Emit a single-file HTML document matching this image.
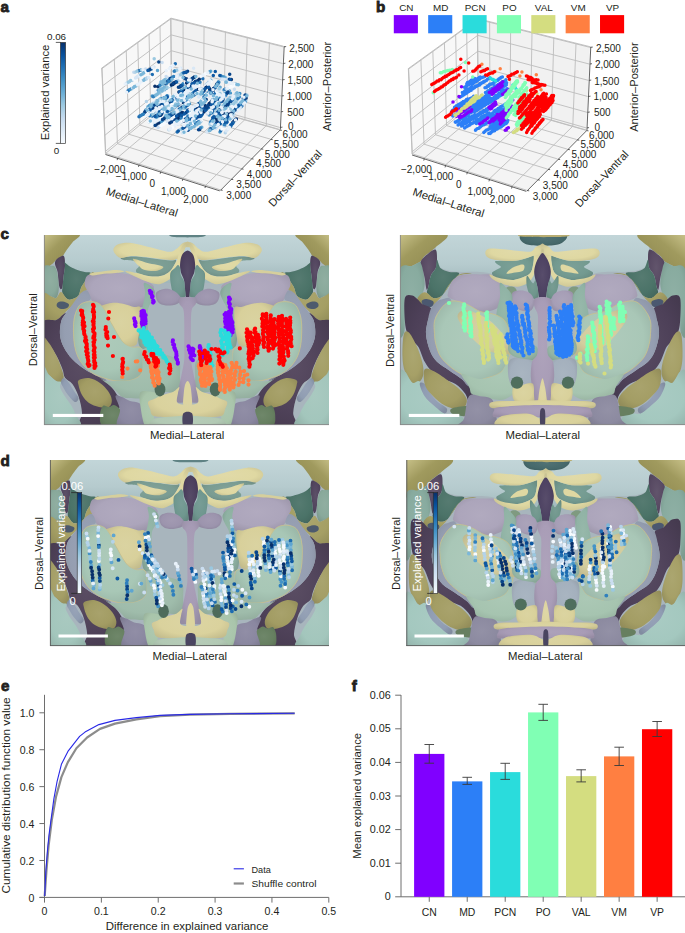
<!DOCTYPE html><html><head><meta charset="utf-8"><style>
html,body{margin:0;padding:0;background:#fff;}
svg{display:block;}
text{font-family:"Liberation Sans", sans-serif;}
</style></head><body>
<svg width="685" height="933" viewBox="0 0 685 933">
<text transform="translate(0.60,11.70)" font-size="15.2" text-anchor="start" font-weight="bold" fill="#231f20" stroke="#231f20" stroke-width="0.8">a</text>
<text transform="translate(376.00,11.60)" font-size="15.2" text-anchor="start" font-weight="bold" fill="#231f20" stroke="#231f20" stroke-width="0.8">b</text>
<text transform="translate(0.60,238.60)" font-size="15.2" text-anchor="start" font-weight="bold" fill="#231f20" stroke="#231f20" stroke-width="0.8">c</text>
<text transform="translate(0.60,466.00)" font-size="15.2" text-anchor="start" font-weight="bold" fill="#231f20" stroke="#231f20" stroke-width="0.8">d</text>
<text transform="translate(1.00,691.00)" font-size="15.2" text-anchor="start" font-weight="bold" fill="#231f20" stroke="#231f20" stroke-width="0.8">e</text>
<text transform="translate(351.80,690.60)" font-size="15.2" text-anchor="start" font-weight="bold" fill="#231f20" stroke="#231f20" stroke-width="0.8">f</text>
<polygon points="105.47,153.59 101.73,68.07 170.95,18.14 171.69,98.77" fill="#f8f8f8"/>
<polygon points="171.69,98.77 170.95,18.14 283.38,46.19 279.56,129.50" fill="#f1f1f1"/>
<polygon points="105.47,153.59 171.69,98.77 279.56,129.50 219.76,189.97" fill="#f4f4f4"/>
<line x1="105.47" y1="153.59" x2="101.73" y2="68.07" stroke="#bcbcbc" stroke-width="0.9"/>
<line x1="101.73" y1="68.07" x2="170.95" y2="18.14" stroke="#bcbcbc" stroke-width="0.9"/>
<line x1="170.95" y1="18.14" x2="283.38" y2="46.19" stroke="#bcbcbc" stroke-width="0.9"/>
<line x1="171.69" y1="98.77" x2="170.95" y2="18.14" stroke="#bcbcbc" stroke-width="0.9"/>
<line x1="105.47" y1="153.59" x2="171.69" y2="98.77" stroke="#bcbcbc" stroke-width="0.9"/>
<line x1="171.69" y1="98.77" x2="279.56" y2="129.50" stroke="#bcbcbc" stroke-width="0.9"/>
<line x1="117.75" y1="157.50" x2="183.32" y2="102.09" stroke="#bcbcbc" stroke-width="0.9"/>
<line x1="183.32" y1="102.09" x2="183.05" y2="21.16" stroke="#bcbcbc" stroke-width="0.9"/>
<line x1="139.07" y1="164.28" x2="203.49" y2="107.83" stroke="#bcbcbc" stroke-width="0.9"/>
<line x1="203.49" y1="107.83" x2="204.05" y2="26.40" stroke="#bcbcbc" stroke-width="0.9"/>
<line x1="160.80" y1="171.20" x2="224.02" y2="113.68" stroke="#bcbcbc" stroke-width="0.9"/>
<line x1="224.02" y1="113.68" x2="225.43" y2="31.73" stroke="#bcbcbc" stroke-width="0.9"/>
<line x1="182.95" y1="178.25" x2="244.91" y2="119.63" stroke="#bcbcbc" stroke-width="0.9"/>
<line x1="244.91" y1="119.63" x2="247.22" y2="37.17" stroke="#bcbcbc" stroke-width="0.9"/>
<line x1="205.55" y1="185.44" x2="266.19" y2="125.70" stroke="#bcbcbc" stroke-width="0.9"/>
<line x1="266.19" y1="125.70" x2="269.42" y2="42.71" stroke="#bcbcbc" stroke-width="0.9"/>
<line x1="105.74" y1="153.37" x2="220.00" y2="189.73" stroke="#bcbcbc" stroke-width="0.9"/>
<line x1="105.74" y1="153.37" x2="102.01" y2="67.87" stroke="#bcbcbc" stroke-width="0.9"/>
<line x1="117.45" y1="143.67" x2="230.62" y2="178.99" stroke="#bcbcbc" stroke-width="0.9"/>
<line x1="117.45" y1="143.67" x2="114.29" y2="59.01" stroke="#bcbcbc" stroke-width="0.9"/>
<line x1="128.85" y1="134.24" x2="240.93" y2="168.57" stroke="#bcbcbc" stroke-width="0.9"/>
<line x1="128.85" y1="134.24" x2="126.22" y2="50.40" stroke="#bcbcbc" stroke-width="0.9"/>
<line x1="139.93" y1="125.07" x2="250.94" y2="158.45" stroke="#bcbcbc" stroke-width="0.9"/>
<line x1="139.93" y1="125.07" x2="137.81" y2="42.05" stroke="#bcbcbc" stroke-width="0.9"/>
<line x1="150.70" y1="116.15" x2="260.66" y2="148.61" stroke="#bcbcbc" stroke-width="0.9"/>
<line x1="150.70" y1="116.15" x2="149.06" y2="33.93" stroke="#bcbcbc" stroke-width="0.9"/>
<line x1="161.19" y1="107.46" x2="270.11" y2="139.06" stroke="#bcbcbc" stroke-width="0.9"/>
<line x1="161.19" y1="107.46" x2="160.01" y2="26.03" stroke="#bcbcbc" stroke-width="0.9"/>
<line x1="171.41" y1="99.01" x2="279.30" y2="129.76" stroke="#bcbcbc" stroke-width="0.9"/>
<line x1="171.41" y1="99.01" x2="170.65" y2="18.35" stroke="#bcbcbc" stroke-width="0.9"/>
<line x1="105.38" y1="151.44" x2="171.67" y2="96.74" stroke="#bcbcbc" stroke-width="0.9"/>
<line x1="171.67" y1="96.74" x2="279.66" y2="127.41" stroke="#bcbcbc" stroke-width="0.9"/>
<line x1="104.68" y1="135.45" x2="171.53" y2="81.62" stroke="#bcbcbc" stroke-width="0.9"/>
<line x1="171.53" y1="81.62" x2="280.37" y2="111.81" stroke="#bcbcbc" stroke-width="0.9"/>
<line x1="103.97" y1="119.19" x2="171.39" y2="66.28" stroke="#bcbcbc" stroke-width="0.9"/>
<line x1="171.39" y1="66.28" x2="281.10" y2="95.96" stroke="#bcbcbc" stroke-width="0.9"/>
<line x1="103.24" y1="102.67" x2="171.25" y2="50.69" stroke="#bcbcbc" stroke-width="0.9"/>
<line x1="171.25" y1="50.69" x2="281.84" y2="79.86" stroke="#bcbcbc" stroke-width="0.9"/>
<line x1="102.51" y1="85.86" x2="171.10" y2="34.86" stroke="#bcbcbc" stroke-width="0.9"/>
<line x1="171.10" y1="34.86" x2="282.59" y2="63.50" stroke="#bcbcbc" stroke-width="0.9"/>
<line x1="101.76" y1="68.76" x2="170.96" y2="18.79" stroke="#bcbcbc" stroke-width="0.9"/>
<line x1="170.96" y1="18.79" x2="283.35" y2="46.86" stroke="#bcbcbc" stroke-width="0.9"/>
<line x1="105.47" y1="154.49" x2="219.76" y2="190.87" stroke="#3c3c3c" stroke-width="0.8"/>
<line x1="220.46" y1="190.37" x2="280.26" y2="129.90" stroke="#3c3c3c" stroke-width="0.8"/>
<line x1="280.36" y1="129.50" x2="284.18" y2="46.19" stroke="#3c3c3c" stroke-width="0.8"/>
<line x1="117.75" y1="158.00" x2="117.15" y2="160.10" stroke="#3c3c3c" stroke-width="0.8"/>
<line x1="139.07" y1="164.78" x2="138.47" y2="166.88" stroke="#3c3c3c" stroke-width="0.8"/>
<line x1="160.80" y1="171.70" x2="160.20" y2="173.80" stroke="#3c3c3c" stroke-width="0.8"/>
<line x1="182.95" y1="178.75" x2="182.35" y2="180.85" stroke="#3c3c3c" stroke-width="0.8"/>
<line x1="205.55" y1="185.94" x2="204.95" y2="188.04" stroke="#3c3c3c" stroke-width="0.8"/>
<line x1="220.50" y1="190.03" x2="222.60" y2="190.33" stroke="#3c3c3c" stroke-width="0.8"/>
<line x1="231.12" y1="179.29" x2="233.22" y2="179.59" stroke="#3c3c3c" stroke-width="0.8"/>
<line x1="241.43" y1="168.87" x2="243.53" y2="169.17" stroke="#3c3c3c" stroke-width="0.8"/>
<line x1="251.44" y1="158.75" x2="253.54" y2="159.05" stroke="#3c3c3c" stroke-width="0.8"/>
<line x1="261.16" y1="148.91" x2="263.26" y2="149.21" stroke="#3c3c3c" stroke-width="0.8"/>
<line x1="270.61" y1="139.36" x2="272.71" y2="139.66" stroke="#3c3c3c" stroke-width="0.8"/>
<line x1="279.80" y1="130.06" x2="281.90" y2="130.36" stroke="#3c3c3c" stroke-width="0.8"/>
<line x1="280.36" y1="127.41" x2="282.46" y2="127.11" stroke="#3c3c3c" stroke-width="0.8"/>
<line x1="281.07" y1="111.81" x2="283.17" y2="111.51" stroke="#3c3c3c" stroke-width="0.8"/>
<line x1="281.80" y1="95.96" x2="283.90" y2="95.66" stroke="#3c3c3c" stroke-width="0.8"/>
<line x1="282.54" y1="79.86" x2="284.64" y2="79.56" stroke="#3c3c3c" stroke-width="0.8"/>
<line x1="283.29" y1="63.50" x2="285.39" y2="63.20" stroke="#3c3c3c" stroke-width="0.8"/>
<line x1="284.05" y1="46.86" x2="286.15" y2="46.56" stroke="#3c3c3c" stroke-width="0.8"/>
<text transform="translate(109.80,172.90)" font-size="10.0" text-anchor="middle" font-weight="normal" fill="#231f20">−2,000</text>
<text transform="translate(131.30,179.90)" font-size="10.0" text-anchor="middle" font-weight="normal" fill="#231f20">−1,000</text>
<text transform="translate(152.30,187.00)" font-size="10.0" text-anchor="middle" font-weight="normal" fill="#231f20">0</text>
<text transform="translate(173.40,194.70)" font-size="10.0" text-anchor="middle" font-weight="normal" fill="#231f20">1,000</text>
<text transform="translate(195.70,202.70)" font-size="10.0" text-anchor="middle" font-weight="normal" fill="#231f20">2,000</text>
<text transform="translate(226.20,199.00)" font-size="10.0" text-anchor="start" font-weight="normal" fill="#231f20">3,000</text>
<text transform="translate(236.20,188.00)" font-size="10.0" text-anchor="start" font-weight="normal" fill="#231f20">3,500</text>
<text transform="translate(246.80,177.80)" font-size="10.0" text-anchor="start" font-weight="normal" fill="#231f20">4,000</text>
<text transform="translate(256.10,167.40)" font-size="10.0" text-anchor="start" font-weight="normal" fill="#231f20">4,500</text>
<text transform="translate(264.80,157.50)" font-size="10.0" text-anchor="start" font-weight="normal" fill="#231f20">5,000</text>
<text transform="translate(273.80,147.90)" font-size="10.0" text-anchor="start" font-weight="normal" fill="#231f20">5,500</text>
<text transform="translate(282.50,138.20)" font-size="10.0" text-anchor="start" font-weight="normal" fill="#231f20">6,000</text>
<text transform="translate(287.90,130.30)" font-size="10.0" text-anchor="start" font-weight="normal" fill="#231f20">0</text>
<text transform="translate(287.30,115.80)" font-size="10.0" text-anchor="start" font-weight="normal" fill="#231f20">500</text>
<text transform="translate(286.80,99.80)" font-size="10.0" text-anchor="start" font-weight="normal" fill="#231f20">1,000</text>
<text transform="translate(287.60,84.00)" font-size="10.0" text-anchor="start" font-weight="normal" fill="#231f20">1,500</text>
<text transform="translate(288.30,67.60)" font-size="10.0" text-anchor="start" font-weight="normal" fill="#231f20">2,000</text>
<text transform="translate(289.30,51.60)" font-size="10.0" text-anchor="start" font-weight="normal" fill="#231f20">2,500</text>
<text transform="translate(105.30,194.60) rotate(17.5)" font-size="11.1" text-anchor="start" font-weight="normal" fill="#231f20" textLength="74.5" lengthAdjust="spacingAndGlyphs">Medial–Lateral</text>
<text transform="translate(273.20,207.60) rotate(-47)" font-size="11.1" text-anchor="start" font-weight="normal" fill="#231f20" textLength="72.5" lengthAdjust="spacingAndGlyphs">Dorsal–Ventral</text>
<text transform="translate(331.20,131.30) rotate(-90)" font-size="11.1" text-anchor="start" font-weight="normal" fill="#231f20" textLength="89.5" lengthAdjust="spacingAndGlyphs">Anterior–Posterior</text>
<polygon points="412.07,154.09 408.33,68.57 477.55,18.64 478.29,99.27" fill="#f8f8f8"/>
<polygon points="478.29,99.27 477.55,18.64 589.98,46.69 586.16,130.00" fill="#f1f1f1"/>
<polygon points="412.07,154.09 478.29,99.27 586.16,130.00 526.36,190.47" fill="#f4f4f4"/>
<line x1="412.07" y1="154.09" x2="408.33" y2="68.57" stroke="#bcbcbc" stroke-width="0.9"/>
<line x1="408.33" y1="68.57" x2="477.55" y2="18.64" stroke="#bcbcbc" stroke-width="0.9"/>
<line x1="477.55" y1="18.64" x2="589.98" y2="46.69" stroke="#bcbcbc" stroke-width="0.9"/>
<line x1="478.29" y1="99.27" x2="477.55" y2="18.64" stroke="#bcbcbc" stroke-width="0.9"/>
<line x1="412.07" y1="154.09" x2="478.29" y2="99.27" stroke="#bcbcbc" stroke-width="0.9"/>
<line x1="478.29" y1="99.27" x2="586.16" y2="130.00" stroke="#bcbcbc" stroke-width="0.9"/>
<line x1="424.35" y1="158.00" x2="489.92" y2="102.59" stroke="#bcbcbc" stroke-width="0.9"/>
<line x1="489.92" y1="102.59" x2="489.65" y2="21.66" stroke="#bcbcbc" stroke-width="0.9"/>
<line x1="445.67" y1="164.78" x2="510.09" y2="108.33" stroke="#bcbcbc" stroke-width="0.9"/>
<line x1="510.09" y1="108.33" x2="510.65" y2="26.90" stroke="#bcbcbc" stroke-width="0.9"/>
<line x1="467.40" y1="171.70" x2="530.62" y2="114.18" stroke="#bcbcbc" stroke-width="0.9"/>
<line x1="530.62" y1="114.18" x2="532.03" y2="32.23" stroke="#bcbcbc" stroke-width="0.9"/>
<line x1="489.55" y1="178.75" x2="551.51" y2="120.13" stroke="#bcbcbc" stroke-width="0.9"/>
<line x1="551.51" y1="120.13" x2="553.82" y2="37.67" stroke="#bcbcbc" stroke-width="0.9"/>
<line x1="512.15" y1="185.94" x2="572.79" y2="126.20" stroke="#bcbcbc" stroke-width="0.9"/>
<line x1="572.79" y1="126.20" x2="576.02" y2="43.21" stroke="#bcbcbc" stroke-width="0.9"/>
<line x1="412.34" y1="153.87" x2="526.60" y2="190.23" stroke="#bcbcbc" stroke-width="0.9"/>
<line x1="412.34" y1="153.87" x2="408.61" y2="68.37" stroke="#bcbcbc" stroke-width="0.9"/>
<line x1="424.05" y1="144.17" x2="537.22" y2="179.49" stroke="#bcbcbc" stroke-width="0.9"/>
<line x1="424.05" y1="144.17" x2="420.89" y2="59.51" stroke="#bcbcbc" stroke-width="0.9"/>
<line x1="435.45" y1="134.74" x2="547.53" y2="169.07" stroke="#bcbcbc" stroke-width="0.9"/>
<line x1="435.45" y1="134.74" x2="432.82" y2="50.90" stroke="#bcbcbc" stroke-width="0.9"/>
<line x1="446.53" y1="125.57" x2="557.54" y2="158.95" stroke="#bcbcbc" stroke-width="0.9"/>
<line x1="446.53" y1="125.57" x2="444.41" y2="42.55" stroke="#bcbcbc" stroke-width="0.9"/>
<line x1="457.30" y1="116.65" x2="567.26" y2="149.11" stroke="#bcbcbc" stroke-width="0.9"/>
<line x1="457.30" y1="116.65" x2="455.66" y2="34.43" stroke="#bcbcbc" stroke-width="0.9"/>
<line x1="467.79" y1="107.96" x2="576.71" y2="139.56" stroke="#bcbcbc" stroke-width="0.9"/>
<line x1="467.79" y1="107.96" x2="466.61" y2="26.53" stroke="#bcbcbc" stroke-width="0.9"/>
<line x1="478.01" y1="99.51" x2="585.90" y2="130.26" stroke="#bcbcbc" stroke-width="0.9"/>
<line x1="478.01" y1="99.51" x2="477.25" y2="18.85" stroke="#bcbcbc" stroke-width="0.9"/>
<line x1="411.98" y1="151.94" x2="478.27" y2="97.24" stroke="#bcbcbc" stroke-width="0.9"/>
<line x1="478.27" y1="97.24" x2="586.26" y2="127.91" stroke="#bcbcbc" stroke-width="0.9"/>
<line x1="411.28" y1="135.95" x2="478.13" y2="82.12" stroke="#bcbcbc" stroke-width="0.9"/>
<line x1="478.13" y1="82.12" x2="586.97" y2="112.31" stroke="#bcbcbc" stroke-width="0.9"/>
<line x1="410.57" y1="119.69" x2="477.99" y2="66.78" stroke="#bcbcbc" stroke-width="0.9"/>
<line x1="477.99" y1="66.78" x2="587.70" y2="96.46" stroke="#bcbcbc" stroke-width="0.9"/>
<line x1="409.84" y1="103.17" x2="477.85" y2="51.19" stroke="#bcbcbc" stroke-width="0.9"/>
<line x1="477.85" y1="51.19" x2="588.44" y2="80.36" stroke="#bcbcbc" stroke-width="0.9"/>
<line x1="409.11" y1="86.36" x2="477.70" y2="35.36" stroke="#bcbcbc" stroke-width="0.9"/>
<line x1="477.70" y1="35.36" x2="589.19" y2="64.00" stroke="#bcbcbc" stroke-width="0.9"/>
<line x1="408.36" y1="69.26" x2="477.56" y2="19.29" stroke="#bcbcbc" stroke-width="0.9"/>
<line x1="477.56" y1="19.29" x2="589.95" y2="47.36" stroke="#bcbcbc" stroke-width="0.9"/>
<line x1="412.07" y1="154.99" x2="526.36" y2="191.37" stroke="#3c3c3c" stroke-width="0.8"/>
<line x1="527.06" y1="190.87" x2="586.86" y2="130.40" stroke="#3c3c3c" stroke-width="0.8"/>
<line x1="586.96" y1="130.00" x2="590.78" y2="46.69" stroke="#3c3c3c" stroke-width="0.8"/>
<line x1="424.35" y1="158.50" x2="423.75" y2="160.60" stroke="#3c3c3c" stroke-width="0.8"/>
<line x1="445.67" y1="165.28" x2="445.07" y2="167.38" stroke="#3c3c3c" stroke-width="0.8"/>
<line x1="467.40" y1="172.20" x2="466.80" y2="174.30" stroke="#3c3c3c" stroke-width="0.8"/>
<line x1="489.55" y1="179.25" x2="488.95" y2="181.35" stroke="#3c3c3c" stroke-width="0.8"/>
<line x1="512.15" y1="186.44" x2="511.55" y2="188.54" stroke="#3c3c3c" stroke-width="0.8"/>
<line x1="527.10" y1="190.53" x2="529.20" y2="190.83" stroke="#3c3c3c" stroke-width="0.8"/>
<line x1="537.72" y1="179.79" x2="539.82" y2="180.09" stroke="#3c3c3c" stroke-width="0.8"/>
<line x1="548.03" y1="169.37" x2="550.13" y2="169.67" stroke="#3c3c3c" stroke-width="0.8"/>
<line x1="558.04" y1="159.25" x2="560.14" y2="159.55" stroke="#3c3c3c" stroke-width="0.8"/>
<line x1="567.76" y1="149.41" x2="569.86" y2="149.71" stroke="#3c3c3c" stroke-width="0.8"/>
<line x1="577.21" y1="139.86" x2="579.31" y2="140.16" stroke="#3c3c3c" stroke-width="0.8"/>
<line x1="586.40" y1="130.56" x2="588.50" y2="130.86" stroke="#3c3c3c" stroke-width="0.8"/>
<line x1="586.96" y1="127.91" x2="589.06" y2="127.61" stroke="#3c3c3c" stroke-width="0.8"/>
<line x1="587.67" y1="112.31" x2="589.77" y2="112.01" stroke="#3c3c3c" stroke-width="0.8"/>
<line x1="588.40" y1="96.46" x2="590.50" y2="96.16" stroke="#3c3c3c" stroke-width="0.8"/>
<line x1="589.14" y1="80.36" x2="591.24" y2="80.06" stroke="#3c3c3c" stroke-width="0.8"/>
<line x1="589.89" y1="64.00" x2="591.99" y2="63.70" stroke="#3c3c3c" stroke-width="0.8"/>
<line x1="590.65" y1="47.36" x2="592.75" y2="47.06" stroke="#3c3c3c" stroke-width="0.8"/>
<text transform="translate(416.40,173.40)" font-size="10.0" text-anchor="middle" font-weight="normal" fill="#231f20">−2,000</text>
<text transform="translate(437.90,180.40)" font-size="10.0" text-anchor="middle" font-weight="normal" fill="#231f20">−1,000</text>
<text transform="translate(458.90,187.50)" font-size="10.0" text-anchor="middle" font-weight="normal" fill="#231f20">0</text>
<text transform="translate(480.00,195.20)" font-size="10.0" text-anchor="middle" font-weight="normal" fill="#231f20">1,000</text>
<text transform="translate(502.30,203.20)" font-size="10.0" text-anchor="middle" font-weight="normal" fill="#231f20">2,000</text>
<text transform="translate(532.80,199.50)" font-size="10.0" text-anchor="start" font-weight="normal" fill="#231f20">3,000</text>
<text transform="translate(542.80,188.50)" font-size="10.0" text-anchor="start" font-weight="normal" fill="#231f20">3,500</text>
<text transform="translate(553.40,178.30)" font-size="10.0" text-anchor="start" font-weight="normal" fill="#231f20">4,000</text>
<text transform="translate(562.70,167.90)" font-size="10.0" text-anchor="start" font-weight="normal" fill="#231f20">4,500</text>
<text transform="translate(571.40,158.00)" font-size="10.0" text-anchor="start" font-weight="normal" fill="#231f20">5,000</text>
<text transform="translate(580.40,148.40)" font-size="10.0" text-anchor="start" font-weight="normal" fill="#231f20">5,500</text>
<text transform="translate(589.10,138.70)" font-size="10.0" text-anchor="start" font-weight="normal" fill="#231f20">6,000</text>
<text transform="translate(594.50,130.80)" font-size="10.0" text-anchor="start" font-weight="normal" fill="#231f20">0</text>
<text transform="translate(593.90,116.30)" font-size="10.0" text-anchor="start" font-weight="normal" fill="#231f20">500</text>
<text transform="translate(593.40,100.30)" font-size="10.0" text-anchor="start" font-weight="normal" fill="#231f20">1,000</text>
<text transform="translate(594.20,84.50)" font-size="10.0" text-anchor="start" font-weight="normal" fill="#231f20">1,500</text>
<text transform="translate(594.90,68.10)" font-size="10.0" text-anchor="start" font-weight="normal" fill="#231f20">2,000</text>
<text transform="translate(595.90,52.10)" font-size="10.0" text-anchor="start" font-weight="normal" fill="#231f20">2,500</text>
<text transform="translate(411.90,195.10) rotate(17.5)" font-size="11.1" text-anchor="start" font-weight="normal" fill="#231f20" textLength="74.5" lengthAdjust="spacingAndGlyphs">Medial–Lateral</text>
<text transform="translate(579.80,208.10) rotate(-47)" font-size="11.1" text-anchor="start" font-weight="normal" fill="#231f20" textLength="72.5" lengthAdjust="spacingAndGlyphs">Dorsal–Ventral</text>
<text transform="translate(637.80,131.80) rotate(-90)" font-size="11.1" text-anchor="start" font-weight="normal" fill="#231f20" textLength="89.5" lengthAdjust="spacingAndGlyphs">Anterior–Posterior</text>
<path d="M461.6 117.3h0M463.4 116.7h0M464.4 115.7h0M465.1 115.3h0M466.4 114.6h0M468.0 113.6h0M468.7 113.3h0M470.1 112.0h0M470.7 111.3h0M472.5 111.1h0M473.0 110.4h0M474.8 109.6h0M475.4 108.8h0M476.4 107.6h0M478.2 107.4h0M479.0 107.0h0M480.0 106.2h0M481.5 105.0h0M482.2 104.4h0M483.3 103.9h0M484.4 103.0h0M485.5 102.7h0M486.8 101.7h0M488.1 101.3h0M489.1 100.6h0M490.3 99.6h0M491.4 98.5h0M465.3 112.2h0M466.1 112.0h0M467.4 111.0h0M469.0 110.4h0M469.8 109.6h0M471.2 109.1h0M472.0 108.2h0M473.2 107.3h0M474.8 106.8h0M475.8 106.2h0M477.2 105.3h0M478.1 104.6h0M479.2 104.0h0M480.3 103.2h0M481.5 102.8h0M482.8 102.0h0M484.2 100.8h0M485.0 100.7h0M486.4 99.3h0M487.0 98.8h0M488.1 97.9h0M489.3 97.6h0M452.1 111.1h0M452.7 110.3h0M454.2 109.1h0M455.5 109.1h0M456.1 108.4h0M457.4 107.3h0M459.0 106.9h0M459.5 105.9h0M460.9 105.1h0M461.8 104.4h0M463.3 103.4h0M464.3 103.0h0M465.0 102.3h0M466.7 101.7h0M467.3 101.4h0M469.1 100.7h0M469.6 99.4h0M470.7 99.1h0M472.0 97.9h0M473.3 97.8h0M487.1 86.5h0M487.6 86.4h0M489.1 85.5h0M489.8 84.3h0M491.4 83.9h0M492.0 83.7h0M493.6 82.9h0M494.2 82.2h0M495.3 81.5h0M496.7 80.4h0M497.9 80.2h0M498.8 78.9h0M500.1 78.3h0M500.9 77.5h0M455.6 122.2h0M456.9 121.6h0M458.4 120.9h0M459.3 120.1h0M460.3 119.2h0M461.3 118.5h0M462.9 118.3h0M463.5 117.5h0M465.3 116.5h0M466.3 116.1h0M467.2 115.7h0M468.2 114.7h0M494.7 121.6h0M495.6 120.8h0M497.0 120.0h0M497.9 119.0h0M498.7 118.2h0M499.8 118.0h0M501.1 116.8h0M502.1 116.6h0M503.8 115.8h0M504.5 114.8h0M505.6 114.2h0M506.6 113.5h0M507.9 113.3h0M472.4 84.2h0M473.0 83.8h0M474.2 82.6h0M475.1 81.9h0M476.6 81.3h0M477.5 80.6h0M478.5 79.7h0M479.7 79.1h0M480.8 78.1h0M482.2 77.6h0M483.5 77.1h0M484.8 76.5h0M463.5 110.0h0M464.3 108.9h0M465.9 108.1h0M466.8 107.7h0M467.4 107.2h0M469.2 106.3h0M470.2 105.8h0M470.9 104.9h0M472.3 104.4h0M473.7 103.7h0M474.6 103.1h0M475.8 102.2h0M476.6 101.0h0M477.6 100.5h0M478.7 100.2h0M480.2 99.3h0M481.4 98.7h0M482.4 97.4h0M483.8 97.3h0M484.7 96.5h0M486.0 95.4h0M487.1 94.9h0M487.7 94.2h0M489.4 93.4h0M490.5 93.3h0M491.5 92.2h0M469.1 120.0h0M470.5 119.3h0M471.6 118.1h0M472.3 117.6h0M473.9 116.9h0M474.9 115.9h0M475.7 115.4h0M477.3 115.1h0M478.5 114.0h0M479.5 113.5h0M480.6 112.5h0M482.1 111.8h0M483.3 111.7h0M483.7 110.6h0M485.5 110.3h0M486.3 109.0h0M487.3 108.9h0M488.4 107.9h0M489.5 107.1h0M491.3 106.1h0M492.4 105.7h0M479.6 108.2h0M480.2 107.6h0M481.6 106.2h0M482.4 105.9h0M483.9 105.0h0M484.8 104.4h0M486.1 104.0h0M487.0 103.3h0M488.8 102.0h0M490.0 101.8h0M491.1 100.7h0M491.9 100.1h0M493.5 99.6h0M494.1 98.7h0M495.2 97.7h0M496.2 97.6h0M497.5 97.0h0M498.7 95.7h0M489.5 122.8h0M490.5 122.7h0M492.1 121.9h0M493.0 121.2h0M494.3 120.3h0M495.3 119.2h0M496.4 118.8h0M497.5 118.3h0M498.3 117.1h0M499.9 116.5h0M500.7 115.9h0M501.6 115.6h0M503.3 114.5h0M504.2 113.8h0M505.2 113.2h0M506.0 112.3h0M507.2 112.2h0M462.4 92.6h0M463.9 92.5h0M464.7 91.0h0M465.6 90.3h0M466.9 89.6h0M468.0 89.0h0M469.5 88.7h0M470.8 87.6h0M471.7 87.0h0M481.0 107.3h0M481.9 106.5h0M483.7 105.7h0M484.5 105.4h0M485.9 104.4h0M486.6 103.7h0M487.8 103.1h0M489.4 102.8h0M490.4 101.4h0M490.9 101.2h0M492.7 100.4h0M493.6 99.3h0M494.6 99.3h0M496.0 98.6h0M497.3 97.4h0M497.7 96.6h0M499.2 96.3h0M500.6 95.6h0M501.5 95.0h0M502.5 94.1h0M503.3 93.6h0M504.6 93.0h0M506.1 91.8h0M506.8 91.1h0M466.8 83.7h0M467.5 82.5h0M468.9 82.2h0M470.0 81.2h0M471.3 80.3h0M472.2 80.0h0M473.8 79.4h0M474.9 78.6h0M487.4 95.9h0M489.1 95.5h0M489.7 94.3h0M490.9 94.1h0M492.0 93.1h0M493.3 93.0h0M494.1 91.6h0M495.2 91.2h0M496.6 90.3h0M497.8 90.1h0M498.7 89.0h0M500.2 88.4h0M501.2 87.6h0M501.8 87.3h0M503.0 86.8h0M504.2 85.5h0M485.0 87.8h0M486.4 87.5h0M487.2 86.4h0M488.3 86.2h0M489.4 84.7h0M490.4 84.3h0M492.2 84.0h0M493.2 83.4h0M494.5 82.2h0M495.0 82.0h0M496.6 80.5h0M497.7 80.1h0M498.5 79.4h0M499.5 78.4h0M500.7 78.0h0M502.4 77.1h0M485.5 92.6h0M486.1 92.4h0M487.6 91.4h0M488.1 90.7h0M489.5 90.4h0M490.5 89.2h0M492.2 88.3h0M493.0 88.2h0M494.4 86.9h0M494.9 86.2h0M496.8 85.6h0M497.8 85.4h0M498.6 84.2h0M500.2 83.8h0M500.8 83.2h0M502.0 82.1h0M502.9 81.8h0M504.7 81.0h0M505.9 79.8h0M462.9 94.4h0M464.7 94.1h0M465.4 92.8h0M466.6 92.3h0M468.1 91.4h0M469.2 91.1h0M470.3 90.4h0M471.3 89.3h0M472.2 88.6h0M473.7 87.7h0M474.4 87.5h0M475.6 86.3h0M476.6 85.9h0M478.0 85.6h0M479.6 84.9h0M480.2 83.4h0M481.3 83.0h0M482.9 82.3h0M483.7 81.5h0M485.1 81.0h0M486.4 80.5h0M487.5 79.2h0M488.8 78.6h0M489.7 77.9h0M452.8 115.9h0M453.5 115.2h0M454.6 115.1h0M456.1 113.9h0M457.1 113.7h0M458.3 112.4h0M459.7 112.0h0M461.0 110.9h0M461.7 110.8h0M463.1 110.1h0M463.6 108.9h0M464.8 108.1h0M466.6 107.8h0M465.5 93.5h0M466.5 92.8h0M467.2 92.4h0M468.9 91.1h0M469.8 90.8h0M470.6 89.9h0M471.7 89.1h0M472.9 88.7h0M474.4 87.7h0M475.0 87.1h0M476.7 86.2h0M477.5 85.6h0M479.1 85.1h0M479.6 84.1h0M481.0 83.7h0M482.4 82.6h0M483.1 82.4h0M484.5 81.4h0M497.2 128.9h0M498.3 128.0h0M499.4 127.1h0M500.9 126.9h0M501.6 125.6h0M503.0 124.9h0M503.6 124.8h0M505.0 124.0h0M506.1 123.4h0M507.3 122.1h0M491.2 94.1h0M492.8 93.7h0M493.5 92.7h0M494.8 92.0h0M495.7 91.1h0M497.2 90.9h0M498.0 89.9h0M499.6 89.5h0M500.3 88.2h0M502.0 88.2h0M502.8 86.7h0M504.2 86.3h0M505.3 85.8h0M506.4 84.7h0M492.2 117.9h0M493.0 117.7h0M494.5 116.4h0M495.1 115.9h0M496.5 115.2h0M497.3 114.4h0M498.9 114.2h0M499.5 113.3h0M501.2 112.2h0M502.4 111.5h0M503.3 111.2h0M504.4 110.3h0M505.4 109.8h0M506.5 109.2h0M507.7 108.3h0M458.1 124.9h0M459.6 123.9h0M460.9 123.6h0M461.8 122.4h0M463.0 121.7h0M463.8 121.2h0M464.9 120.5h0M466.4 119.5h0M467.6 118.9h0M468.8 118.7h0M469.8 117.4h0M470.9 117.0h0M472.4 116.1h0M473.4 116.1h0M474.5 115.2h0M475.2 114.7h0M451.4 112.2h0M452.9 110.8h0M453.9 110.8h0M454.4 109.6h0M456.1 108.8h0M457.3 108.2h0M458.4 107.4h0M459.2 107.3h0M460.1 106.1h0M461.5 105.4h0M462.2 104.6h0M463.4 104.5h0M465.0 103.8h0M474.1 104.1h0M475.2 103.2h0M476.7 102.3h0M478.0 101.8h0M478.9 101.4h0M479.6 100.8h0M481.1 99.6h0M482.4 98.8h0M483.6 98.4h0M484.3 97.8h0M485.4 96.7h0M486.8 95.9h0M488.0 95.4h0M488.9 95.3h0M490.0 94.3h0M490.9 93.1h0M491.8 92.5h0M493.3 92.1h0M494.4 91.7h0M495.2 90.5h0M496.7 89.7h0M494.1 110.9h0M495.4 110.2h0M496.6 109.7h0M498.1 108.6h0M499.2 108.1h0M500.0 107.8h0M501.2 106.5h0M502.3 106.1h0M504.0 105.5h0M504.8 104.4h0M505.6 104.0h0M507.2 103.1h0M508.4 102.4h0M492.6 91.4h0M493.3 90.9h0M494.3 89.8h0M495.8 88.9h0M496.7 88.6h0M497.8 87.7h0M499.7 86.6h0M500.3 86.2h0M501.7 85.5h0M503.1 84.4h0M503.9 83.8h0M504.9 83.5h0M506.6 82.7h0M493.6 129.5h0M495.4 128.5h0M496.5 127.7h0M497.2 126.8h0M498.3 126.0h0M499.5 125.9h0M500.9 125.3h0M502.1 124.1h0M503.1 123.5h0M504.4 122.9h0M505.1 122.3h0M506.8 121.3h0M507.8 120.4h0M455.3 122.0h0M456.8 121.8h0M458.0 120.6h0M459.2 119.9h0M459.8 119.7h0M461.3 118.8h0M462.5 118.3h0M463.5 117.5h0M464.8 116.8h0M465.7 116.0h0M467.0 114.9h0M467.8 114.5h0M468.9 114.0h0M470.0 112.6h0M471.2 112.6h0M472.5 111.3h0M473.4 110.5h0M475.1 110.2h0M476.2 109.6h0M490.8 117.4h0M492.2 116.9h0M493.7 116.2h0M494.3 115.5h0M496.1 114.9h0M496.6 113.6h0M497.7 112.7h0M499.5 112.6h0M500.4 111.9h0M501.6 110.8h0M502.3 109.9h0M504.0 109.3h0M504.8 108.8h0M505.7 107.9h0M507.0 107.6h0M508.2 106.6h0M494.1 97.2h0M495.2 96.5h0M495.7 95.7h0M497.1 95.3h0M498.2 94.5h0M499.5 93.4h0M500.9 92.6h0M502.0 92.0h0M502.4 91.3h0M504.2 91.2h0M504.7 90.1h0M506.2 89.7h0M507.1 88.7h0M461.7 125.9h0M462.8 125.3h0M463.9 124.1h0M465.3 123.6h0M466.0 123.0h0M467.0 122.5h0M468.7 121.8h0M469.7 120.7h0M470.6 120.1h0M472.1 119.1h0M473.2 118.4h0M473.8 117.9h0M475.5 117.4h0M476.2 117.0h0M477.2 116.0h0M464.5 87.3h0M465.8 86.5h0M466.6 85.6h0M467.6 85.3h0M469.2 84.5h0M469.9 83.5h0M471.5 82.9h0M472.2 82.1h0M473.9 81.2h0M474.5 80.6h0M476.1 80.3h0M476.8 79.0h0M478.0 78.5h0M479.3 77.6h0M480.3 76.9h0M475.5 130.3h0M475.9 129.8h0M477.1 128.7h0M478.9 128.3h0M479.8 127.3h0M480.5 126.8h0M481.6 125.8h0M482.9 124.9h0M484.0 124.8h0M485.4 123.9h0M486.5 123.2h0M487.2 122.6h0M488.5 122.0h0M490.1 121.1h0M490.9 120.6h0M491.9 119.5h0M493.3 119.3h0M494.4 118.5h0M495.6 117.8h0M457.9 106.3h0M458.8 105.7h0M459.8 104.8h0M461.5 104.3h0M462.5 103.3h0M463.5 102.7h0M464.8 101.9h0M466.0 101.6h0M466.8 100.7h0M468.4 99.8h0M469.4 99.5h0M470.1 98.5h0M471.4 97.9h0M473.2 97.0h0M473.7 96.3h0M459.9 97.3h0M461.0 96.5h0M462.4 95.7h0M463.2 95.3h0M464.2 94.4h0M465.5 93.8h0M466.4 93.2h0M467.7 91.8h0M468.8 91.4h0M469.7 90.7h0M471.2 90.2h0M472.3 89.1h0M476.4 123.5h0M478.1 122.6h0M478.7 122.1h0M480.0 120.9h0M481.0 120.7h0M482.7 119.8h0M483.5 119.1h0M484.5 118.7h0M485.8 117.7h0M487.3 117.1h0M488.2 116.0h0M489.4 115.1h0M490.8 114.6h0M491.9 113.8h0M492.7 113.1h0M493.9 112.3h0M494.7 112.0h0M496.1 110.9h0M497.3 110.4h0M498.5 109.8h0M499.9 108.9h0M501.2 108.6h0M488.8 133.4h0M490.6 132.7h0M491.1 132.1h0M492.6 130.7h0M493.2 130.8h0M494.8 129.5h0M495.5 128.8h0M496.7 128.6h0M497.9 127.4h0M499.5 127.2h0M474.0 112.0h0M475.5 111.2h0M476.7 110.5h0M478.0 109.8h0M478.7 109.0h0M480.1 108.3h0M481.2 107.7h0M482.4 106.5h0M483.3 105.7h0M484.7 104.9h0M485.8 104.2h0M487.0 103.8h0M488.1 103.4h0M488.9 102.7h0M490.4 101.7h0M491.7 101.2h0M492.6 100.2h0M494.2 99.2h0M495.1 98.9h0M495.8 98.2h0M497.5 97.7h0M498.3 97.1h0M499.6 95.9h0M501.1 94.9h0M454.6 107.3h0M455.4 106.8h0M456.5 105.8h0M457.8 105.4h0M458.6 104.4h0M459.9 103.8h0M461.3 102.9h0M462.5 102.3h0M463.3 101.5h0M464.4 101.4h0M465.6 100.6h0M466.5 99.5h0M467.6 99.1h0M490.2 126.8h0M490.8 126.0h0M492.7 125.2h0M493.1 124.3h0M494.2 123.5h0M496.1 123.1h0M497.0 122.6h0M498.3 121.7h0M499.2 121.0h0M500.4 120.3h0M501.6 119.3h0M502.7 118.8h0M503.9 117.8h0M504.6 117.1h0M506.2 117.1h0M507.2 115.9h0M490.2 133.5h0M491.1 132.4h0M492.0 131.8h0M493.2 131.1h0M494.6 130.8h0M495.3 129.8h0M496.4 128.7h0M498.2 128.3h0M499.4 127.5h0M499.9 126.8h0M501.5 126.5h0M502.9 125.4h0M503.6 124.4h0M505.0 123.8h0M505.7 122.9h0M506.7 122.7h0M483.8 132.4h0M484.9 131.6h0M486.1 130.2h0M487.7 129.7h0M488.9 129.0h0M489.5 128.7h0M491.2 128.1h0M492.3 126.8h0M493.4 126.5h0M494.4 126.0h0M495.4 125.3h0M496.9 123.9h0M497.5 123.7h0M499.3 122.5h0M500.0 122.3h0M501.0 121.7h0M502.4 120.3h0M503.5 120.0h0M504.7 119.4h0M464.6 127.9h0M466.0 127.1h0M467.3 126.2h0M468.2 125.8h0M469.8 125.1h0M470.7 123.9h0M471.4 123.8h0M473.1 123.0h0M473.9 122.1h0M475.6 121.6h0M476.4 120.4h0M477.4 120.2h0M478.5 119.3h0M479.8 118.8h0M481.1 117.6h0M481.6 116.9h0M483.1 116.4h0M484.6 115.9h0M485.1 115.2h0M486.8 114.5h0M487.8 113.3h0M489.1 113.0h0M473.4 118.8h0M474.2 117.4h0M475.5 117.3h0M476.3 116.6h0M478.0 115.5h0M478.9 115.1h0M479.9 114.1h0M480.8 113.8h0M482.4 112.9h0M482.9 112.5h0M484.6 111.3h0M485.5 111.2h0M486.9 110.2h0M487.7 109.5h0M488.6 108.5h0M489.7 108.2h0M490.9 107.4h0M492.1 106.7h0M493.0 105.6h0M494.8 105.2h0" stroke="#2c7ff7" stroke-width="3.50" stroke-linecap="round" fill="none"/>
<path d="M461.5 86.8h0M453.0 101.9h0M458.9 96.6h0M456.2 110.0h0M457.5 110.4h0M459.1 109.8h0M460.0 109.1h0M461.2 109.1h0M462.8 108.7h0M464.0 107.8h0M465.7 108.1h0M467.0 107.5h0M468.3 107.1h0M469.2 106.5h0M456.6 116.3h0M457.9 115.5h0M459.5 114.6h0M460.0 113.5h0M461.0 113.0h0M462.7 111.9h0M463.5 110.9h0M464.8 110.1h0M465.8 109.0h0M466.5 108.1h0M468.0 107.7h0M468.6 107.1h0M469.8 105.9h0M459.7 117.8h0M461.4 117.1h0M461.9 116.5h0M463.1 116.1h0M464.1 115.5h0M465.1 114.7h0M466.7 113.4h0M467.6 112.7h0M468.5 111.9h0M469.7 111.8h0M471.3 111.1h0M471.7 109.8h0M489.3 92.6h0M490.3 92.0h0M491.5 90.9h0M492.5 90.3h0M493.0 89.2h0M494.7 88.8h0M495.2 87.9h0M496.9 86.9h0M497.7 85.9h0M498.4 85.6h0M499.9 84.3h0M500.5 83.4h0M502.0 82.8h0M502.8 81.8h0M492.1 94.2h0M493.4 93.2h0M494.0 91.9h0M495.5 91.3h0M496.6 90.1h0M497.8 89.4h0M498.9 89.0h0M499.8 87.4h0M501.2 86.9h0M502.3 85.8h0M493.7 119.3h0M495.0 117.9h0M496.0 117.3h0M496.8 116.4h0M498.2 115.5h0M499.0 114.8h0M500.7 114.1h0M501.3 113.1h0M502.4 112.3h0M503.2 111.5h0M505.0 110.3h0M505.7 109.5h0M506.8 108.2h0M508.2 107.5h0M508.7 106.5h0M509.8 106.3h0M497.6 117.7h0M499.3 117.0h0M499.8 116.5h0M501.4 115.6h0M502.6 114.5h0M503.8 114.2h0M504.2 112.9h0M505.7 112.4h0M506.6 111.3h0M507.8 110.5h0M509.1 110.3h0M479.7 124.1h0M481.3 122.9h0M482.5 122.6h0M483.3 121.4h0M484.8 120.6h0M485.6 120.1h0M487.1 118.7h0M487.8 117.9h0M499.3 119.9h0M500.5 119.1h0M501.5 118.1h0M502.5 117.4h0M503.0 116.4h0M504.1 115.5h0M505.4 114.6h0M506.0 113.3h0M507.5 112.9h0M508.6 111.2h0M490.3 108.9h0M491.4 108.5h0M492.1 107.6h0M493.7 106.1h0M494.4 105.2h0M496.0 104.3h0M502.5 94.3h0M503.5 94.0h0M504.6 92.9h0M505.7 92.1h0M506.8 90.8h0M508.2 90.2h0M509.0 89.5h0M493.2 120.9h0M493.8 120.0h0M495.0 119.6h0M496.3 118.0h0M496.9 117.6h0M498.4 116.3h0M499.3 115.2h0M500.7 114.4h0M500.3 124.0h0M500.6 122.9h0M501.7 122.4h0M502.9 120.9h0M503.6 120.3h0M504.8 119.6h0M505.7 118.5h0M506.4 117.8h0M505.2 130.2h0M506.3 130.0h0M506.9 128.5h0M508.4 127.7h0M489.0 107.5h0M490.0 106.7h0M491.3 106.0h0M492.7 104.4h0M493.3 104.1h0M494.6 103.1h0M495.4 102.1h0M506.7 105.2h0M508.0 104.8h0M509.1 103.7h0M509.6 102.9h0M510.9 101.8h0M511.8 100.8h0M512.8 100.0h0M507.1 109.8h0M508.3 109.4h0M509.5 108.0h0M510.4 106.9h0M511.5 105.9h0M489.1 122.7h0M490.5 121.4h0M491.6 120.3h0M492.3 119.2h0M493.5 118.5h0M494.9 117.7h0M496.1 116.6h0M497.1 115.9h0M497.4 114.6h0" stroke="#8000ff" stroke-width="3.50" stroke-linecap="round" fill="none"/>
<path d="M490.3 78.0h0M490.8 78.5h0M492.4 79.4h0M493.3 79.6h0M495.2 80.6h0M495.7 80.9h0M512.9 85.1h0M514.1 86.6h0M515.3 87.7h0M516.2 89.2h0" stroke="#2adcdc" stroke-width="3.50" stroke-linecap="round" fill="none"/>
<path d="M454.9 115.0h0M464.7 108.1h0M466.3 106.9h0M467.2 106.3h0M468.2 105.2h0M468.9 105.1h0M470.6 103.9h0M471.4 102.9h0M472.7 102.3h0M473.9 101.7h0M474.8 101.1h0M475.4 99.5h0M476.4 98.8h0M477.4 97.9h0M478.9 97.7h0M479.8 97.0h0M481.3 95.5h0M482.1 94.9h0M455.7 115.4h0M456.8 114.1h0M458.0 113.6h0M459.0 112.2h0M459.8 111.1h0M461.1 110.9h0M461.5 109.2h0M462.5 108.5h0M463.9 108.1h0M464.8 106.5h0M465.8 106.1h0M466.6 105.4h0M467.1 103.9h0M468.6 103.6h0M469.5 102.2h0M470.4 101.6h0M470.9 100.4h0M472.0 99.3h0M473.1 98.4h0M473.9 97.5h0M475.2 96.5h0M476.2 95.8h0M526.5 90.5h0M537.0 93.8h0M513.5 132.4h0M514.5 131.9h0M515.9 131.0h0M516.6 130.7h0M517.4 129.9h0M519.0 128.9h0M519.9 128.3h0M521.3 127.6h0M522.3 126.3h0M523.1 125.7h0M524.7 125.5h0M525.1 124.6h0M526.5 123.4h0M527.5 123.2h0M528.8 122.1h0M529.9 121.4h0M530.9 120.8h0M532.3 120.2h0M533.2 119.5h0M514.9 131.4h0M516.3 130.4h0M517.1 129.3h0M518.5 129.1h0M519.8 128.0h0M520.4 127.4h0M522.2 126.4h0M523.2 125.7h0M524.0 124.9h0M525.1 124.5h0M526.8 124.2h0M527.3 123.0h0M529.1 122.2h0M529.7 121.7h0M530.7 120.8h0" stroke="#d4dd80" stroke-width="3.50" stroke-linecap="round" fill="none"/>
<path d="M440.3 72.7h0M441.7 72.7h0M443.5 71.8h0M444.2 71.5h0M445.5 71.3h0M447.1 70.8h0M448.0 70.5h0M449.6 70.3h0M451.4 70.0h0M452.3 69.6h0M433.2 92.7h0M465.4 62.5h0M472.7 76.9h0M514.0 114.6h0M514.9 113.7h0M515.8 112.1h0M516.6 110.9h0M517.4 110.3h0M518.0 109.5h0M518.9 108.0h0M519.9 107.3h0M520.6 105.8h0M521.3 104.8h0M522.4 103.5h0M522.9 102.7h0M519.2 121.8h0M520.4 121.1h0M521.0 119.7h0M521.6 118.5h0M522.4 117.6h0M523.6 116.1h0M524.7 115.2h0M525.5 114.5h0M526.4 112.9h0M515.7 115.6h0M516.2 113.9h0M517.4 113.2h0M518.6 112.3h0M519.1 111.4h0M519.9 110.0h0M520.8 108.8h0M521.4 107.9h0M522.2 107.1h0M523.3 105.7h0M523.6 104.5h0M524.7 103.6h0M525.7 102.8h0M526.8 101.4h0M527.2 100.5h0M517.2 93.5h0M517.7 92.8h0M518.2 91.3h0M519.7 90.7h0M520.1 89.0h0M521.3 88.4h0M522.0 87.6h0M522.9 86.0h0M523.2 84.8h0M524.3 83.9h0M524.9 82.6h0M506.2 107.8h0M506.8 107.0h0M507.9 105.2h0M508.6 104.7h0M509.3 103.5h0M509.9 102.1h0M511.4 101.2h0M512.1 99.8h0M506.3 118.1h0M506.9 117.1h0M507.9 116.3h0M508.8 114.8h0M509.2 113.6h0M510.5 112.5h0M510.8 111.5h0M511.9 111.0h0M512.8 110.0h0M513.1 108.3h0M514.5 107.5h0M515.3 106.5h0M515.6 105.4h0M516.4 104.8h0M517.1 125.8h0M517.9 124.8h0M518.4 124.1h0M519.6 123.1h0M520.3 121.8h0M521.0 120.2h0M522.4 119.8h0M522.7 118.8h0M523.9 117.2h0M524.6 116.7h0M515.6 96.4h0M516.2 94.8h0M517.4 93.6h0M517.9 93.1h0M518.9 91.9h0M519.6 90.3h0M520.5 89.3h0M521.8 88.3h0M522.3 87.0h0M523.1 86.2h0M523.8 84.8h0M524.5 84.4h0M525.5 82.8h0M519.4 118.8h0M520.3 117.6h0M521.4 116.8h0M521.9 116.0h0M522.6 114.6h0M524.0 113.4h0M524.6 112.9h0M525.7 111.3h0M526.1 110.7h0M518.3 105.0h0M519.0 103.9h0M520.1 102.2h0M520.9 101.1h0M521.9 100.1h0M522.9 99.2h0M523.3 97.9h0M524.3 96.8h0M525.4 95.6h0M525.9 94.9h0M526.6 94.0h0M505.8 105.1h0M506.8 103.8h0M507.4 102.6h0M508.1 102.1h0M509.0 100.9h0M509.7 99.8h0M510.7 98.7h0M511.4 97.3h0M512.3 96.3h0M512.9 95.7h0M513.9 94.4h0M515.2 93.6h0M516.0 92.6h0M516.2 91.1h0M516.9 90.4h0M508.4 114.6h0M509.0 113.8h0M510.0 112.4h0M510.9 111.5h0M511.5 110.3h0M511.9 109.8h0M513.2 108.6h0M513.5 107.0h0M514.4 106.1h0M515.3 105.2h0M515.9 104.1h0M517.2 103.0h0M518.1 102.2h0M518.8 100.9h0M519.4 100.2h0M505.9 105.6h0M507.2 105.2h0M507.5 103.5h0M508.8 102.9h0M509.0 101.5h0M509.9 100.9h0M510.8 99.9h0M512.0 98.2h0M512.8 97.3h0M513.7 96.6h0M514.1 95.0h0M515.5 94.2h0M516.3 93.3h0M516.4 124.5h0M517.1 123.2h0M517.4 122.3h0M518.5 121.2h0M519.7 119.8h0M520.4 118.7h0M521.1 118.3h0M521.6 117.1h0M522.9 116.1h0M523.4 114.8h0M523.8 113.8h0M524.8 112.7h0M525.6 111.6h0M526.7 111.0h0M505.8 94.7h0M506.8 93.8h0M508.0 92.7h0M508.3 92.0h0M509.0 90.7h0M510.0 89.8h0M511.0 88.7h0M511.5 87.5h0M512.7 86.3h0M513.6 85.5h0M513.9 84.0h0M515.0 82.9h0M515.6 81.9h0M516.5 81.1h0M505.3 97.6h0M506.0 96.8h0M506.8 95.5h0M507.4 94.4h0M508.9 93.9h0M509.0 92.9h0M510.5 91.7h0M510.6 90.6h0M511.7 89.3h0M512.6 88.1h0M513.7 87.6h0M514.2 86.7h0M515.1 85.2h0M515.6 84.0h0M516.2 83.5h0M517.6 82.1h0M513.5 110.6h0M514.9 109.8h0M515.1 108.7h0M516.4 107.6h0M516.8 106.1h0M518.0 105.2h0M518.5 104.3h0M519.3 103.5h0M520.0 101.8h0M521.0 101.2h0M522.1 100.2h0M522.9 99.4h0M523.4 98.0h0M523.9 96.8h0M525.1 95.6h0M511.2 89.0h0M511.8 88.6h0M512.3 86.8h0M513.4 85.9h0M514.4 84.7h0M515.3 84.3h0M516.0 82.9h0M516.4 82.1h0M517.4 80.8h0M515.6 114.0h0M516.6 113.3h0M517.6 111.7h0M517.9 110.9h0M519.0 109.8h0M519.5 108.6h0M520.4 107.8h0M521.7 107.1h0M522.4 106.2h0M523.3 104.8h0M523.9 103.4h0M524.6 102.8h0M525.1 101.7h0M526.4 100.6h0M527.0 99.4h0M505.2 105.3h0M505.8 103.7h0M507.1 102.9h0M507.4 102.0h0M508.4 100.9h0M509.3 99.9h0M510.2 98.7h0M510.6 97.5h0M512.0 96.8h0M512.2 96.0h0M519.0 97.2h0M520.0 96.2h0M520.8 95.4h0M521.4 94.4h0M522.1 93.3h0M523.3 91.9h0M524.0 90.8h0M524.8 90.4h0M525.7 89.2h0M526.7 87.7h0M506.1 110.3h0M506.2 109.3h0M507.2 107.7h0M508.5 106.9h0M509.2 105.5h0M510.0 104.4h0M510.4 103.6h0M511.0 102.7h0M512.0 101.4h0" stroke="#80ffb4" stroke-width="3.50" stroke-linecap="round" fill="none"/>
<path d="M481.9 64.2h0M500.2 68.8h0M495.0 71.4h0M521.9 72.1h0M519.9 76.0h0M536.3 74.7h0M541.0 89.8h0" stroke="#ff7f41" stroke-width="3.50" stroke-linecap="round" fill="none"/>
<path d="M431.8 84.5h0M433.2 83.8h0M434.2 83.3h0M434.9 82.8h0M436.1 82.0h0M437.2 81.1h0M438.6 81.0h0M439.5 79.8h0M441.1 79.7h0M442.1 78.6h0M443.6 77.6h0M444.6 77.1h0M445.2 76.3h0M446.5 76.2h0M447.5 75.3h0M449.0 74.4h0M450.1 73.5h0M450.8 72.9h0M452.4 72.4h0M453.3 71.9h0M454.5 71.0h0M455.9 70.6h0M456.6 69.8h0M458.0 69.4h0M459.3 68.2h0M460.6 67.4h0M434.5 91.6h0M435.4 90.7h0M436.4 90.1h0M438.1 89.3h0M439.2 88.4h0M440.2 87.9h0M441.1 87.0h0M442.4 86.7h0M443.2 85.7h0M444.0 85.0h0M445.5 84.5h0M446.7 83.3h0M447.5 82.8h0M448.3 81.9h0M449.5 80.9h0M450.4 80.7h0M451.6 79.6h0M452.9 79.4h0M453.7 78.3h0M455.2 77.9h0M456.5 77.2h0M460.8 59.2h0M468.7 63.1h0M464.1 71.0h0M458.9 75.0h0M472.8 71.3h0M474.2 71.0h0M475.4 70.1h0M476.2 68.9h0M477.2 68.1h0M478.3 66.8h0M479.7 65.9h0M480.8 71.7h0M481.9 71.2h0M483.3 70.7h0M484.6 70.4h0M486.4 69.2h0M487.5 68.7h0M485.7 75.1h0M487.3 75.3h0M488.2 74.4h0M489.1 73.7h0M490.5 73.3h0M492.1 72.8h0M492.7 72.9h0M494.3 71.8h0M445.6 117.3h0M446.4 116.6h0M447.6 116.0h0M449.2 114.9h0M450.2 114.4h0M451.3 113.0h0M451.8 112.0h0M452.8 111.0h0M454.2 110.7h0M455.4 109.4h0M456.3 108.7h0M508.0 76.4h0M509.7 75.8h0M511.0 75.2h0M511.7 74.3h0M513.7 74.1h0M514.5 73.2h0M516.1 72.5h0M517.3 71.8h0M509.4 79.3h0M526.4 76.0h0M527.4 76.2h0M529.5 77.2h0M530.8 77.6h0M532.0 78.3h0M528.1 79.6h0M529.2 79.8h0M530.6 79.8h0M531.8 80.3h0M533.1 79.8h0M534.4 79.9h0M536.0 79.8h0M536.8 80.1h0M538.0 80.1h0M532.2 82.6h0M532.9 82.8h0M534.4 82.8h0M535.4 83.1h0M536.9 83.6h0M538.2 83.7h0M539.3 84.2h0M541.2 84.5h0M542.3 84.8h0M543.4 85.1h0M544.9 85.2h0M530.5 90.5h0M531.5 89.7h0M532.7 89.3h0M534.0 88.8h0M535.0 88.0h0M536.9 87.3h0M537.9 87.0h0M538.9 86.8h0M540.2 86.0h0M541.3 84.9h0M535.2 128.9h0M535.9 127.7h0M536.8 126.8h0M537.4 125.4h0M538.9 124.3h0M539.3 123.0h0M540.0 122.2h0M541.3 121.1h0M541.9 120.1h0M543.0 119.6h0M537.2 115.5h0M538.2 115.1h0M538.9 113.3h0M540.0 112.9h0M540.5 111.3h0M541.2 110.6h0M542.6 109.6h0M543.6 108.2h0M543.9 107.6h0M545.1 106.3h0M546.0 105.2h0M546.3 104.2h0M547.2 103.3h0M548.3 102.2h0M549.4 100.9h0M550.1 99.7h0M551.4 99.1h0M552.3 97.6h0M552.9 97.1h0M553.5 95.6h0M543.5 111.6h0M544.9 110.5h0M545.8 109.7h0M546.5 108.7h0M547.4 107.7h0M548.3 106.4h0M549.3 105.3h0M550.2 104.6h0M551.1 103.2h0M552.0 102.6h0M552.6 101.0h0M524.9 125.1h0M525.4 123.4h0M526.6 122.9h0M527.6 121.6h0M528.7 120.5h0M529.3 119.4h0M529.6 118.4h0M530.4 117.7h0M531.7 116.4h0M532.8 115.6h0M533.0 114.4h0M534.3 114.0h0M534.7 112.3h0M536.1 111.4h0M537.1 110.6h0M537.6 109.5h0M538.6 108.6h0M539.1 107.9h0M539.7 106.8h0M540.5 105.7h0M541.7 104.9h0M526.1 102.6h0M527.2 101.9h0M528.5 100.6h0M528.8 99.3h0M529.7 98.4h0M530.5 97.2h0M531.8 96.5h0M532.3 95.7h0M533.1 94.3h0M533.9 93.5h0M535.3 92.0h0M536.1 91.4h0M518.1 111.4h0M519.1 110.8h0M519.7 109.6h0M520.9 108.4h0M521.8 107.8h0M522.3 106.7h0M523.3 105.6h0M524.5 104.1h0M525.4 103.8h0M525.8 102.0h0M526.5 101.7h0M527.3 100.6h0M528.2 99.5h0M529.0 98.0h0M530.4 96.9h0M530.9 96.5h0M532.1 95.5h0M518.8 101.5h0M519.1 101.1h0M520.3 99.5h0M520.9 98.7h0M521.7 97.6h0M522.2 97.3h0M523.3 96.2h0M524.0 94.9h0M517.8 103.0h0M518.7 102.2h0M519.5 101.2h0M520.6 99.7h0M521.3 99.0h0M522.6 97.9h0M522.9 97.3h0M524.3 96.1h0M524.6 94.7h0M521.5 129.2h0M522.2 128.5h0M523.4 127.6h0M524.2 126.1h0M525.3 125.6h0M526.0 124.4h0M527.0 123.8h0M528.0 122.5h0M528.5 121.2h0M529.4 120.7h0M530.2 119.1h0M531.1 117.9h0M532.4 116.8h0M533.0 116.5h0M533.6 115.2h0M534.5 113.9h0M535.2 112.7h0M531.9 133.2h0M532.8 131.6h0M533.5 130.8h0M534.3 129.9h0M534.9 129.2h0M535.5 128.0h0M537.1 126.8h0M537.7 126.1h0M538.3 124.8h0M539.6 123.5h0M540.4 122.5h0M541.1 121.7h0M542.1 120.4h0M542.9 119.5h0M519.5 118.1h0M520.4 117.3h0M521.4 116.1h0M522.3 114.9h0M522.9 113.7h0M524.3 113.0h0M524.8 111.9h0M525.8 110.7h0M526.2 110.2h0M527.2 109.0h0M528.4 108.2h0M529.2 106.5h0M529.7 106.1h0M530.9 104.6h0M531.2 103.7h0M532.0 102.7h0M533.4 101.9h0M533.9 100.5h0M534.7 100.2h0M535.8 98.8h0M536.5 98.1h0M537.6 96.5h0M541.6 110.5h0M542.3 109.3h0M543.1 108.4h0M543.9 107.1h0M544.6 106.6h0M545.3 105.3h0M546.7 104.3h0M547.2 103.3h0M548.5 102.2h0M549.2 101.8h0M549.7 100.4h0M551.0 99.5h0M551.5 98.1h0M552.4 97.3h0M553.4 96.3h0M530.9 108.4h0M532.1 107.2h0M532.6 106.3h0M533.9 105.0h0M534.8 104.4h0M535.1 103.3h0M535.9 101.8h0M537.1 101.1h0M537.8 100.1h0M538.9 99.3h0M539.1 98.2h0M540.3 97.1h0M541.4 96.0h0M542.0 95.4h0M542.8 94.0h0M543.7 93.3h0M531.1 122.8h0M531.8 121.2h0M532.8 120.6h0M533.7 119.8h0M534.1 118.3h0M534.9 117.8h0M535.7 116.2h0M537.1 115.6h0M537.4 114.6h0M538.7 113.5h0M539.0 112.6h0M540.2 111.5h0M526.6 132.5h0M527.4 130.9h0M527.8 130.1h0M528.4 129.5h0M529.5 127.9h0M530.4 126.8h0M531.7 126.0h0M532.3 124.9h0M532.8 123.7h0M534.3 123.1h0M535.1 121.6h0M535.5 120.4h0M536.6 119.6h0M537.4 118.7h0M538.4 117.5h0M539.4 116.4h0M530.7 126.5h0M530.9 125.3h0M532.1 124.3h0M533.0 123.2h0M533.7 122.5h0M534.6 121.4h0M535.8 120.3h0M536.4 119.5h0M537.3 118.4h0M537.9 117.0h0M539.2 115.6h0M540.3 114.6h0M527.6 119.8h0M528.7 119.1h0M529.5 118.0h0M530.2 117.1h0M530.8 115.7h0M532.1 114.6h0M533.0 113.7h0M533.2 112.6h0M534.6 112.2h0M535.2 111.0h0M535.9 110.1h0M537.1 108.5h0M537.4 107.9h0M538.3 107.0h0M539.3 105.5h0M540.4 104.6h0M541.2 103.4h0M542.4 102.5h0M543.2 101.3h0M544.0 101.0h0M544.5 99.2h0M545.4 98.7h0M546.1 97.6h0M543.9 110.8h0M545.3 109.8h0M546.1 108.5h0M547.1 107.5h0M548.1 107.1h0M548.9 105.7h0M549.3 104.5h0M550.5 103.6h0M551.5 102.3h0M552.0 101.8h0M553.0 100.5h0M517.9 113.5h0M518.9 113.1h0M520.2 111.5h0M521.2 110.3h0M521.8 110.0h0M522.4 109.0h0M523.6 107.2h0M524.2 106.5h0M525.0 105.7h0M525.8 104.7h0M526.7 103.1h0M527.8 102.1h0M528.7 101.6h0M529.6 100.3h0M530.0 99.3h0M520.8 108.5h0M521.6 107.5h0M522.7 106.3h0M523.8 105.1h0M524.2 104.7h0M525.2 103.6h0M526.5 102.3h0M526.8 100.9h0M528.2 99.9h0M528.7 99.3h0M529.3 98.2h0M530.2 97.2h0M531.3 96.1h0M531.9 95.1h0M532.7 93.8h0M533.6 93.4h0M534.7 92.4h0M542.4 107.1h0M543.6 105.9h0M544.5 104.9h0M545.1 103.9h0M545.9 102.5h0M546.6 101.6h0M547.9 100.5h0M549.0 99.3h0M549.6 98.4h0M550.5 97.8h0M551.4 96.2h0M551.9 95.6h0M521.4 125.4h0M522.0 124.9h0M523.0 123.6h0M523.9 122.6h0M524.9 121.2h0M525.8 120.5h0M526.2 119.2h0M527.0 118.6h0M528.2 117.1h0M528.8 116.1h0M529.5 115.1h0M530.5 114.6h0M531.9 113.4h0M525.1 123.7h0M526.2 123.0h0M527.0 121.8h0M527.4 120.8h0M528.8 119.9h0M529.0 118.8h0M530.0 117.4h0M531.4 116.8h0M532.0 115.4h0M532.9 115.0h0M533.8 113.8h0M534.6 112.9h0M535.2 111.6h0M537.2 105.0h0M538.1 103.6h0M539.0 102.8h0M539.8 101.5h0M540.7 101.0h0M540.9 100.1h0M541.7 98.5h0M542.8 97.6h0M543.6 97.1h0M544.6 95.9h0M545.2 95.0h0M546.4 93.9h0M519.4 108.4h0M519.8 106.8h0M520.9 106.4h0M521.5 105.2h0M522.7 104.3h0M522.9 103.0h0M523.8 101.7h0M525.3 101.0h0M525.9 100.0h0M526.6 98.8h0M527.4 98.3h0M528.5 96.8h0M528.9 95.8h0M530.2 94.9h0M531.1 94.2h0M531.5 93.0h0M526.2 115.3h0M527.2 113.8h0M528.7 112.9h0M529.0 112.2h0M530.2 111.2h0M530.9 109.8h0M532.2 108.7h0M533.1 107.4h0M533.9 106.4h0M534.5 105.2h0M535.1 104.9h0M536.2 103.7h0M536.9 102.3h0M537.7 101.4h0M539.2 100.3h0M539.7 99.6h0M549.1 99.8h0M549.8 99.4h0M551.4 99.2h0M552.7 98.5h0" stroke="#ff0000" stroke-width="3.50" stroke-linecap="round" fill="none"/>
<path d="M128.8 90.2h0M145.0 79.1h0M157.5 70.5h0M181.6 73.9h0M182.5 73.2h0M157.8 115.2h0M180.2 101.2h0M145.5 110.6h0M146.1 109.8h0M147.6 108.6h0M148.9 108.6h0M157.7 102.5h0M183.2 83.8h0M163.6 105.3h0M177.3 104.5h0M189.4 98.1h0M167.2 78.9h0M190.0 80.0h0M181.5 90.2h0M182.9 89.9h0M183.9 88.7h0M167.8 87.2h0M168.4 86.6h0M170.1 85.7h0M172.5 84.6h0M195.0 125.1h0M197.0 124.3h0M199.5 122.9h0M200.7 121.6h0M188.2 91.5h0M186.4 117.2h0M188.5 115.4h0M167.9 114.7h0M174.5 99.1h0M191.7 125.5h0M165.9 110.8h0M198.2 108.3h0M201.6 106.1h0M160.4 122.0h0M163.1 120.2h0M163.3 83.0h0M167.9 80.1h0M187.8 118.0h0M189.0 117.3h0M162.8 99.0h0M163.5 98.0h0M166.6 96.5h0M154.4 96.0h0M158.9 93.3h0M165.7 88.6h0M188.1 111.5h0M170.1 110.0h0M171.4 109.3h0M174.6 107.2h0M148.0 106.8h0M148.8 106.3h0M159.0 100.1h0M191.6 127.8h0M164.3 99.9h0M165.4 98.8h0M185.9 89.8h0M191.1 85.4h0M193.2 86.9h0M178.2 120.1h0M179.0 119.6h0M210.7 71.3h0M224.2 77.1h0M225.4 77.8h0M227.8 79.4h0M223.9 90.0h0M209.6 113.4h0M215.6 106.6h0M202.0 104.2h0M201.7 91.5h0M207.6 86.2h0M208.3 109.3h0M209.4 82.4h0M210.8 80.3h0M214.2 94.9h0M220.1 87.2h0M184.8 108.0h0M195.9 93.8h0M201.8 127.2h0M233.4 112.4h0M226.5 93.8h0M229.5 90.9h0M215.2 107.3h0M216.3 113.2h0M240.1 103.8h0M234.6 102.9h0M242.7 104.0h0M221.6 116.6h0M227.9 104.7h0" stroke="#5ea5d1" stroke-width="3.50" stroke-linecap="round" fill="none"/>
<path d="M144.2 72.4h0M129.8 89.6h0M131.5 88.8h0M175.3 70.7h0M152.3 96.1h0M161.4 113.1h0M164.1 110.8h0M165.9 110.6h0M182.5 100.1h0M158.7 111.7h0M149.5 107.9h0M152.4 106.4h0M156.7 102.9h0M156.3 117.8h0M158.7 116.0h0M162.6 105.8h0M173.6 98.8h0M179.7 108.5h0M190.7 96.9h0M191.1 79.6h0M191.9 78.9h0M192.9 77.9h0M194.1 77.5h0M181.0 90.9h0M170.0 85.4h0M165.1 88.6h0M166.3 88.2h0M170.9 85.1h0M185.6 117.4h0M155.6 104.1h0M198.2 103.9h0M192.9 125.4h0M166.8 110.0h0M193.8 111.4h0M191.6 94.0h0M192.9 92.9h0M159.4 122.5h0M162.1 121.3h0M169.6 116.5h0M159.2 86.0h0M161.0 84.8h0M164.8 97.4h0M163.1 90.2h0M164.6 89.7h0M182.8 114.6h0M168.9 110.7h0M173.5 107.8h0M175.8 106.0h0M149.9 105.3h0M156.7 101.0h0M161.0 98.6h0M195.0 118.8h0M166.8 118.3h0M175.8 112.4h0M150.2 113.6h0M180.5 118.2h0M209.5 72.0h0M222.9 76.7h0M235.7 84.3h0M230.4 93.3h0M209.1 115.1h0M217.9 83.9h0M218.9 82.3h0M214.3 100.6h0M204.8 96.8h0M205.7 95.8h0M209.4 92.1h0M209.6 90.6h0M210.5 122.7h0M202.3 93.4h0M202.4 92.4h0M209.8 81.6h0M212.4 109.3h0M215.8 105.7h0M203.6 98.2h0M205.4 96.3h0M189.4 103.8h0M190.5 115.4h0M190.8 114.1h0M234.6 110.1h0M227.7 113.5h0M215.7 106.2h0M216.7 105.1h0M231.7 124.3h0M214.8 115.6h0M237.3 106.6h0M225.2 120.7h0M226.2 120.1h0M220.0 132.0h0M230.8 118.2h0M237.4 100.5h0M238.8 98.2h0M239.5 97.1h0M239.5 108.0h0M243.9 103.1h0M212.3 112.6h0M219.2 104.2h0M225.3 94.6h0M222.2 115.6h0M239.8 93.4h0M220.8 97.8h0M227.3 105.9h0M233.1 99.1h0M215.6 125.9h0M216.6 125.2h0" stroke="#4594c7" stroke-width="3.50" stroke-linecap="round" fill="none"/>
<path d="M137.0 77.1h0M132.6 87.9h0M136.6 85.2h0M133.7 72.2h0M137.6 71.0h0M144.8 69.5h0M145.7 69.1h0M162.1 62.6h0M166.1 76.4h0M170.6 104.8h0M176.2 101.5h0M178.4 100.2h0M180.4 98.3h0M158.4 101.8h0M160.7 100.9h0M188.7 81.0h0M153.7 118.7h0M175.6 77.1h0M178.2 76.0h0M179.4 94.9h0M179.5 103.5h0M192.1 95.2h0M188.7 118.7h0M189.8 118.3h0M191.7 116.6h0M198.6 112.7h0M161.4 88.5h0M165.1 86.5h0M188.0 98.8h0M168.3 78.1h0M186.7 92.5h0M188.4 81.5h0M160.0 91.8h0M161.5 90.9h0M163.7 89.9h0M178.5 80.5h0M179.8 80.0h0M150.5 113.2h0M162.3 90.6h0M186.2 93.2h0M199.8 84.2h0M189.9 114.7h0M162.2 118.2h0M164.3 116.5h0M144.8 111.7h0M167.5 103.6h0M183.4 93.8h0M193.4 107.3h0M191.2 87.2h0M195.1 85.0h0M188.8 128.0h0M189.9 127.2h0M159.1 115.5h0M190.0 113.1h0M192.9 112.1h0M199.1 107.4h0M200.5 88.2h0M165.5 118.6h0M173.9 126.3h0M177.4 124.3h0M152.2 105.2h0M159.4 101.1h0M184.5 131.6h0M183.6 126.3h0M185.4 131.3h0M186.6 130.6h0M179.5 129.7h0M195.8 119.8h0M158.0 127.4h0M159.4 126.6h0M169.8 119.9h0M183.1 107.7h0M186.4 105.1h0M172.3 97.2h0M174.7 95.0h0M156.1 111.4h0M156.9 110.4h0M158.2 109.6h0M163.2 105.4h0M187.1 118.8h0M195.8 111.8h0M192.7 116.5h0M234.4 89.3h0M221.5 79.1h0M225.2 79.8h0M226.5 79.3h0M234.6 84.0h0M189.1 80.4h0M207.4 114.1h0M214.0 105.3h0M217.0 115.6h0M218.1 114.7h0M218.9 114.0h0M218.1 103.1h0M220.2 100.9h0M208.7 106.0h0M210.5 125.3h0M213.0 122.6h0M209.6 94.3h0M216.3 98.7h0M199.2 104.6h0M200.2 103.3h0M200.8 102.1h0M199.3 105.1h0M199.2 94.2h0M203.4 89.3h0M206.1 85.8h0M209.0 81.4h0M200.2 95.0h0M208.5 84.7h0M217.3 96.3h0M204.6 88.5h0M205.7 86.3h0M202.6 105.0h0M203.4 103.9h0M196.3 120.4h0M199.1 118.0h0M186.7 103.6h0M232.3 112.8h0M239.7 103.7h0M241.7 105.9h0M242.7 104.8h0M245.4 102.1h0M228.1 111.8h0M229.5 110.9h0M231.0 109.0h0M219.5 102.1h0M221.9 100.1h0M220.7 100.1h0M224.3 96.0h0M211.2 102.5h0M214.0 99.2h0M216.0 97.4h0M216.8 127.1h0M234.5 121.2h0M244.4 99.0h0M232.4 112.1h0M221.2 129.6h0M225.1 125.5h0M225.7 124.4h0M228.9 119.9h0M221.0 119.3h0M222.9 117.5h0M228.6 110.5h0M237.3 110.3h0M214.6 109.8h0M238.5 103.4h0M228.0 112.4h0M231.5 103.1h0M232.4 102.3h0M234.1 100.5h0M207.9 131.4h0M210.8 129.4h0M218.5 124.1h0M222.2 121.6h0M223.3 120.9h0" stroke="#caddf0" stroke-width="3.50" stroke-linecap="round" fill="none"/>
<path d="M151.4 68.9h0M127.9 91.1h0M138.9 70.8h0M140.5 70.3h0M152.3 74.5h0M175.3 63.7h0M156.2 108.2h0M139.0 116.8h0M139.8 116.1h0M142.6 114.4h0M163.5 111.5h0M154.3 104.6h0M155.2 103.9h0M181.0 85.9h0M193.5 77.8h0M188.1 121.1h0M190.4 119.5h0M200.0 113.0h0M168.5 81.4h0M169.2 101.7h0M171.9 113.5h0M182.9 106.6h0M190.9 96.5h0M157.3 92.0h0M184.3 100.7h0M191.1 96.1h0M183.8 83.8h0M185.6 83.5h0M186.4 87.7h0M174.7 82.5h0M176.3 81.8h0M153.5 105.6h0M168.6 102.7h0M175.8 98.3h0M198.3 83.0h0M194.3 124.8h0M187.5 96.7h0M167.3 80.7h0M169.5 79.8h0M171.4 78.0h0M161.8 99.3h0M200.6 115.4h0M177.2 131.9h0M171.4 115.0h0M174.2 113.3h0M185.5 106.2h0M158.1 107.6h0M151.4 113.1h0M152.4 111.7h0M153.2 110.6h0M153.1 117.3h0M154.8 116.6h0M158.5 114.2h0M200.0 110.8h0M202.8 78.8h0M224.9 89.2h0M199.7 117.6h0M201.3 115.8h0M208.6 93.1h0M210.3 89.9h0M212.2 100.4h0M219.0 111.1h0M220.1 110.5h0M203.9 91.2h0M207.1 87.1h0M204.0 97.0h0M205.6 95.5h0M214.8 93.9h0M215.5 92.8h0M187.8 104.7h0M184.7 105.5h0M202.5 103.2h0M200.5 109.3h0M182.5 122.2h0M189.5 116.1h0M230.2 126.3h0M233.9 110.8h0M237.3 107.1h0M219.2 101.5h0M227.0 114.7h0M230.5 126.3h0M236.5 107.9h0M238.7 104.8h0M245.8 96.8h0M228.3 117.3h0M220.8 130.4h0M224.1 126.0h0M225.5 123.8h0M238.7 109.3h0M240.5 107.0h0M241.5 106.6h0M242.3 105.2h0M223.0 99.8h0M223.4 98.8h0M217.6 104.2h0M224.7 95.6h0M244.8 95.7h0M218.3 120.7h0M222.9 114.6h0M225.3 112.9h0M228.5 104.4h0M229.6 103.2h0M217.4 124.4h0" stroke="#1d6cb1" stroke-width="3.50" stroke-linecap="round" fill="none"/>
<path d="M126.6 83.3h0M132.0 80.5h0M142.9 80.4h0M146.3 78.9h0M147.1 77.8h0M135.1 72.2h0M146.4 101.4h0M166.4 109.9h0M172.4 106.5h0M173.4 105.7h0M174.9 104.5h0M176.7 103.4h0M178.9 102.2h0M165.4 107.7h0M169.2 105.7h0M179.8 98.8h0M162.5 100.2h0M163.0 98.9h0M187.6 81.7h0M149.0 121.7h0M173.1 78.6h0M168.0 102.6h0M182.8 92.9h0M196.7 114.0h0M197.6 113.3h0M196.7 93.1h0M198.0 92.5h0M199.5 91.3h0M193.6 87.9h0M156.3 93.9h0M177.1 81.0h0M149.5 113.4h0M177.9 80.9h0M198.4 123.5h0M197.8 109.8h0M168.6 114.2h0M147.8 109.1h0M158.4 103.3h0M173.0 100.3h0M187.7 89.3h0M189.2 88.4h0M190.1 88.1h0M190.6 126.3h0M155.9 117.8h0M158.2 116.3h0M164.6 112.1h0M169.6 109.1h0M200.4 107.1h0M164.0 119.6h0M168.9 129.8h0M184.3 120.1h0M185.3 119.0h0M151.3 105.8h0M154.9 103.8h0M156.9 102.2h0M190.7 109.9h0M190.1 128.1h0M176.7 105.2h0M183.8 101.2h0M190.9 97.2h0M152.0 103.9h0M153.3 103.3h0M155.9 101.8h0M200.1 122.2h0M190.9 123.2h0M175.0 116.4h0M181.1 109.0h0M164.8 102.4h0M170.8 97.4h0M149.1 114.9h0M159.2 105.6h0M154.4 112.5h0M164.7 110.6h0M187.4 91.4h0M190.0 89.6h0M192.3 88.5h0M196.6 111.0h0M198.4 109.8h0M201.6 107.0h0M191.0 117.2h0M194.8 115.1h0M202.5 109.8h0M175.9 122.1h0M231.6 83.2h0M226.1 88.8h0M206.3 84.6h0M216.3 102.2h0M217.0 104.0h0M215.2 87.8h0M203.1 99.3h0M202.4 101.0h0M203.3 100.4h0M209.8 124.0h0M200.2 93.3h0M207.3 83.5h0M208.4 82.4h0M206.9 110.1h0M210.2 105.6h0M211.3 110.4h0M218.2 89.9h0M204.4 102.2h0M196.4 115.9h0M202.4 89.0h0M190.3 117.1h0M188.8 101.6h0M246.9 95.1h0M240.8 107.2h0M225.2 96.0h0M228.7 91.5h0M212.5 110.3h0M213.1 109.1h0M214.7 98.5h0M215.6 128.0h0M225.3 132.7h0M233.8 122.0h0M215.7 114.4h0M224.3 104.1h0M225.4 102.2h0M232.5 97.7h0M234.8 95.5h0M235.4 94.9h0M231.8 117.0h0M232.8 115.9h0M232.6 115.1h0M233.7 114.1h0M232.7 105.0h0M236.6 100.8h0M246.4 100.0h0M215.2 109.5h0M217.0 106.7h0M220.1 102.6h0M237.9 104.4h0M219.2 120.0h0M233.2 101.0h0M234.3 99.6h0M236.2 97.1h0M238.0 95.4h0M224.9 92.5h0M222.4 111.7h0M216.5 125.2h0M220.9 122.7h0M224.3 120.3h0M226.6 119.0h0M208.3 130.9h0" stroke="#b4d3e9" stroke-width="3.50" stroke-linecap="round" fill="none"/>
<path d="M132.9 79.3h0M134.5 79.2h0M145.8 71.9h0M146.7 71.4h0M140.9 82.3h0M149.9 76.7h0M167.6 70.5h0M168.8 69.6h0M171.7 66.3h0M188.4 70.9h0M148.8 108.9h0M149.7 108.2h0M169.8 107.1h0M183.7 99.1h0M184.8 98.0h0M171.5 104.1h0M172.6 103.5h0M173.7 102.7h0M174.9 102.3h0M181.5 97.4h0M184.8 83.4h0M185.4 83.2h0M194.5 116.3h0M174.2 77.6h0M160.2 107.2h0M175.8 96.9h0M177.2 96.8h0M178.1 96.0h0M184.9 91.7h0M183.4 101.3h0M185.3 99.6h0M182.9 122.3h0M183.9 122.2h0M187.7 119.8h0M195.0 115.1h0M199.4 111.8h0M195.2 86.8h0M190.2 85.1h0M191.2 84.9h0M167.8 87.0h0M169.0 85.8h0M180.9 78.7h0M146.2 115.4h0M148.0 114.6h0M151.7 111.9h0M154.4 110.4h0M156.5 109.6h0M157.0 108.4h0M158.2 107.6h0M160.0 107.3h0M158.9 93.0h0M159.9 92.3h0M160.6 91.9h0M163.2 90.3h0M193.0 89.0h0M196.2 86.2h0M197.6 85.8h0M198.7 85.3h0M190.7 113.9h0M194.6 111.7h0M195.8 111.0h0M199.9 108.7h0M201.1 107.8h0M151.5 124.4h0M153.0 123.4h0M156.4 121.2h0M159.8 119.0h0M161.0 118.4h0M163.2 116.9h0M178.8 96.2h0M181.4 94.9h0M182.3 94.8h0M185.2 92.0h0M186.7 91.6h0M195.7 105.6h0M193.7 85.7h0M201.2 119.9h0M148.7 121.5h0M150.2 121.3h0M151.4 120.1h0M154.7 118.3h0M160.4 114.4h0M161.2 114.0h0M162.3 113.5h0M163.4 112.1h0M184.2 116.9h0M185.6 116.4h0M187.1 115.7h0M187.7 115.0h0M189.5 114.4h0M191.1 112.2h0M172.3 127.8h0M173.2 126.8h0M180.6 122.1h0M181.9 121.5h0M191.9 109.3h0M193.3 108.4h0M194.6 108.1h0M188.2 129.0h0M178.1 104.4h0M180.4 103.3h0M181.5 102.9h0M182.3 102.2h0M185.1 100.7h0M186.0 99.7h0M187.6 98.7h0M189.2 97.7h0M186.1 124.7h0M184.5 131.9h0M193.3 126.3h0M194.9 126.0h0M192.7 122.0h0M193.4 121.8h0M196.9 119.5h0M198.1 118.9h0M160.7 125.7h0M161.6 125.3h0M163.2 124.6h0M164.1 123.4h0M164.8 123.3h0M166.5 122.5h0M169.0 121.1h0M173.2 118.3h0M174.5 117.1h0M176.3 112.0h0M167.3 101.2h0M168.2 100.6h0M168.8 99.0h0M169.8 98.3h0M157.3 107.6h0M158.2 106.0h0M162.0 103.1h0M162.9 101.7h0M169.6 95.3h0M161.4 107.2h0M163.1 111.3h0M193.3 83.8h0M193.9 82.9h0M195.4 82.3h0M196.2 81.3h0M186.8 92.7h0M195.7 85.3h0M188.4 117.4h0M189.4 116.8h0M191.6 115.0h0M192.4 114.3h0M194.1 113.6h0M200.2 107.7h0M203.2 105.8h0M197.6 112.4h0M173.1 123.6h0M201.4 75.9h0M204.4 74.7h0M205.1 73.8h0M207.1 73.6h0M228.4 87.5h0M230.3 86.8h0M231.3 86.5h0M232.3 86.3h0M233.6 85.5h0M234.7 84.4h0M209.2 111.6h0M210.8 109.8h0M215.8 117.1h0M219.8 112.4h0M209.0 104.9h0M209.8 104.3h0M215.3 115.5h0M217.4 112.9h0M218.0 112.4h0M219.1 110.8h0M219.5 110.2h0M217.7 96.3h0M218.8 95.1h0M202.4 113.3h0M203.4 111.9h0M204.3 111.0h0M204.9 109.8h0M200.6 104.7h0M205.4 97.7h0M206.2 96.8h0M207.1 96.1h0M208.9 93.7h0M209.7 92.8h0M204.4 88.2h0M204.9 87.0h0M207.0 85.0h0M211.0 81.6h0M218.5 95.1h0M206.8 85.4h0M208.7 83.8h0M218.5 101.2h0M216.7 91.4h0M199.6 108.8h0M200.6 107.2h0M194.9 117.6h0M195.9 116.9h0M198.8 114.1h0M199.4 112.8h0M199.1 91.6h0M200.2 90.3h0M201.6 89.7h0M186.6 120.4h0M187.2 119.5h0M188.4 119.1h0M189.7 117.5h0M194.1 113.9h0M193.7 123.5h0M194.0 122.4h0M195.1 121.9h0M197.0 119.8h0M199.8 117.3h0M188.0 102.6h0M244.8 98.6h0M239.2 109.2h0M218.8 122.9h0M220.0 122.4h0M221.0 121.1h0M232.0 108.1h0M232.5 107.4h0M233.1 106.3h0M233.9 105.2h0M235.1 104.4h0M222.4 97.5h0M213.7 99.0h0M214.3 98.2h0M215.6 96.8h0M216.7 95.7h0M217.4 94.4h0M212.9 100.7h0M217.6 125.6h0M218.7 125.1h0M221.4 122.0h0M221.9 120.7h0M222.8 120.2h0M236.3 119.0h0M242.6 101.3h0M221.8 129.0h0M222.9 127.4h0M227.7 122.6h0M228.5 121.1h0M228.0 120.9h0M229.2 119.8h0M229.8 119.0h0M230.7 117.9h0M224.2 115.2h0M225.5 114.1h0M226.6 112.1h0M228.0 111.7h0M229.3 109.6h0M230.5 108.0h0M242.4 98.8h0M243.0 97.9h0M219.6 122.5h0M220.8 120.3h0M222.2 119.4h0M225.4 114.9h0M226.3 114.5h0M227.2 113.3h0M222.3 95.3h0M219.9 122.9h0M223.1 121.2h0" stroke="#f7fbff" stroke-width="3.50" stroke-linecap="round" fill="none"/>
<path d="M127.6 82.8h0M135.5 78.1h0M138.0 76.6h0M138.6 75.8h0M154.0 66.9h0M148.6 77.4h0M170.6 67.6h0M178.0 69.9h0M180.9 68.2h0M179.1 74.6h0M193.6 68.3h0M168.2 109.1h0M177.8 102.5h0M182.7 97.1h0M187.0 82.4h0M154.7 118.0h0M193.2 117.5h0M157.7 108.4h0M160.8 106.7h0M174.8 98.2h0M175.5 111.3h0M177.1 110.1h0M182.2 101.5h0M185.5 121.4h0M193.3 116.0h0M175.3 106.0h0M177.1 105.2h0M194.9 94.5h0M200.2 90.6h0M160.2 83.2h0M184.3 93.6h0M191.2 89.6h0M192.1 88.5h0M194.6 87.1h0M158.1 93.6h0M162.6 90.6h0M164.7 88.8h0M192.8 126.6h0M186.9 92.2h0M189.1 90.6h0M191.4 89.4h0M193.7 87.7h0M195.4 87.7h0M154.3 123.1h0M180.2 95.4h0M184.3 92.6h0M187.8 91.2h0M191.5 108.1h0M194.6 106.0h0M186.0 90.9h0M196.5 83.9h0M200.2 120.8h0M166.6 117.9h0M158.2 101.4h0M182.2 132.9h0M186.6 130.3h0M188.9 128.3h0M192.9 126.7h0M154.7 102.4h0M187.6 123.0h0M191.7 121.2h0M193.8 119.8h0M192.8 127.0h0M167.3 121.6h0M170.8 119.7h0M182.0 108.0h0M164.0 103.4h0M160.5 103.4h0M168.6 96.0h0M188.9 90.8h0M194.7 112.6h0M199.1 109.0h0M222.6 79.3h0M224.0 79.3h0M219.9 90.0h0M211.4 109.0h0M214.4 119.2h0M215.0 118.0h0M213.3 109.5h0M214.2 108.3h0M216.7 105.2h0M219.1 102.3h0M213.7 121.3h0M209.0 95.9h0M212.3 91.4h0M213.9 88.8h0M214.8 116.3h0M216.7 97.4h0M201.5 101.6h0M198.7 97.1h0M199.4 96.3h0M209.8 107.1h0M205.2 88.1h0M198.6 104.8h0M202.7 99.4h0M217.4 90.3h0M197.5 115.0h0M202.0 110.7h0M198.2 119.1h0M182.4 107.0h0M228.6 128.4h0M245.7 97.1h0M246.3 96.6h0M236.9 111.1h0M239.9 108.2h0M243.6 104.1h0M246.0 100.5h0M222.1 120.0h0M220.6 101.4h0M223.1 97.9h0M223.9 96.7h0M225.5 95.0h0M212.2 101.0h0M215.1 97.1h0M216.3 96.8h0M214.9 128.7h0M219.4 123.9h0M220.4 123.3h0M226.2 131.1h0M226.9 130.3h0M227.7 129.4h0M228.9 127.5h0M220.6 108.5h0M222.6 106.0h0M229.2 98.3h0M231.0 96.0h0M243.1 99.9h0M223.8 126.3h0M226.2 123.2h0M222.1 118.6h0M226.4 113.2h0M237.0 105.4h0M239.3 102.0h0M218.5 123.2h0M220.4 121.3h0M223.4 116.9h0M220.6 113.3h0M223.6 110.7h0M206.9 131.9h0M224.1 120.3h0" stroke="#d8e7f5" stroke-width="3.50" stroke-linecap="round" fill="none"/>
<path d="M154.9 86.3h0M152.5 109.3h0M153.4 108.6h0M154.6 108.6h0M157.4 107.3h0M160.4 107.0h0M144.7 112.5h0M146.2 110.5h0M194.3 77.0h0M160.6 115.2h0M161.6 114.2h0M165.8 83.7h0M163.9 118.8h0M181.8 107.4h0M179.3 103.9h0M180.0 103.2h0M181.2 102.6h0M182.8 102.3h0M179.8 87.0h0M186.6 82.9h0M178.9 92.1h0M195.4 81.6h0M198.1 80.5h0M199.3 79.3h0M171.4 85.1h0M173.0 84.4h0M173.6 82.9h0M174.4 83.2h0M175.8 82.1h0M151.8 106.9h0M152.6 106.8h0M170.1 101.8h0M188.8 109.7h0M200.6 102.6h0M201.8 101.9h0M197.4 108.8h0M195.4 91.5h0M197.6 90.7h0M198.1 89.6h0M156.2 124.8h0M157.3 123.6h0M158.7 123.1h0M157.9 86.8h0M169.8 123.0h0M173.4 120.4h0M176.9 118.6h0M177.9 118.2h0M179.2 117.2h0M180.7 116.6h0M185.7 126.3h0M181.2 112.8h0M182.5 112.5h0M173.3 113.6h0M155.3 116.0h0M156.5 115.6h0M161.0 112.2h0M183.7 91.5h0M184.9 90.4h0M231.4 79.6h0M183.7 77.5h0M186.7 79.1h0M209.6 88.7h0M213.1 90.2h0M213.5 88.5h0M215.4 87.1h0M216.3 85.5h0M216.6 84.3h0M199.6 107.3h0M204.8 100.7h0M205.5 99.3h0M202.6 113.1h0M203.9 112.0h0M204.2 111.0h0M206.2 109.5h0M206.5 107.8h0M214.4 119.7h0M215.8 119.3h0M216.1 118.3h0M208.7 104.7h0M209.3 103.6h0M210.6 102.5h0M211.5 101.7h0M202.2 102.4h0M211.9 120.7h0M213.1 119.3h0M213.8 118.2h0M214.5 117.8h0M215.0 116.6h0M216.8 114.3h0M218.2 112.2h0M204.0 90.1h0M206.0 87.6h0M212.7 103.0h0M210.0 112.8h0M213.8 107.3h0M215.1 106.6h0M199.7 129.5h0M203.8 106.4h0M204.9 105.4h0M183.9 120.9h0M185.0 119.8h0M186.9 118.0h0M188.3 117.2h0M232.7 122.5h0M233.4 121.7h0M234.7 120.6h0M236.4 119.1h0M223.8 117.2h0M223.6 118.6h0M224.5 117.4h0M225.8 116.3h0M226.4 116.0h0M227.9 113.4h0M228.6 112.2h0M219.6 109.7h0M235.7 108.8h0M224.3 107.9h0M225.5 106.7h0M227.3 104.5h0M229.3 101.3h0M230.5 100.6h0M231.2 99.6h0M230.5 115.1h0M230.8 114.1h0M232.1 113.0h0M222.1 101.1h0M215.0 107.0h0M216.1 105.8h0M218.6 103.1h0M219.9 101.8h0M220.2 100.4h0M222.1 98.8h0M227.0 92.9h0M217.3 122.1h0M223.9 114.1h0M213.2 106.3h0M214.3 105.9h0M214.9 104.7h0M216.1 103.8h0M216.3 102.5h0M217.2 101.2h0M219.3 99.5h0M230.3 101.8h0M242.5 99.3h0M246.1 98.0h0" stroke="#08306b" stroke-width="3.50" stroke-linecap="round" fill="none"/>
<path d="M128.3 82.3h0M129.5 81.5h0M130.6 80.6h0M135.8 86.2h0M136.9 71.3h0M141.4 70.0h0M154.2 58.7h0M176.7 70.2h0M180.7 74.8h0M158.5 114.8h0M175.6 103.9h0M162.4 109.9h0M166.6 106.8h0M168.2 106.3h0M166.7 97.3h0M197.2 115.3h0M170.9 80.1h0M164.3 104.4h0M170.0 100.5h0M183.9 92.8h0M184.7 105.6h0M185.8 105.2h0M173.0 107.7h0M173.6 107.1h0M190.9 117.8h0M162.3 81.7h0M165.6 79.5h0M165.6 88.1h0M167.1 87.2h0M164.0 89.4h0M196.4 124.4h0M146.3 110.3h0M149.5 108.3h0M172.3 100.9h0M156.9 117.0h0M168.5 109.7h0M195.0 110.3h0M189.1 95.2h0M190.5 94.8h0M153.2 104.3h0M160.2 100.2h0M159.8 92.7h0M161.1 91.3h0M189.5 110.4h0M194.5 94.4h0M159.9 99.0h0M190.4 122.1h0M196.3 124.9h0M181.1 129.2h0M182.3 128.5h0M178.9 110.7h0M184.3 106.9h0M166.1 101.8h0M160.0 104.9h0M151.3 115.0h0M152.9 114.1h0M153.4 113.0h0M191.8 85.1h0M225.6 82.1h0M214.7 104.3h0M215.8 103.0h0M213.8 120.6h0M211.3 124.3h0M220.0 93.5h0M202.4 90.2h0M219.8 100.1h0M220.4 98.9h0M199.2 103.2h0M201.8 100.4h0M219.1 88.7h0M201.9 106.4h0M183.7 108.4h0M191.8 115.8h0M192.7 114.7h0M200.1 104.7h0M231.6 114.6h0M243.5 99.2h0M226.2 115.1h0M226.4 113.9h0M230.5 110.1h0M214.3 107.9h0M217.9 103.6h0M219.9 101.2h0M223.1 105.6h0M227.3 100.0h0M229.9 97.6h0M236.2 93.5h0M230.8 107.4h0M233.8 104.1h0M235.8 102.0h0M245.4 101.3h0M213.6 111.0h0M215.8 108.5h0M219.6 118.7h0M220.4 118.1h0M230.6 104.5h0M235.1 98.0h0M237.0 96.6h0M238.6 94.5h0M224.5 93.7h0M224.3 109.3h0M226.5 106.9h0M212.4 128.4h0M218.1 125.0h0M213.8 126.9h0" stroke="#9ac8e0" stroke-width="3.50" stroke-linecap="round" fill="none"/>
<path d="M174.2 71.2h0M141.0 115.5h0M143.6 113.9h0M156.8 116.2h0M160.8 110.5h0M152.9 105.4h0M182.5 85.0h0M156.9 117.0h0M189.0 120.3h0M201.3 112.8h0M166.4 83.3h0M167.6 82.1h0M170.0 80.8h0M165.7 117.1h0M169.1 114.9h0M170.7 114.6h0M180.7 108.4h0M186.9 99.1h0M187.5 98.2h0M158.1 90.5h0M186.1 99.9h0M182.8 84.2h0M187.9 81.7h0M187.9 115.9h0M188.6 90.0h0M200.0 82.2h0M195.5 123.6h0M197.8 122.4h0M198.5 121.8h0M160.0 85.1h0M172.7 77.1h0M173.7 76.4h0M167.1 95.8h0M153.3 96.8h0M185.3 113.3h0M187.3 111.8h0M197.3 117.3h0M186.8 126.0h0M167.6 116.9h0M162.3 104.6h0M166.5 97.9h0M150.0 115.8h0M157.5 115.0h0M199.1 111.9h0M181.2 117.4h0M220.8 75.7h0M218.3 82.1h0M202.7 103.0h0M216.5 85.7h0M212.8 118.3h0M212.4 103.4h0M207.3 93.9h0M212.8 99.7h0M210.8 121.8h0M208.5 108.2h0M215.5 99.7h0M211.0 111.2h0M185.5 107.1h0M200.3 128.0h0M201.4 104.3h0M236.0 109.1h0M237.0 107.7h0M239.4 104.7h0M225.1 115.9h0M225.7 95.2h0M231.1 125.6h0M233.0 123.0h0M213.8 116.8h0M238.0 106.1h0M224.3 124.8h0M226.4 122.7h0M237.9 98.7h0M244.9 101.8h0M221.6 99.4h0M226.1 93.3h0M220.0 98.3h0M232.6 99.8h0M214.7 127.1h0M211.9 128.6h0M213.2 127.5h0M218.5 124.0h0M220.7 122.5h0" stroke="#3080bd" stroke-width="3.50" stroke-linecap="round" fill="none"/>
<path d="M149.3 70.1h0M150.0 69.3h0M185.5 72.3h0M187.7 71.3h0M158.8 62.0h0M145.2 111.5h0M180.5 86.0h0M191.3 79.7h0M192.2 78.4h0M159.7 115.6h0M199.0 113.7h0M162.5 119.5h0M165.0 117.6h0M177.9 104.9h0M194.0 95.1h0M178.4 87.3h0M180.6 85.9h0M194.2 82.7h0M196.3 81.3h0M173.0 83.6h0M154.9 104.9h0M199.0 103.5h0M195.7 109.4h0M155.1 125.4h0M165.6 81.6h0M170.2 78.5h0M171.5 122.1h0M172.1 121.6h0M174.4 120.2h0M176.1 119.3h0M186.1 112.6h0M198.0 116.6h0M199.6 116.6h0M188.0 130.3h0M184.6 127.6h0M178.0 115.4h0M178.5 114.7h0M180.2 114.0h0M172.3 114.6h0M159.7 106.4h0M160.6 105.8h0M161.6 104.7h0M154.5 110.4h0M154.9 108.7h0M186.4 88.7h0M188.1 88.3h0M188.6 87.4h0M190.3 86.4h0M229.7 74.2h0M229.4 79.3h0M184.2 78.0h0M185.8 78.9h0M207.5 86.1h0M210.6 93.0h0M211.1 92.3h0M211.6 90.8h0M203.3 101.6h0M207.9 107.0h0M201.8 114.1h0M205.3 109.3h0M206.6 108.1h0M206.9 106.5h0M207.8 105.6h0M200.9 103.0h0M216.3 115.6h0M211.4 104.7h0M213.4 101.3h0M214.4 100.7h0M209.0 113.5h0M198.6 129.7h0M206.2 99.5h0M201.7 108.9h0M223.0 117.9h0M227.3 93.0h0M217.7 112.5h0M235.0 110.0h0M226.0 105.8h0M228.2 103.9h0M228.5 102.8h0M229.1 115.7h0M218.4 105.2h0M214.2 108.0h0M217.2 104.6h0M222.7 97.7h0M223.6 96.7h0M228.1 91.9h0M245.3 95.1h0M216.4 123.1h0M218.7 100.5h0M243.2 98.9h0M244.8 98.7h0M209.7 129.9h0" stroke="#084489" stroke-width="3.50" stroke-linecap="round" fill="none"/>
<path d="M147.9 70.5h0M183.9 72.8h0M186.1 72.4h0M149.6 109.5h0M150.9 109.9h0M159.1 107.6h0M161.7 106.6h0M162.6 106.0h0M155.0 116.8h0M162.1 112.8h0M159.5 111.5h0M191.3 118.5h0M192.1 117.7h0M197.9 114.3h0M172.1 99.7h0M167.3 116.4h0M168.3 115.4h0M178.9 109.8h0M183.8 100.9h0M192.6 95.8h0M183.1 93.8h0M181.7 85.7h0M179.5 91.9h0M187.8 86.4h0M192.0 83.7h0M193.6 83.3h0M176.5 81.9h0M150.7 107.7h0M171.4 101.3h0M177.0 97.9h0M190.1 89.2h0M187.5 110.4h0M196.5 123.0h0M194.3 92.1h0M195.8 90.8h0M170.6 115.5h0M181.6 115.5h0M184.2 114.1h0M167.4 111.5h0M196.1 118.3h0M188.7 129.3h0M178.3 131.1h0M182.9 128.2h0M188.8 124.8h0M176.5 115.9h0M168.9 116.8h0M169.7 116.1h0M167.3 97.0h0M160.1 112.9h0M182.7 92.1h0M215.3 71.6h0M213.3 75.5h0M219.8 75.5h0M230.2 79.6h0M208.7 87.2h0M212.0 111.8h0M212.5 110.9h0M214.8 107.4h0M214.7 87.9h0M217.7 83.4h0M200.2 106.5h0M200.3 116.6h0M202.2 114.3h0M205.3 110.5h0M211.3 92.6h0M213.7 117.1h0M211.7 104.5h0M213.5 101.7h0M217.2 113.3h0M205.1 88.8h0M211.9 103.8h0M212.9 108.1h0M187.1 105.6h0M203.0 102.4h0M204.3 101.3h0M205.2 100.3h0M202.9 107.5h0M185.7 118.7h0M230.8 124.9h0M232.3 123.8h0M235.3 119.6h0M238.5 105.8h0M222.7 118.9h0M212.9 117.6h0M218.2 111.4h0M244.9 97.6h0M224.5 122.3h0M227.1 119.3h0M227.5 117.8h0M227.1 122.0h0M211.3 113.0h0M221.2 101.6h0M215.4 124.4h0M212.8 107.9h0M219.6 114.8h0M231.1 100.9h0M210.5 128.8h0M220.2 123.7h0" stroke="#0e58a2" stroke-width="3.50" stroke-linecap="round" fill="none"/>
<path d="M125.2 84.0h0M139.9 75.7h0M152.7 67.7h0M137.4 84.5h0M138.9 84.0h0M140.1 82.8h0M141.7 81.4h0M143.0 69.8h0M126.6 92.2h0M166.2 70.8h0M169.6 68.4h0M173.1 65.4h0M179.8 68.7h0M147.6 110.2h0M148.3 114.5h0M168.8 108.3h0M171.6 106.9h0M160.1 101.2h0M190.1 79.9h0M151.8 120.4h0M152.7 119.6h0M176.9 76.6h0M156.9 109.5h0M159.3 107.6h0M165.7 103.9h0M167.1 103.2h0M180.5 94.4h0M181.1 93.7h0M176.7 111.2h0M180.4 102.8h0M184.5 100.2h0M194.1 115.4h0M200.6 111.7h0M155.8 92.1h0M174.4 106.8h0M195.9 93.6h0M185.4 92.6h0M187.5 91.1h0M188.6 90.7h0M190.0 89.8h0M196.4 86.3h0M197.6 85.0h0M188.3 85.7h0M182.2 78.1h0M146.9 114.7h0M153.1 111.5h0M155.1 110.3h0M184.6 93.6h0M190.6 90.4h0M192.3 113.7h0M192.9 112.8h0M196.7 110.7h0M198.8 109.3h0M155.2 121.9h0M157.2 120.7h0M158.3 120.0h0M177.7 97.3h0M190.0 109.2h0M192.6 107.6h0M197.4 105.0h0M186.7 90.4h0M193.1 86.1h0M187.0 129.0h0M152.6 119.4h0M153.2 119.2h0M199.6 89.2h0M169.3 129.3h0M170.5 128.2h0M175.0 125.3h0M176.3 124.4h0M178.8 123.4h0M179.9 122.7h0M183.5 120.6h0M186.0 130.2h0M191.3 126.9h0M179.2 103.7h0M188.5 98.4h0M184.2 125.5h0M186.5 123.8h0M189.5 122.6h0M192.6 120.5h0M183.6 133.0h0M171.9 118.8h0M178.0 110.8h0M175.5 94.4h0M155.9 108.0h0M163.8 101.1h0M159.2 108.5h0M159.9 107.6h0M162.0 106.6h0M161.9 111.4h0M185.5 93.7h0M194.6 86.4h0M190.2 115.9h0M202.1 106.0h0M193.2 116.0h0M196.0 114.0h0M197.2 113.7h0M174.7 122.4h0M203.1 75.3h0M207.9 72.7h0M227.8 82.3h0M228.8 82.6h0M230.3 83.1h0M232.7 83.7h0M227.4 88.3h0M188.6 80.1h0M208.3 113.2h0M210.0 110.4h0M212.3 107.5h0M213.3 106.8h0M220.6 100.0h0M211.8 123.6h0M213.0 89.8h0M216.0 114.1h0M219.3 94.4h0M202.4 100.4h0M204.2 99.4h0M207.5 94.5h0M209.9 80.6h0M209.0 83.5h0M209.6 83.0h0M207.8 84.2h0M216.7 104.3h0M217.3 102.9h0M218.0 102.3h0M212.4 96.7h0M199.5 109.8h0M192.7 119.4h0M193.9 118.6h0M200.9 112.4h0M198.0 92.4h0M186.1 103.9h0M229.3 127.2h0M230.6 115.0h0M238.3 110.0h0M244.5 102.7h0M218.3 124.6h0M222.2 98.8h0M211.5 110.9h0M221.6 99.0h0M223.8 96.4h0M212.5 100.6h0M212.1 101.7h0M217.7 95.6h0M218.0 94.2h0M228.3 128.7h0M235.5 119.9h0M221.8 107.7h0M241.9 101.7h0M232.3 98.8h0M233.7 96.6h0M231.3 116.5h0M223.6 116.6h0M231.7 106.5h0M235.8 106.6h0M240.0 101.1h0M241.3 100.0h0M243.9 97.3h0M224.8 116.3h0M228.6 111.1h0M221.9 96.3h0M223.6 94.4h0M222.1 112.4h0M215.7 125.8h0M222.5 121.7h0" stroke="#e8f1fa" stroke-width="3.50" stroke-linecap="round" fill="none"/>
<path d="M140.9 74.8h0M142.4 73.9h0M143.5 73.0h0M133.6 87.4h0M134.5 86.5h0M143.8 80.2h0M159.8 114.1h0M181.5 100.8h0M163.2 109.1h0M164.6 108.6h0M177.6 100.3h0M150.8 106.8h0M164.1 98.6h0M165.4 97.4h0M150.3 121.1h0M195.5 116.1h0M171.9 79.2h0M171.0 100.0h0M172.9 113.0h0M174.0 112.0h0M175.0 105.7h0M175.8 105.4h0M178.2 103.9h0M188.6 97.2h0M189.6 97.1h0M186.4 120.7h0M159.0 89.8h0M160.3 89.1h0M162.9 88.2h0M164.2 87.1h0M187.0 98.8h0M160.9 82.0h0M163.4 80.7h0M164.7 79.8h0M180.8 95.4h0M182.5 95.0h0M195.8 76.6h0M185.6 87.8h0M158.8 92.3h0M183.1 77.4h0M190.6 128.4h0M191.7 127.5h0M194.3 126.4h0M165.8 115.6h0M166.8 115.6h0M147.3 110.3h0M156.8 104.0h0M197.3 83.3h0M188.6 96.0h0M167.2 117.4h0M168.9 116.9h0M162.6 84.0h0M164.9 82.4h0M186.7 118.8h0M155.9 102.8h0M155.8 95.2h0M156.6 94.8h0M157.6 93.9h0M162.2 90.9h0M184.0 132.2h0M172.1 108.5h0M191.7 96.6h0M193.0 95.4h0M151.2 104.9h0M157.8 100.9h0M189.8 128.2h0M197.0 123.9h0M198.4 123.3h0M199.1 122.4h0M187.8 125.5h0M190.3 123.4h0M194.4 121.2h0M180.3 109.7h0M188.2 104.7h0M173.2 96.5h0M165.1 109.3h0M191.2 88.9h0M201.2 110.0h0M176.7 120.9h0M226.3 82.3h0M236.8 84.6h0M238.3 84.7h0M212.6 121.3h0M210.8 112.7h0M201.3 104.7h0M217.3 116.7h0M218.0 116.2h0M210.8 93.1h0M215.7 86.5h0M217.2 84.3h0M215.3 99.6h0M204.1 98.2h0M206.3 95.2h0M201.4 92.2h0M200.8 93.9h0M216.3 98.9h0M216.8 97.5h0M200.5 102.4h0M200.8 101.5h0M213.4 95.7h0M203.8 103.1h0M205.4 100.9h0M196.9 93.5h0M183.4 106.2h0M240.6 102.8h0M241.7 101.7h0M242.8 100.4h0M218.8 103.3h0M219.2 110.2h0M224.6 103.2h0M226.8 101.4h0M228.1 99.7h0M240.6 102.8h0M246.8 95.8h0M237.1 92.8h0M233.6 111.0h0M230.0 119.1h0M217.6 106.0h0M214.8 124.9h0M222.4 118.3h0M225.6 108.2h0M209.3 130.5h0M210.0 130.2h0M213.3 127.8h0M225.7 119.7h0" stroke="#7bb7d9" stroke-width="3.50" stroke-linecap="round" fill="none"/>
<defs><linearGradient id="blues" x1="0" y1="1" x2="0" y2="0"><stop offset="0" stop-color="#f7fbff"/><stop offset="0.125" stop-color="#deebf7"/><stop offset="0.25" stop-color="#c6dbef"/><stop offset="0.375" stop-color="#9ecae1"/><stop offset="0.5" stop-color="#6baed6"/><stop offset="0.625" stop-color="#4292c6"/><stop offset="0.75" stop-color="#2171b5"/><stop offset="0.875" stop-color="#08519c"/><stop offset="1" stop-color="#08306b"/></linearGradient></defs>
<rect x="60.4" y="42.4" width="5.2" height="101" fill="url(#blues)" stroke="#3a3a3a" stroke-width="0.7"/>
<line x1="55.8" y1="42.4" x2="60.4" y2="42.4" stroke="#3a3a3a" stroke-width="0.8"/>
<line x1="55.8" y1="143.4" x2="60.4" y2="143.4" stroke="#3a3a3a" stroke-width="0.8"/>
<text transform="translate(56.50,39.70) scale(1.12,1.0)" font-size="8.8" text-anchor="middle" font-weight="normal" fill="#231f20">0.06</text>
<text transform="translate(56.50,154.30) scale(1.12,1.0)" font-size="8.8" text-anchor="middle" font-weight="normal" fill="#231f20">0</text>
<text transform="translate(49.00,140.30) rotate(-90)" font-size="10.6" text-anchor="start" font-weight="normal" fill="#231f20" textLength="95.7" lengthAdjust="spacingAndGlyphs">Explained variance</text>
<rect x="393.80" y="15.1" width="24.1" height="18.2" fill="#8000ff"/>
<text transform="translate(406.35,11.00)" font-size="9.9" text-anchor="middle" font-weight="normal" fill="#231f20">CN</text>
<rect x="428.17" y="15.1" width="24.1" height="18.2" fill="#2c7ff7"/>
<text transform="translate(440.72,11.00)" font-size="9.9" text-anchor="middle" font-weight="normal" fill="#231f20">MD</text>
<rect x="462.54" y="15.1" width="24.1" height="18.2" fill="#2adcdc"/>
<text transform="translate(475.09,11.00)" font-size="9.9" text-anchor="middle" font-weight="normal" fill="#231f20">PCN</text>
<rect x="496.91" y="15.1" width="24.1" height="18.2" fill="#80ffb4"/>
<text transform="translate(509.46,11.00)" font-size="9.9" text-anchor="middle" font-weight="normal" fill="#231f20">PO</text>
<rect x="531.28" y="15.1" width="24.1" height="18.2" fill="#d4dd80"/>
<text transform="translate(543.83,11.00)" font-size="9.9" text-anchor="middle" font-weight="normal" fill="#231f20">VAL</text>
<rect x="565.65" y="15.1" width="24.1" height="18.2" fill="#ff7f41"/>
<text transform="translate(578.20,11.00)" font-size="9.9" text-anchor="middle" font-weight="normal" fill="#231f20">VM</text>
<rect x="600.02" y="15.1" width="24.1" height="18.2" fill="#ff0000"/>
<text transform="translate(612.57,11.00)" font-size="9.9" text-anchor="middle" font-weight="normal" fill="#231f20">VP</text>
<defs>
<linearGradient id="gBlueTop" x1="0" y1="0" x2="0" y2="1"><stop offset="0" stop-color="#c4d7da"/><stop offset="0.6" stop-color="#b6cbce"/><stop offset="1" stop-color="#9fb6ba"/></linearGradient>
<linearGradient id="gKhakiTL" x1="0" y1="0" x2="1" y2="1"><stop offset="0" stop-color="#d3cc95"/><stop offset="0.4" stop-color="#a09a5e"/><stop offset="1" stop-color="#88824a"/></linearGradient>
<clipPath id="clipImg"><rect x="0" y="0" width="285" height="190"/></clipPath>
<g id="sliceL">
<rect x="0" y="0" width="285" height="190" fill="#a8b5bd"/>
<path id="sliceL_s0" d="M144.1,-1.0 C123.4,-7.8 40.7,-3.2 20.0,-1.0 C-0.7,1.2 19.9,7.3 20.0,12.0 C20.1,16.7 19.5,23.9 20.3,27.0 C21.1,30.1 22.8,29.6 24.7,30.8 C26.6,32.0 29.3,33.5 32.0,34.5 C34.7,35.5 37.8,36.4 40.7,37.0 C43.6,37.6 45.8,38.2 49.3,38.2 C52.8,38.2 56.8,37.3 61.6,37.0 C66.4,36.7 72.4,36.0 78.0,36.5 C83.6,37.0 88.8,38.2 95.0,40.0 C101.2,41.8 109.2,45.8 115.0,47.0 C120.8,48.2 125.2,48.2 130.0,47.0 C134.8,45.8 141.8,48.0 144.1,40.0 C146.4,32.0 164.8,5.8 144.1,-1.0Z" fill="url(#gBlueTop)"/>
<use href="#sliceL_s0" transform="translate(287.2,0) scale(-1,1)"/>
<path d="M128.0,-1.0 C132.8,-1.5 154.2,-1.5 159.0,-1.0 C163.8,-0.5 161.8,1.5 157.0,2.0 C152.2,2.5 134.8,2.5 130.0,2.0 C125.2,1.5 123.2,-0.5 128.0,-1.0Z" fill="#5f8284"/>
<path id="sliceL_s2" d="M-1.0,-1.0 C4.9,-6.7 29.6,-2.4 34.5,-1.0 C39.4,0.4 30.3,4.8 28.4,7.4 C26.4,10.0 24.4,12.5 22.8,14.8 C21.2,17.1 20.2,19.4 18.5,21.0 C16.8,22.6 14.2,23.3 12.3,24.7 C10.5,26.1 9.6,28.2 7.4,29.6 C5.2,31.0 0.4,38.4 -1.0,33.3 C-2.4,28.2 -6.9,4.7 -1.0,-1.0Z" fill="url(#gKhakiTL)"/>
<use href="#sliceL_s2" transform="translate(287.2,0) scale(-1,1)"/>
<path id="sliceL_s3" d="M12.3,24.7 C13.7,23.3 18.2,20.0 19.7,21.0 C21.1,22.0 21.0,27.5 21.0,30.8 C21.0,34.1 20.1,37.2 19.7,40.7 C19.3,44.2 19.0,49.5 18.5,51.8 C18.0,54.0 17.2,54.6 16.6,54.2 C16.0,53.8 15.3,52.2 14.8,49.3 C14.3,46.4 14.2,40.3 13.6,37.0 C13.0,33.7 11.3,31.7 11.1,29.6 C10.9,27.6 10.9,26.1 12.3,24.7Z" fill="url(#rg_sliceL_3)"/>
<use href="#sliceL_s3" transform="translate(287.2,0) scale(-1,1)"/>
<path id="sliceL_s4" d="M-1.0,33.3 C0.4,28.6 5.4,31.0 7.4,30.8 C9.4,30.6 10.1,30.6 11.1,32.0 C12.1,33.4 13.0,35.7 13.6,39.4 C14.2,43.1 15.0,50.3 14.8,54.2 C14.6,58.1 13.5,61.7 12.3,62.9 C11.1,64.1 9.6,62.2 7.4,61.6 C5.2,61.0 0.4,63.9 -1.0,59.2 C-2.4,54.5 -2.4,38.0 -1.0,33.3Z" fill="url(#rg_sliceL_4)"/>
<use href="#sliceL_s4" transform="translate(287.2,0) scale(-1,1)"/>
<path id="sliceL_s5" d="M20.3,27.1 C20.9,27.1 22.8,29.6 24.7,30.8 C26.6,32.0 29.3,33.5 32.0,34.5 C34.7,35.5 38.2,36.4 40.7,37.0 C43.2,37.6 46.8,36.6 46.8,38.2 C46.8,39.8 42.3,44.3 40.7,46.8 C39.1,49.3 38.0,50.7 37.0,53.0 C36.0,55.3 35.9,58.5 34.5,60.4 C33.1,62.2 30.2,63.5 28.4,64.1 C26.5,64.7 25.0,65.1 23.4,64.1 C21.8,63.1 19.3,60.0 18.5,58.0 C17.7,56.0 18.3,54.7 18.5,51.8 C18.7,48.9 19.3,44.2 19.7,40.7 C20.1,37.2 20.9,33.1 21.0,30.8 C21.1,28.5 19.7,27.1 20.3,27.1Z" fill="url(#rg_sliceL_5)"/>
<use href="#sliceL_s5" transform="translate(287.2,0) scale(-1,1)"/>
<path id="sliceL_s6" d="M-1.0,59.2 C0.4,55.1 5.2,61.0 7.4,61.6 C9.6,62.2 10.7,63.7 12.3,62.9 C13.9,62.1 15.2,56.8 17.0,57.0 C18.9,57.2 21.5,62.9 23.4,64.1 C25.3,65.3 26.5,64.7 28.4,64.1 C30.2,63.5 33.1,62.2 34.5,60.4 C35.9,58.5 36.0,55.3 37.0,53.0 C38.0,50.7 39.1,49.3 40.7,46.8 C42.3,44.3 45.2,39.6 46.8,38.2 C48.4,36.8 49.9,37.2 50.5,38.2 C51.1,39.2 51.5,41.9 50.5,44.4 C49.5,46.9 46.2,50.5 44.4,53.0 C42.5,55.5 40.6,57.4 39.4,59.2 C38.2,61.1 38.4,62.5 37.0,64.1 C35.6,65.7 32.9,67.3 30.8,69.0 C28.8,70.7 26.8,72.2 24.7,74.0 C22.6,75.8 20.6,78.3 18.5,80.1 C16.4,81.9 15.6,84.0 12.3,85.0 C9.1,86.0 1.2,90.6 -1.0,86.3 C-3.2,82.0 -2.4,63.3 -1.0,59.2Z" fill="url(#rg_sliceL_6)"/>
<use href="#sliceL_s6" transform="translate(287.2,0) scale(-1,1)"/>
<path id="sliceL_s7" d="M13.6,67.8 C14.5,67.0 16.6,66.4 18.5,66.6 C20.4,66.8 23.9,68.0 24.7,69.0 C25.5,70.0 24.6,71.9 23.4,72.7 C22.2,73.5 19.1,74.2 17.3,74.0 C15.6,73.8 13.5,72.5 12.9,71.5 C12.3,70.5 12.7,68.6 13.6,67.8Z" fill="#4d5a6d"/>
<use href="#sliceL_s7" transform="translate(287.2,0) scale(-1,1)"/>
<path id="sliceL_s8" d="M43.1,40.7 C45.0,38.9 48.7,38.7 51.8,38.2 C54.9,37.7 56.9,37.6 61.6,37.6 C66.3,37.6 74.4,37.8 80.0,38.5 C85.6,39.2 91.2,40.8 95.0,42.0 C98.8,43.2 100.5,44.3 103.0,46.0 C105.5,47.7 109.5,49.7 110.0,52.0 C110.5,54.3 107.2,57.0 106.0,60.0 C104.8,63.0 104.2,68.0 103.0,70.0 C101.8,72.0 101.2,71.7 99.0,72.0 C96.8,72.3 93.2,72.3 90.0,72.0 C86.8,71.7 83.5,70.7 80.0,70.0 C76.5,69.3 72.7,67.5 69.0,67.8 C65.3,68.0 60.9,71.3 58.0,71.5 C55.1,71.7 53.7,70.2 51.8,69.0 C49.9,67.8 48.2,66.3 46.8,64.1 C45.3,61.8 44.1,58.0 43.1,55.5 C42.1,53.0 40.7,51.8 40.7,49.3 C40.7,46.8 41.2,42.6 43.1,40.7Z" fill="url(#rg_sliceL_8)"/>
<use href="#sliceL_s8" transform="translate(287.2,0) scale(-1,1)"/>
<path id="sliceL_s9" d="M46.0,38.5 C47.8,37.8 55.7,36.9 60.0,36.3 C64.3,35.7 68.7,35.0 72.0,35.0 C75.3,35.0 80.0,36.0 80.0,36.5 C80.0,37.0 75.3,37.6 72.0,38.0 C68.7,38.4 63.8,38.4 60.0,38.8 C56.2,39.2 51.3,40.5 49.0,40.5 C46.7,40.5 44.2,39.2 46.0,38.5Z" fill="#d6cf9c"/>
<use href="#sliceL_s9" transform="translate(287.2,0) scale(-1,1)"/>
<path id="sliceL_s10" d="M77.2,22.7 C78.9,22.1 85.8,21.5 90.0,21.5 C94.2,21.5 97.8,22.1 102.3,22.6 C106.8,23.1 112.3,23.9 116.7,24.4 C121.1,24.9 126.0,25.4 128.6,25.5 C131.2,25.6 131.6,24.5 132.0,25.0 C132.4,25.5 132.0,26.9 131.0,28.7 C130.0,30.5 128.4,33.9 126.2,35.9 C124.0,37.9 121.3,39.8 117.9,40.7 C114.5,41.6 109.9,41.7 105.9,41.3 C101.9,40.9 96.3,39.3 94.0,38.3 C91.7,37.2 91.8,36.2 92.0,35.0 C92.2,33.8 95.3,32.5 95.0,31.0 C94.7,29.5 92.5,27.0 90.0,26.0 C87.5,25.0 82.1,25.6 80.0,25.0 C77.9,24.4 75.5,23.3 77.2,22.7Z" fill="url(#rg_sliceL_10)"/>
<use href="#sliceL_s10" transform="translate(287.2,0) scale(-1,1)"/>
<path id="sliceL_s11" d="M89.1,23.9 C90.5,23.4 98.5,26.8 103.5,28.1 C108.5,29.4 117.7,30.4 119.1,31.7 C120.5,33.0 115.1,35.4 111.9,35.9 C108.7,36.4 102.7,35.5 99.9,34.7 C97.1,33.9 96.9,32.9 95.1,31.1 C93.3,29.3 87.7,24.4 89.1,23.9Z" fill="url(#rg_sliceL_11)"/>
<use href="#sliceL_s11" transform="translate(287.2,0) scale(-1,1)"/>
<path id="sliceL_s12" d="M69.4,15.6 C69.0,13.4 70.9,10.9 73.6,9.6 C76.3,8.3 81.1,7.6 85.5,7.8 C89.9,8.0 95.1,9.7 99.9,10.8 C104.7,11.9 109.9,13.4 114.3,14.4 C118.7,15.4 123.0,17.0 126.2,16.8 C129.4,16.6 131.4,14.6 133.4,13.2 C135.4,11.8 136.3,9.4 138.2,8.4 C140.1,7.4 143.5,6.4 144.6,7.0 C145.7,7.6 145.1,11.2 144.6,12.0 C144.1,12.8 142.7,11.0 141.8,12.0 C140.9,13.0 140.2,16.0 139.4,18.0 C138.6,20.0 138.2,23.0 137.0,24.0 C135.8,25.0 133.6,23.7 132.2,23.9 C130.8,24.1 131.2,25.1 128.6,25.1 C126.0,25.1 121.1,24.4 116.7,23.9 C112.3,23.4 107.1,22.6 102.3,22.1 C97.5,21.6 92.3,20.8 87.9,20.9 C83.5,21.0 79.1,23.6 76.0,22.7 C72.9,21.8 69.8,17.8 69.4,15.6Z" fill="url(#rg_sliceL_12)"/>
<use href="#sliceL_s12" transform="translate(287.2,0) scale(-1,1)"/>
<path id="sliceL_s13" d="M82.0,35.9 C83.6,35.9 90.0,37.4 94.0,38.3 C98.0,39.2 101.9,40.9 105.9,41.3 C109.9,41.7 114.5,41.6 117.9,40.7 C121.3,39.8 124.0,37.9 126.2,35.9 C128.4,33.9 129.8,30.7 131.0,28.7 C132.2,26.7 132.6,26.2 133.4,23.9 C134.2,21.6 134.9,17.5 136.0,15.0 C137.1,12.5 138.6,10.2 140.0,9.0 C141.4,7.8 143.8,7.5 144.6,8.0 C145.4,8.5 145.1,11.3 144.6,12.0 C144.1,12.7 142.7,11.0 141.8,12.0 C140.9,13.0 140.2,15.4 139.4,18.0 C138.6,20.6 138.0,24.5 137.0,27.5 C136.0,30.5 135.0,33.3 133.4,35.9 C131.8,38.5 129.8,41.1 127.4,43.1 C125.0,45.1 121.7,46.9 119.1,47.9 C116.5,48.9 115.1,49.5 111.9,49.1 C108.7,48.7 104.5,47.3 99.9,45.5 C95.3,43.7 87.3,39.9 84.3,38.3 C81.3,36.7 80.4,35.9 82.0,35.9Z" fill="url(#rg_sliceL_13)"/>
<use href="#sliceL_s13" transform="translate(287.2,0) scale(-1,1)"/>
<path d="M143.6,15.5 C141.7,15.5 139.2,17.8 138.0,20.0 C136.8,22.2 136.3,26.2 136.1,29.0 C135.9,31.8 136.2,34.3 136.8,37.0 C137.5,39.7 139.3,42.3 140.0,45.0 C140.7,47.7 140.5,50.3 140.8,53.0 C141.1,55.7 141.1,59.2 141.6,61.0 C142.1,62.8 142.9,64.0 143.6,64.0 C144.3,64.0 145.1,62.8 145.6,61.0 C146.1,59.2 146.1,55.7 146.4,53.0 C146.7,50.3 146.5,47.7 147.2,45.0 C147.9,42.3 149.7,39.7 150.4,37.0 C151.0,34.3 151.3,31.8 151.1,29.0 C150.9,26.2 150.4,22.2 149.2,20.0 C147.9,17.8 145.5,15.5 143.6,15.5Z" fill="url(#rg_sliceL_14)"/>
<path id="sliceL_s15" d="M126.4,38.0 C127.1,35.2 129.7,34.3 131.0,33.0 C132.3,31.7 133.2,30.0 134.0,30.0 C134.8,30.0 135.6,31.3 136.1,33.0 C136.6,34.7 136.2,37.8 136.8,40.0 C137.5,42.2 139.3,43.8 140.0,46.0 C140.7,48.2 140.6,50.5 140.9,53.0 C141.2,55.5 142.2,59.4 141.6,61.0 C140.9,62.6 138.9,62.7 137.0,62.5 C135.1,62.3 131.7,62.1 130.0,60.0 C128.3,57.9 127.6,53.7 127.0,50.0 C126.4,46.3 125.7,40.8 126.4,38.0Z" fill="url(#rg_sliceL_15)"/>
<use href="#sliceL_s15" transform="translate(287.2,0) scale(-1,1)"/>
<path id="sliceL_s16" d="M112.0,58.0 C113.0,55.8 117.3,54.5 120.0,54.0 C122.7,53.5 125.7,54.2 128.0,55.0 C130.3,55.8 132.5,57.5 134.0,59.0 C135.5,60.5 137.2,62.3 137.0,64.0 C136.8,65.7 135.5,67.9 133.0,69.0 C130.5,70.1 125.2,70.8 122.0,70.5 C118.8,70.2 115.7,69.1 114.0,67.0 C112.3,64.9 111.0,60.2 112.0,58.0Z" fill="url(#rg_sliceL_16)"/>
<use href="#sliceL_s16" transform="translate(287.2,0) scale(-1,1)"/>
<path id="sliceL_s17" d="M100.0,48.0 C101.2,47.0 106.2,50.3 108.0,52.0 C109.8,53.7 111.0,55.7 111.0,58.0 C111.0,60.3 109.2,63.2 108.0,66.0 C106.8,68.8 104.7,70.2 104.0,75.0 C103.3,79.8 104.0,89.2 104.0,95.0 C104.0,100.8 104.7,106.8 104.0,110.0 C103.3,113.2 101.5,114.0 100.0,114.0 C98.5,114.0 96.0,113.2 95.0,110.0 C94.0,106.8 93.8,100.0 94.0,95.0 C94.2,90.0 95.2,84.2 96.0,80.0 C96.8,75.8 98.2,73.7 99.0,70.0 C99.8,66.3 100.8,61.7 101.0,58.0 C101.2,54.3 98.8,49.0 100.0,48.0Z" fill="url(#rg_sliceL_17)"/>
<use href="#sliceL_s17" transform="translate(287.2,0) scale(-1,1)"/>
<path id="sliceL_s18" d="M56.7,71.5 C57.9,70.1 65.1,68.2 69.0,67.8 C72.9,67.4 76.5,68.3 80.0,69.0 C83.5,69.7 87.3,71.5 90.0,72.0 C92.7,72.5 94.8,70.7 96.0,72.0 C97.2,73.3 97.0,76.7 97.0,80.0 C97.0,83.3 96.5,88.0 96.0,92.0 C95.5,96.0 94.7,101.0 94.0,104.0 C93.3,107.0 93.3,108.8 92.0,110.0 C90.7,111.2 88.0,111.3 86.0,111.0 C84.0,110.7 82.0,109.8 80.0,108.0 C78.0,106.2 75.8,102.8 74.0,100.0 C72.2,97.2 70.5,93.7 69.0,91.0 C67.5,88.3 66.2,86.4 65.0,84.0 C63.8,81.6 63.0,78.5 61.6,76.4 C60.2,74.3 55.5,72.9 56.7,71.5Z" fill="url(#rg_sliceL_18)"/>
<use href="#sliceL_s18" transform="translate(287.2,0) scale(-1,1)"/>
<path id="sliceL_s19" d="M-1.0,86.5 C1.2,83.2 9.1,86.1 12.3,85.0 C15.6,83.9 16.9,81.3 18.5,80.1 C20.1,78.9 22.2,77.0 22.0,78.0 C21.8,79.0 18.3,82.4 17.3,86.0 C16.3,89.6 15.6,95.4 16.0,99.7 C16.4,104.0 17.6,107.9 19.7,112.0 C21.8,116.1 24.9,120.6 28.4,124.3 C31.9,128.0 36.4,131.3 40.7,134.2 C45.0,137.1 50.9,139.8 54.2,141.6 C57.5,143.4 57.9,143.2 60.4,145.3 C62.9,147.4 66.7,151.3 69.0,154.0 C71.3,156.7 72.5,159.7 74.0,161.3 C75.5,162.9 77.4,162.0 77.7,163.8 C78.0,165.6 77.3,169.3 76.0,172.0 C74.7,174.7 72.0,176.8 70.0,180.0 C68.0,183.2 69.7,189.2 64.0,191.0 C58.3,192.8 40.3,193.2 36.0,191.0 C31.7,188.8 38.2,182.9 38.0,178.0 C37.8,173.1 36.1,166.1 34.5,161.3 C32.9,156.5 30.6,152.1 28.4,149.0 C26.1,145.9 22.6,145.3 21.0,142.8 C19.4,140.3 19.9,137.9 18.5,134.2 C17.1,130.5 14.6,124.7 12.3,120.6 C10.1,116.5 7.2,112.2 5.0,109.5 C2.8,106.8 0.0,108.4 -1.0,104.6 C-2.0,100.8 -3.2,89.8 -1.0,86.5Z" fill="url(#rg_sliceL_19)"/>
<use href="#sliceL_s19" transform="translate(287.2,0) scale(-1,1)"/>
<path id="sliceL_s20" d="M37.0,58.0 C39.5,55.6 41.5,54.5 43.1,55.5 C44.7,56.5 47.1,62.2 46.8,64.1 C46.4,66.0 43.0,65.7 41.0,67.0 C39.0,68.3 36.8,69.8 35.0,72.0 C33.2,74.2 31.4,77.3 30.5,80.0 C29.6,82.7 29.8,84.7 29.6,88.0 C29.5,91.3 29.5,96.3 29.6,100.0 C29.8,103.7 29.8,106.3 30.5,110.0 C31.2,113.7 32.2,118.3 34.0,122.0 C35.8,125.7 38.3,129.2 41.0,132.0 C43.7,134.8 46.8,137.2 50.0,139.0 C53.2,140.8 57.8,141.7 60.0,143.0 C62.2,144.3 62.9,146.6 63.0,147.0 C63.1,147.4 61.9,146.2 60.4,145.3 C58.9,144.4 57.5,143.4 54.2,141.6 C50.9,139.8 45.0,137.1 40.7,134.2 C36.4,131.3 31.9,128.0 28.4,124.3 C24.9,120.6 21.8,116.1 19.7,112.0 C17.6,107.9 16.4,104.0 16.0,99.7 C15.6,95.4 16.3,89.6 17.3,86.0 C18.3,82.4 20.2,80.7 22.0,78.0 C23.8,75.3 25.5,73.3 28.0,70.0 C30.5,66.7 34.5,60.4 37.0,58.0Z" fill="url(#rg_sliceL_20)"/>
<use href="#sliceL_s20" transform="translate(287.2,0) scale(-1,1)"/>
<path id="sliceL_s21" d="M37.0,69.0 C39.5,67.3 43.7,66.6 46.8,66.6 C49.9,66.6 53.0,67.4 55.5,69.0 C58.0,70.6 60.0,73.9 61.6,76.4 C63.2,78.9 63.8,81.6 65.0,84.0 C66.2,86.4 67.5,88.3 69.0,91.0 C70.5,93.7 72.2,97.2 74.0,100.0 C75.8,102.8 77.7,106.0 80.0,108.0 C82.3,110.0 85.2,111.2 88.0,112.0 C90.8,112.8 95.2,110.8 97.0,113.0 C98.8,115.2 98.8,120.8 99.0,125.0 C99.2,129.2 99.8,134.7 98.0,138.0 C96.2,141.3 92.2,143.7 88.0,145.0 C83.8,146.3 77.7,146.3 73.0,146.0 C68.3,145.7 63.8,144.2 60.0,143.0 C56.2,141.8 53.2,140.8 50.0,139.0 C46.8,137.2 43.7,134.8 41.0,132.0 C38.3,129.2 35.8,125.7 34.0,122.0 C32.2,118.3 31.2,113.7 30.5,110.0 C29.8,106.3 29.8,103.7 29.6,100.0 C29.5,96.3 29.2,91.8 29.6,88.0 C30.0,84.2 30.8,80.2 32.0,77.0 C33.2,73.8 34.5,70.7 37.0,69.0Z" fill="url(#rg_sliceL_21)" stroke="#c9c08a" stroke-width="0.8"/>
<use href="#sliceL_s21" transform="translate(287.2,0) scale(-1,1)"/>
<path id="sliceL_s22" d="M-1.0,104.0 C0.0,99.7 2.8,105.2 5.0,108.0 C7.2,110.8 10.3,116.6 12.3,120.6 C14.3,124.6 15.8,128.4 17.0,132.0 C18.2,135.6 19.7,139.5 19.7,142.0 C19.7,144.5 18.3,146.3 17.0,147.0 C15.7,147.7 14.0,147.2 12.0,146.0 C10.0,144.8 7.2,142.0 5.0,140.0 C2.8,138.0 0.0,140.0 -1.0,134.0 C-2.0,128.0 -2.0,108.3 -1.0,104.0Z" fill="url(#rg_sliceL_22)"/>
<use href="#sliceL_s22" transform="translate(287.2,0) scale(-1,1)"/>
<path id="sliceL_s23" d="M-1.0,134.0 C0.0,125.5 2.8,138.0 5.0,140.0 C7.2,142.0 10.0,144.8 12.0,146.0 C14.0,147.2 16.3,146.0 17.0,147.0 C17.7,148.0 15.5,149.8 16.0,152.0 C16.5,154.2 18.2,157.0 20.0,160.0 C21.8,163.0 25.0,166.7 27.0,170.0 C29.0,173.3 30.7,176.5 32.0,180.0 C33.3,183.5 40.5,189.2 35.0,191.0 C29.5,192.8 5.0,200.5 -1.0,191.0 C-7.0,181.5 -2.0,142.5 -1.0,134.0Z" fill="url(#rg_sliceL_23)"/>
<use href="#sliceL_s23" transform="translate(287.2,0) scale(-1,1)"/>
<path id="sliceL_s24" d="M17.0,147.0 C17.1,145.5 18.4,142.8 19.7,143.0 C21.0,143.2 23.3,145.8 25.0,148.0 C26.7,150.2 28.4,153.5 30.0,156.0 C31.6,158.5 34.3,161.2 34.5,163.0 C34.7,164.8 32.8,167.5 31.0,167.0 C29.2,166.5 26.0,162.5 24.0,160.0 C22.0,157.5 20.2,154.2 19.0,152.0 C17.8,149.8 16.9,148.5 17.0,147.0Z" fill="url(#rg_sliceL_24)"/>
<use href="#sliceL_s24" transform="translate(287.2,0) scale(-1,1)"/>
<path id="sliceL_s25" d="M35.0,145.0 C36.8,143.8 41.5,142.5 45.0,143.0 C48.5,143.5 52.8,145.8 56.0,148.0 C59.2,150.2 62.0,153.2 64.0,156.0 C66.0,158.8 67.6,162.3 67.8,165.0 C68.0,167.7 67.1,170.8 65.0,172.0 C62.9,173.2 58.3,172.7 55.0,172.0 C51.7,171.3 47.8,170.0 45.0,168.0 C42.2,166.0 39.8,163.0 38.0,160.0 C36.2,157.0 35.0,152.5 34.5,150.0 C34.0,147.5 33.2,146.2 35.0,145.0Z" fill="url(#rg_sliceL_25)"/>
<use href="#sliceL_s25" transform="translate(287.2,0) scale(-1,1)"/>
<path id="sliceL_s26" d="M59.0,171.0 C60.5,169.7 63.2,172.2 65.0,172.0 C66.8,171.8 68.2,169.7 70.0,170.0 C71.8,170.3 74.3,172.3 76.0,174.0 C77.7,175.7 79.3,177.2 80.0,180.0 C80.7,182.8 83.5,189.2 80.0,191.0 C76.5,192.8 63.0,192.8 59.0,191.0 C55.0,189.2 56.0,183.3 56.0,180.0 C56.0,176.7 57.5,172.3 59.0,171.0Z" fill="url(#rg_sliceL_26)"/>
<use href="#sliceL_s26" transform="translate(287.2,0) scale(-1,1)"/>
<path id="sliceL_s27" d="M55.5,142.8 C55.0,142.1 59.1,145.5 62.0,146.0 C64.9,146.5 68.7,146.2 73.0,146.0 C77.3,145.8 83.8,146.3 88.0,145.0 C92.2,143.7 96.0,143.2 98.0,138.0 C100.0,132.8 97.2,117.3 100.0,114.0 C102.8,110.7 109.3,116.2 115.0,118.0 C120.7,119.8 130.5,121.3 134.0,125.0 C137.5,128.7 136.0,134.7 136.0,140.0 C136.0,145.3 137.0,154.2 134.0,157.0 C131.0,159.8 123.7,156.0 118.0,157.0 C112.3,158.0 105.5,162.0 100.0,163.0 C94.5,164.0 88.7,163.2 85.0,163.0 C81.3,162.8 80.2,163.2 78.0,162.0 C75.8,160.8 74.2,158.0 72.0,156.0 C69.8,154.0 67.8,152.2 65.0,150.0 C62.2,147.8 56.0,143.5 55.5,142.8Z" fill="url(#rg_sliceL_27)"/>
<use href="#sliceL_s27" transform="translate(287.2,0) scale(-1,1)"/>
<path id="sliceL_s28" d="M71.5,161.3 C71.8,159.1 75.6,161.2 78.0,162.0 C80.4,162.8 83.2,165.0 86.0,166.0 C88.8,167.0 92.6,166.5 95.0,168.0 C97.4,169.5 99.7,171.2 100.6,175.0 C101.5,178.8 105.0,188.3 100.6,191.0 C96.2,193.7 78.1,193.7 74.0,191.0 C69.9,188.3 76.4,179.9 76.0,175.0 C75.6,170.1 71.2,163.5 71.5,161.3Z" fill="url(#rg_sliceL_28)"/>
<use href="#sliceL_s28" transform="translate(287.2,0) scale(-1,1)"/>
<path d="M143.6,62.0 C140.7,62.0 136.3,62.3 135.0,63.5 C133.7,64.7 134.8,67.1 135.5,69.0 C136.2,70.9 138.7,71.5 139.5,75.0 C140.3,78.5 140.2,84.2 140.3,90.0 C140.4,95.8 140.3,104.3 140.3,110.0 C140.3,115.7 140.6,119.8 140.3,124.0 C140.0,128.2 139.2,131.5 138.5,135.0 C137.8,138.5 137.2,141.5 136.4,145.0 C135.7,148.5 134.7,152.3 134.0,156.0 C133.3,159.7 130.7,165.2 132.3,167.0 C133.9,168.8 139.8,167.0 143.6,167.0 C147.4,167.0 153.3,168.8 154.9,167.0 C156.5,165.2 153.9,159.7 153.2,156.0 C152.5,152.3 151.5,148.5 150.8,145.0 C150.0,141.5 149.3,138.5 148.7,135.0 C148.0,131.5 147.2,128.2 146.9,124.0 C146.6,119.8 146.9,115.7 146.9,110.0 C146.9,104.3 146.8,95.8 146.9,90.0 C147.0,84.2 146.9,78.5 147.7,75.0 C148.5,71.5 150.9,70.9 151.7,69.0 C152.4,67.1 153.5,64.7 152.2,63.5 C150.8,62.3 146.5,62.0 143.6,62.0Z" fill="url(#rg_sliceL_29)"/>
<path d="M143.6,146.0 C142.7,146.0 141.6,148.0 141.0,150.0 C140.4,152.0 140.1,154.8 139.8,158.0 C139.5,161.2 138.7,167.6 139.3,169.5 C139.9,171.4 142.2,169.5 143.6,169.5 C145.0,169.5 147.3,171.4 147.9,169.5 C148.5,167.6 147.7,161.2 147.4,158.0 C147.1,154.8 146.8,152.0 146.2,150.0 C145.6,148.0 144.5,146.0 143.6,146.0Z" fill="#dcd4a0"/>
<path id="sliceL_s31" d="M96.0,158.0 C97.5,154.9 102.4,156.1 106.0,156.5 C109.6,156.9 117.0,158.9 117.7,160.2 C118.4,161.4 112.3,162.9 110.0,164.0 C107.7,165.1 104.7,165.3 104.0,167.0 C103.3,168.7 105.0,171.7 106.0,174.0 C107.0,176.3 109.7,178.2 110.0,181.0 C110.3,183.8 109.5,189.3 108.0,191.0 C106.5,192.7 102.8,193.7 101.0,191.0 C99.2,188.3 97.8,180.5 97.0,175.0 C96.2,169.5 94.5,161.1 96.0,158.0Z" fill="url(#rg_sliceL_31)"/>
<use href="#sliceL_s31" transform="translate(287.2,0) scale(-1,1)"/>
<path d="M143.6,169.0 C141.7,169.0 139.8,169.8 138.0,169.5 C136.2,169.2 133.7,168.9 133.0,167.0 C132.3,165.1 133.6,160.5 134.0,158.0 C134.4,155.5 136.0,152.2 135.2,152.0 C134.4,151.8 132.3,155.3 129.4,156.7 C126.5,158.1 120.9,159.0 117.7,160.2 C114.5,161.4 112.3,162.9 110.0,164.0 C107.7,165.1 104.7,165.3 104.0,167.0 C103.3,168.7 105.0,171.7 106.0,174.0 C107.0,176.3 106.1,179.6 110.0,181.0 C113.9,182.4 123.8,182.1 129.4,182.4 C135.0,182.7 138.9,183.0 143.6,183.0 C148.3,183.0 152.2,182.7 157.8,182.4 C163.4,182.1 173.3,182.4 177.2,181.0 C181.1,179.6 180.2,176.3 181.2,174.0 C182.2,171.7 183.9,168.7 183.2,167.0 C182.5,165.3 179.5,165.1 177.2,164.0 C174.9,162.9 172.7,161.4 169.5,160.2 C166.3,159.0 160.7,158.1 157.8,156.7 C154.9,155.3 152.8,151.8 152.0,152.0 C151.2,152.2 152.8,155.5 153.2,158.0 C153.6,160.5 154.9,165.1 154.2,167.0 C153.5,168.9 151.0,169.2 149.2,169.5 C147.4,169.8 145.5,169.0 143.6,169.0Z" fill="url(#rg_sliceL_32)"/>
<ellipse cx="116" cy="154.4" rx="5.4" ry="7" fill="#4e6b5b"/><ellipse cx="171.2" cy="154.4" rx="5.4" ry="7" fill="#4e6b5b"/>
<path d="M143.6,180.5 C138.9,180.5 134.2,181.2 129.4,181.5 C124.6,181.8 118.6,181.9 115.0,182.5 C111.4,183.1 109.2,183.6 108.0,185.0 C106.8,186.4 102.1,190.0 108.0,191.0 C113.9,192.0 131.7,191.0 143.6,191.0 C155.5,191.0 173.3,192.0 179.2,191.0 C185.1,190.0 180.4,186.4 179.2,185.0 C178.0,183.6 175.8,183.1 172.2,182.5 C168.6,181.9 162.6,181.8 157.8,181.5 C153.0,181.2 148.3,180.5 143.6,180.5Z" fill="url(#rg_sliceL_34)"/>
<path d="M139.4,178.3 C140.8,176.2 146.6,176.2 148.0,178.3 C149.4,180.4 149.4,188.9 148.0,191.0 C146.6,193.1 140.8,193.1 139.4,191.0 C138.0,188.9 138.0,180.4 139.4,178.3Z" fill="#4a4560"/>
</g>
<g id="sliceR">
<rect x="0" y="0" width="285" height="190" fill="#a8b5bd"/>
<path id="sliceR_s0" d="M143.0,-1.0 C125.2,-7.8 53.9,-3.2 36.0,-1.0 C18.1,1.2 35.8,8.0 35.7,12.3 C35.7,16.6 35.1,21.4 35.7,24.7 C36.3,28.0 37.1,30.2 39.4,32.0 C41.7,33.8 45.6,34.9 49.3,35.7 C53.0,36.5 56.5,36.8 61.6,37.0 C66.7,37.2 74.4,36.5 80.0,37.0 C85.6,37.5 89.2,37.8 95.0,40.0 C100.8,42.2 109.2,48.3 115.0,50.0 C120.8,51.7 125.3,51.7 130.0,50.0 C134.7,48.3 140.8,48.5 143.0,40.0 C145.2,31.5 160.8,5.8 143.0,-1.0Z" fill="url(#gBlueTop)"/>
<use href="#sliceR_s0" transform="translate(285.0,0) scale(-1,1)"/>
<path d="M122.6,-1.0 C128.9,-2.8 159.0,-2.8 164.9,-1.0 C170.8,0.8 164.3,7.8 158.0,9.5 C151.7,11.2 132.9,11.2 127.0,9.5 C121.1,7.8 116.3,0.8 122.6,-1.0Z" fill="url(#rg_sliceR_1)"/>
<path d="M122.6,-1.0 C129.5,-1.5 158.0,-1.5 164.9,-1.0 C171.8,-0.5 170.9,1.3 164.0,1.8 C157.1,2.3 130.4,2.3 123.5,1.8 C116.6,1.3 115.7,-0.5 122.6,-1.0Z" fill="#b8ad72"/>
<path id="sliceR_s3" d="M-1.0,-1.0 C6.9,-7.3 40.1,-3.2 46.2,-1.0 C52.3,1.2 39.3,8.6 35.7,12.3 C32.1,16.0 27.1,18.7 24.7,21.0 C22.2,23.3 23.1,24.3 21.0,25.9 C18.9,27.5 16.0,28.9 12.3,30.8 C8.6,32.6 1.2,42.3 -1.0,37.0 C-3.2,31.7 -8.9,5.3 -1.0,-1.0Z" fill="url(#gKhakiTL)"/>
<use href="#sliceR_s3" transform="translate(285.0,0) scale(-1,1)"/>
<path id="sliceR_s4" d="M-1.0,37.0 C1.2,25.8 8.6,32.5 12.3,30.8 C16.0,29.2 19.1,26.1 21.0,27.1 C22.9,28.1 22.8,33.3 23.4,37.0 C24.0,40.7 24.9,45.6 24.7,49.3 C24.5,53.0 23.4,56.9 22.2,59.2 C21.0,61.5 19.8,62.7 17.3,62.9 C14.8,63.1 9.5,60.2 7.4,60.4 C5.3,60.6 5.4,59.7 5.0,64.0 C4.6,68.3 5.1,80.3 4.9,86.0 C4.7,91.7 5.0,96.0 4.0,98.0 C3.0,100.0 -0.2,108.2 -1.0,98.0 C-1.8,87.8 -3.2,48.2 -1.0,37.0Z" fill="url(#rg_sliceR_4)"/>
<use href="#sliceR_s4" transform="translate(285.0,0) scale(-1,1)"/>
<path id="sliceR_s5" d="M21.0,25.9 C22.0,23.6 25.9,20.4 28.4,18.5 C30.8,16.6 34.3,13.8 35.7,14.8 C37.1,15.8 37.0,21.6 37.0,24.7 C37.0,27.8 36.7,30.6 35.7,33.3 C34.7,36.0 32.0,37.6 30.8,40.7 C29.6,43.8 29.1,49.5 28.4,51.8 C27.7,54.0 27.1,55.7 26.5,54.2 C25.9,52.8 25.4,46.8 24.7,43.1 C24.0,39.4 22.8,34.9 22.2,32.0 C21.6,29.1 20.0,28.1 21.0,25.9Z" fill="url(#rg_sliceR_5)"/>
<use href="#sliceR_s5" transform="translate(285.0,0) scale(-1,1)"/>
<path id="sliceR_s6" d="M37.0,24.7 C37.8,24.7 38.7,31.2 40.7,33.3 C42.8,35.3 46.2,36.2 49.3,37.0 C52.4,37.8 58.8,36.6 59.2,38.2 C59.6,39.8 53.9,44.1 51.8,46.8 C49.7,49.5 48.6,51.7 46.8,54.2 C44.9,56.7 43.0,60.2 40.7,61.6 C38.5,63.0 35.6,63.5 33.3,62.9 C31.0,62.3 27.9,59.9 27.1,58.0 C26.3,56.1 27.8,54.7 28.4,51.8 C29.0,48.9 29.6,43.8 30.8,40.7 C32.0,37.6 34.7,36.0 35.7,33.3 C36.7,30.6 36.2,24.7 37.0,24.7Z" fill="url(#rg_sliceR_6)"/>
<use href="#sliceR_s6" transform="translate(285.0,0) scale(-1,1)"/>
<path id="sliceR_s7" d="M71.5,38.2 C71.3,38.4 61.7,38.9 58.0,40.7 C54.3,42.6 51.8,46.2 49.3,49.3 C46.8,52.4 45.1,56.3 43.1,59.2 C41.1,62.1 39.0,64.5 37.0,66.6 C35.0,68.6 33.3,71.1 30.8,71.5 C28.3,71.9 24.4,70.2 22.2,69.0 C19.9,67.8 17.3,65.9 17.3,64.1 C17.3,62.3 20.6,59.0 22.2,58.0 C23.8,57.0 25.2,57.2 27.1,58.0 C29.0,58.8 31.0,62.3 33.3,62.9 C35.6,63.5 38.5,63.0 40.7,61.6 C43.0,60.2 44.9,56.7 46.8,54.2 C48.6,51.7 49.7,49.3 51.8,46.8 C53.9,44.3 55.9,40.8 59.2,39.4 C62.5,38.0 71.7,38.0 71.5,38.2Z" fill="url(#rg_sliceR_7)"/>
<use href="#sliceR_s7" transform="translate(285.0,0) scale(-1,1)"/>
<path id="sliceR_s8" d="M21.6,66.6 C21.8,65.4 23.9,64.1 25.9,64.1 C27.8,64.1 32.3,65.4 33.3,66.6 C34.3,67.8 33.4,70.7 32.0,71.5 C30.6,72.3 26.4,72.3 24.7,71.5 C23.0,70.7 21.4,67.8 21.6,66.6Z" fill="#4b5870"/>
<use href="#sliceR_s8" transform="translate(285.0,0) scale(-1,1)"/>
<path id="sliceR_s9" d="M48.0,58.0 C48.6,55.5 49.9,49.7 51.8,46.8 C53.7,43.9 56.3,41.9 59.2,40.7 C62.1,39.5 65.5,39.6 69.0,39.4 C72.5,39.2 76.2,39.3 80.0,39.4 C83.8,39.5 88.7,38.6 92.0,40.0 C95.3,41.4 97.9,44.6 100.0,48.0 C102.1,51.4 104.4,56.7 104.4,60.5 C104.4,64.3 102.4,68.4 100.0,71.0 C97.6,73.6 93.3,75.1 90.0,76.0 C86.7,76.9 83.5,77.4 80.0,76.4 C76.5,75.5 72.5,71.9 69.0,70.3 C65.5,68.7 62.1,67.6 59.2,66.6 C56.3,65.6 53.7,64.9 51.8,64.1 C49.9,63.3 48.6,62.6 48.0,61.6 C47.4,60.6 47.4,60.5 48.0,58.0Z" fill="url(#rg_sliceR_9)"/>
<use href="#sliceR_s9" transform="translate(285.0,0) scale(-1,1)"/>
<path id="sliceR_s10" d="M95.2,26.3 C96.2,25.8 99.3,25.8 102.8,25.7 C106.3,25.6 112.0,26.1 116.0,25.7 C120.0,25.2 124.0,23.8 126.9,23.0 C129.8,22.2 132.4,20.1 133.5,20.8 C134.6,21.5 133.9,24.3 133.5,27.0 C133.1,29.7 132.5,34.6 131.0,37.0 C129.5,39.4 127.6,40.3 124.7,41.6 C121.8,42.9 118.3,44.5 113.8,44.9 C109.2,45.3 101.1,44.9 97.4,43.8 C93.8,42.7 92.1,39.8 91.9,38.3 C91.7,36.8 94.5,36.0 96.0,35.0 C97.5,34.0 100.8,33.0 101.0,32.0 C101.2,31.0 98.0,29.9 97.0,29.0 C96.0,28.1 94.2,26.9 95.2,26.3Z" fill="url(#rg_sliceR_10)"/>
<use href="#sliceR_s10" transform="translate(285.0,0) scale(-1,1)"/>
<path id="sliceR_s11" d="M106.5,38.5 C106.0,37.8 110.1,34.3 112.0,33.0 C113.9,31.7 116.2,31.1 118.0,30.5 C119.8,29.9 121.9,29.2 123.0,29.5 C124.1,29.8 124.6,30.9 124.5,32.0 C124.4,33.1 124.2,35.1 122.6,36.0 C121.0,36.9 117.7,37.1 115.0,37.5 C112.3,37.9 107.0,39.2 106.5,38.5Z" fill="#dfd8a2"/>
<use href="#sliceR_s11" transform="translate(285.0,0) scale(-1,1)"/>
<path id="sliceR_s12" d="M85.3,18.6 C85.1,17.0 85.7,14.4 88.6,13.7 C91.5,13.0 97.7,13.8 102.8,14.2 C107.9,14.6 114.5,15.5 119.3,15.9 C124.0,16.3 128.6,17.0 131.3,16.4 C134.0,15.7 134.2,13.1 135.7,12.0 C137.1,10.9 138.7,10.4 140.0,9.9 C141.3,9.4 142.9,8.3 143.5,9.0 C144.1,9.7 143.7,13.1 143.5,14.0 C143.3,14.9 142.9,13.2 142.3,14.2 C141.7,15.1 140.9,18.7 140.0,19.7 C139.1,20.7 138.1,19.8 137.0,20.0 C135.9,20.2 135.2,20.3 133.5,20.8 C131.8,21.3 129.8,22.2 126.9,23.0 C124.0,23.8 120.0,25.2 116.0,25.7 C112.0,26.1 107.2,26.1 102.8,25.7 C98.4,25.3 92.6,24.7 89.7,23.5 C86.8,22.3 85.5,20.2 85.3,18.6Z" fill="url(#rg_sliceR_12)"/>
<use href="#sliceR_s12" transform="translate(285.0,0) scale(-1,1)"/>
<path id="sliceR_s13" d="M89.7,39.4 C90.6,39.2 94.9,41.7 97.4,42.5 C100.0,43.3 102.3,43.6 105.0,44.0 C107.7,44.4 110.5,45.3 113.8,44.9 C117.1,44.5 121.8,42.9 124.7,41.6 C127.6,40.3 129.5,39.4 131.0,37.0 C132.5,34.6 133.0,29.7 133.5,27.0 C134.0,24.3 133.4,22.0 134.0,20.8 C134.6,19.6 136.0,20.2 137.0,20.0 C138.0,19.8 139.1,20.7 140.0,19.7 C140.9,18.7 141.7,15.1 142.3,14.2 C142.9,13.2 143.3,13.0 143.5,14.0 C143.7,15.0 144.1,18.7 143.5,20.0 C142.9,21.3 140.9,20.8 140.0,22.0 C139.1,23.2 138.6,25.0 137.9,27.4 C137.2,29.8 137.0,33.0 135.7,36.1 C134.4,39.2 132.4,43.6 130.2,46.0 C128.0,48.4 125.3,49.5 122.6,50.4 C119.9,51.3 117.4,51.9 113.8,51.5 C110.2,51.1 104.3,49.5 100.7,48.2 C97.1,46.9 93.8,45.0 92.0,43.5 C90.2,42.0 88.8,39.6 89.7,39.4Z" fill="url(#rg_sliceR_13)"/>
<use href="#sliceR_s13" transform="translate(285.0,0) scale(-1,1)"/>
<path d="M142.5,18.0 C141.3,18.0 140.1,20.2 139.0,21.9 C137.9,23.6 136.8,25.6 136.0,28.0 C135.2,30.4 134.3,33.7 134.2,36.5 C134.1,39.3 135.0,42.6 135.5,45.0 C136.0,47.4 136.7,48.5 137.2,51.0 C137.7,53.5 138.1,57.7 138.6,60.0 C139.1,62.3 139.3,64.0 140.0,65.0 C140.7,66.0 141.7,66.0 142.5,66.0 C143.3,66.0 144.3,66.0 145.0,65.0 C145.7,64.0 145.9,62.3 146.4,60.0 C146.9,57.7 147.3,53.5 147.8,51.0 C148.3,48.5 149.0,47.4 149.5,45.0 C150.0,42.6 150.9,39.3 150.8,36.5 C150.7,33.7 149.8,30.4 149.0,28.0 C148.2,25.6 147.1,23.6 146.0,21.9 C144.9,20.2 143.7,18.0 142.5,18.0Z" fill="url(#rg_sliceR_14)"/>
<path id="sliceR_s15" d="M127.0,40.9 C128.0,40.3 131.4,47.5 132.8,48.2 C134.2,48.9 134.8,44.5 135.5,45.0 C136.2,45.5 136.7,48.5 137.2,51.0 C137.7,53.5 138.6,57.8 138.6,60.0 C138.6,62.2 138.5,63.9 137.2,64.2 C135.9,64.5 132.7,64.0 131.0,62.0 C129.3,60.0 127.7,55.5 127.0,52.0 C126.3,48.5 126.0,41.5 127.0,40.9Z" fill="url(#rg_sliceR_15)"/>
<use href="#sliceR_s15" transform="translate(285.0,0) scale(-1,1)"/>
<path id="sliceR_s16" d="M106.5,52.6 C107.6,51.2 111.3,51.2 113.0,51.8 C114.7,52.4 116.9,54.2 116.7,56.0 C116.5,57.8 113.7,62.1 112.0,62.8 C110.3,63.5 107.4,61.7 106.5,60.0 C105.6,58.3 105.4,54.0 106.5,52.6Z" fill="#7f9a80"/>
<use href="#sliceR_s16" transform="translate(285.0,0) scale(-1,1)"/>
<path id="sliceR_s17" d="M112.3,58.0 C113.5,55.9 117.4,55.7 120.0,55.5 C122.6,55.3 125.8,55.9 128.0,57.0 C130.2,58.1 132.0,59.8 133.0,62.0 C134.0,64.2 134.5,67.7 134.0,70.0 C133.5,72.3 132.3,75.1 130.0,75.9 C127.7,76.7 122.8,76.3 120.0,75.0 C117.2,73.7 114.3,70.8 113.0,68.0 C111.7,65.2 111.1,60.1 112.3,58.0Z" fill="url(#rg_sliceR_17)"/>
<use href="#sliceR_s17" transform="translate(285.0,0) scale(-1,1)"/>
<path id="sliceR_s18" d="M100.0,48.0 C101.1,46.5 104.5,51.0 106.5,53.0 C108.5,55.0 111.1,57.5 112.0,60.0 C112.9,62.5 112.3,64.7 112.0,68.0 C111.7,71.3 110.7,75.5 110.0,80.0 C109.3,84.5 109.0,91.0 108.0,95.0 C107.0,99.0 105.7,103.2 104.0,104.0 C102.3,104.8 99.3,102.3 98.0,100.0 C96.7,97.7 96.2,94.2 96.0,90.0 C95.8,85.8 96.3,79.7 97.0,75.0 C97.7,70.3 99.5,66.5 100.0,62.0 C100.5,57.5 98.9,49.5 100.0,48.0Z" fill="url(#rg_sliceR_18)"/>
<use href="#sliceR_s18" transform="translate(285.0,0) scale(-1,1)"/>
<path id="sliceR_s19" d="M4.9,62.9 C6.1,58.6 10.2,60.2 12.3,60.4 C14.4,60.6 15.7,62.7 17.3,64.1 C18.9,65.5 19.8,67.3 22.2,69.0 C24.6,70.7 30.6,71.0 31.5,74.0 C32.4,77.0 28.4,83.0 27.5,87.3 C26.6,91.6 25.6,95.0 26.0,99.7 C26.4,104.4 28.2,111.2 30.0,115.7 C31.8,120.2 33.8,123.5 37.0,126.8 C40.2,130.1 45.2,132.5 49.3,135.4 C53.4,138.3 58.3,141.3 61.6,144.0 C64.9,146.7 66.9,148.5 69.0,151.4 C71.1,154.3 72.8,158.4 74.0,161.3 C75.2,164.2 76.4,166.2 76.4,168.7 C76.4,171.1 75.2,176.0 74.0,176.0 C72.8,176.0 70.5,171.6 69.0,168.7 C67.5,165.8 67.5,162.1 65.3,158.8 C63.0,155.5 59.2,151.5 55.5,149.0 C51.8,146.5 47.0,146.1 43.1,144.0 C39.2,141.9 35.1,139.5 32.0,136.6 C28.9,133.7 26.9,130.9 24.7,126.8 C22.4,122.7 20.6,115.5 18.5,112.0 C16.4,108.5 14.2,108.2 12.3,106.0 C10.5,103.8 8.6,101.9 7.4,98.6 C6.2,95.3 5.3,92.2 4.9,86.3 C4.5,80.3 3.7,67.2 4.9,62.9Z" fill="url(#rg_sliceR_19)"/>
<use href="#sliceR_s19" transform="translate(285.0,0) scale(-1,1)"/>
<path id="sliceR_s20" d="M30.8,74.0 C32.4,70.5 35.0,68.2 37.0,66.6 C39.0,64.9 41.1,64.7 43.1,64.1 C45.1,63.5 47.8,62.1 49.3,62.9 C50.8,63.7 52.6,67.4 51.8,69.0 C51.0,70.6 46.9,71.0 44.4,72.7 C41.9,74.4 38.6,76.6 37.0,78.9 C35.4,81.2 34.9,83.0 34.5,86.3 C34.1,89.6 34.3,94.9 34.5,98.6 C34.7,102.3 34.7,104.6 35.7,108.5 C36.7,112.4 38.0,117.7 40.7,121.8 C43.4,125.9 48.1,129.9 51.8,133.0 C55.5,136.1 59.6,137.9 62.9,140.3 C66.2,142.8 68.7,146.2 71.5,147.7 C74.3,149.1 80.4,148.4 80.0,149.0 C79.6,149.6 72.1,152.2 69.0,151.4 C65.9,150.6 64.9,146.7 61.6,144.0 C58.3,141.3 53.4,138.3 49.3,135.4 C45.2,132.5 40.2,130.1 37.0,126.8 C33.8,123.5 31.8,120.2 30.0,115.7 C28.2,111.2 26.4,104.4 26.0,99.7 C25.6,95.0 26.7,91.6 27.5,87.3 C28.3,83.0 29.2,77.5 30.8,74.0Z" fill="url(#rg_sliceR_20)"/>
<use href="#sliceR_s20" transform="translate(285.0,0) scale(-1,1)"/>
<path id="sliceR_s21" d="M40.7,74.0 C43.2,70.7 46.2,67.8 49.3,66.6 C52.4,65.4 55.9,66.0 59.2,66.6 C62.5,67.2 65.5,68.7 69.0,70.3 C72.5,71.9 75.8,74.9 80.0,76.4 C84.2,77.9 90.0,77.9 94.0,79.3 C98.0,80.7 101.6,82.4 104.0,85.0 C106.4,87.6 107.5,90.8 108.6,95.0 C109.7,99.2 110.7,105.0 110.6,110.0 C110.5,115.0 109.7,120.4 108.0,125.0 C106.3,129.6 104.3,134.6 100.2,137.8 C96.1,141.0 88.3,142.3 83.5,144.0 C78.7,145.7 74.9,148.3 71.5,147.7 C68.1,147.1 66.2,142.8 62.9,140.3 C59.6,137.9 55.5,136.1 51.8,133.0 C48.1,129.9 43.4,125.9 40.7,121.8 C38.0,117.7 36.7,112.4 35.7,108.5 C34.7,104.6 34.7,102.3 34.5,98.6 C34.3,94.9 33.5,90.4 34.5,86.3 C35.5,82.2 38.2,77.3 40.7,74.0Z" fill="url(#rg_sliceR_21)" stroke="#c9c08a" stroke-width="0.8"/>
<use href="#sliceR_s21" transform="translate(285.0,0) scale(-1,1)"/>
<path id="sliceR_s22" d="M88.1,84.2 C81.9,80.1 71.0,75.1 66.0,74.9 C61.0,74.7 56.4,78.0 57.8,83.0 C59.1,88.0 68.5,99.5 74.1,105.2 C79.7,110.9 85.2,114.6 91.6,116.9 C98.0,119.2 108.8,119.8 112.7,119.2 C116.6,118.6 116.6,116.7 115.0,113.4 C113.4,110.1 107.8,104.3 103.3,99.4 C98.8,94.5 94.3,88.3 88.1,84.2Z" fill="url(#rg_sliceR_22)"/>
<use href="#sliceR_s22" transform="translate(285.0,0) scale(-1,1)"/>
<path id="sliceR_s23" d="M3.7,99.7 C4.7,95.6 6.5,95.6 8.6,97.2 C10.7,98.8 13.7,104.6 16.0,109.5 C18.3,114.4 21.0,121.9 22.2,126.8 C23.4,131.7 23.8,135.7 23.4,139.0 C23.0,142.3 21.5,145.1 19.7,146.5 C17.9,147.9 14.8,149.3 12.3,147.7 C9.8,146.0 6.5,140.9 4.9,136.6 C3.3,132.3 2.7,127.9 2.5,121.8 C2.3,115.7 2.7,103.8 3.7,99.7Z" fill="url(#rg_sliceR_23)"/>
<use href="#sliceR_s23" transform="translate(285.0,0) scale(-1,1)"/>
<path id="sliceR_s24" d="M-1.0,140.0 C-0.0,130.9 2.7,135.3 4.9,136.6 C7.1,137.9 9.8,146.0 12.3,147.7 C14.8,149.3 17.6,144.2 19.7,146.5 C21.8,148.8 22.2,157.2 24.7,161.3 C27.2,165.4 31.2,168.2 34.5,171.1 C37.8,174.0 41.5,177.3 44.4,178.5 C47.3,179.7 48.9,178.1 51.8,178.5 C54.7,178.9 60.2,178.9 61.6,181.0 C63.0,183.1 70.4,189.3 60.0,191.0 C49.6,192.7 9.2,199.5 -1.0,191.0 C-11.2,182.5 -2.0,149.1 -1.0,140.0Z" fill="url(#rg_sliceR_24)"/>
<use href="#sliceR_s24" transform="translate(285.0,0) scale(-1,1)"/>
<path id="sliceR_s25" d="M19.7,149.0 C19.7,146.9 22.8,147.4 24.7,149.0 C26.6,150.6 28.8,155.9 30.8,158.8 C32.9,161.7 34.3,163.7 37.0,166.2 C39.7,168.7 45.6,171.5 46.8,173.6 C48.0,175.7 46.4,178.9 44.4,178.5 C42.4,178.1 37.8,174.0 34.5,171.1 C31.2,168.2 27.2,165.0 24.7,161.3 C22.2,157.6 19.7,151.1 19.7,149.0Z" fill="url(#rg_sliceR_25)"/>
<use href="#sliceR_s25" transform="translate(285.0,0) scale(-1,1)"/>
<path id="sliceR_s26" d="M24.7,134.2 C26.3,132.1 30.4,134.5 34.5,136.6 C38.6,138.7 45.2,143.6 49.3,146.5 C53.4,149.4 56.3,151.0 59.2,153.9 C62.1,156.8 65.8,160.7 66.6,163.8 C67.4,166.9 66.2,170.8 64.1,172.4 C62.0,174.0 57.9,174.2 54.2,173.6 C50.5,173.0 45.8,171.2 41.9,168.7 C38.0,166.2 33.7,162.1 30.8,158.8 C27.9,155.5 25.7,153.1 24.7,149.0 C23.7,144.9 23.1,136.3 24.7,134.2Z" fill="url(#rg_sliceR_26)"/>
<use href="#sliceR_s26" transform="translate(285.0,0) scale(-1,1)"/>
<path id="sliceR_s27" d="M51.8,173.6 C54.3,172.4 62.9,171.1 66.6,171.1 C70.3,171.1 72.8,171.9 74.0,173.6 C75.2,175.2 76.1,179.8 74.0,181.0 C71.9,182.2 65.3,181.4 61.6,181.0 C57.9,180.6 53.4,179.7 51.8,178.5 C50.2,177.3 49.3,174.8 51.8,173.6Z" fill="#677f60"/>
<use href="#sliceR_s27" transform="translate(285.0,0) scale(-1,1)"/>
<path id="sliceR_s28" d="M61.6,139.0 C63.4,137.8 73.6,144.2 80.0,144.0 C86.4,143.8 94.8,141.3 100.0,138.0 C105.2,134.7 105.5,126.3 111.5,124.0 C117.5,121.7 131.9,121.0 136.0,124.0 C140.1,127.0 138.7,137.7 136.0,142.0 C133.3,146.3 124.0,147.0 120.0,150.0 C116.0,153.0 115.3,157.5 112.0,160.0 C108.7,162.5 105.3,164.8 100.0,165.0 C94.7,165.2 84.8,162.3 80.0,161.3 C75.2,160.3 73.3,160.5 71.5,158.8 C69.7,157.2 70.7,154.7 69.0,151.4 C67.3,148.1 59.8,140.2 61.6,139.0Z" fill="url(#rg_sliceR_28)"/>
<use href="#sliceR_s28" transform="translate(285.0,0) scale(-1,1)"/>
<path id="sliceR_s29" d="M109.8,125.0 C112.1,122.4 118.3,122.1 122.0,122.3 C125.7,122.5 129.7,123.9 132.0,126.0 C134.3,128.1 135.7,131.0 136.0,135.0 C136.3,139.0 135.0,146.3 134.0,150.0 C133.0,153.7 132.7,156.1 130.0,157.3 C127.3,158.5 121.2,158.2 118.0,157.0 C114.8,155.8 112.7,153.2 111.0,150.0 C109.3,146.8 108.2,142.2 108.0,138.0 C107.8,133.8 107.5,127.6 109.8,125.0Z" fill="url(#rg_sliceR_29)"/>
<use href="#sliceR_s29" transform="translate(285.0,0) scale(-1,1)"/>
<path id="sliceR_s30" d="M112.0,104.0 C114.8,103.2 120.8,107.7 125.0,109.0 C129.2,110.3 135.0,109.5 137.0,112.0 C139.0,114.5 139.0,122.0 137.0,124.0 C135.0,126.0 129.0,124.5 125.0,124.0 C121.0,123.5 115.8,122.7 113.0,121.0 C110.2,119.3 108.2,116.8 108.0,114.0 C107.8,111.2 109.2,104.8 112.0,104.0Z" fill="url(#rg_sliceR_30)"/>
<use href="#sliceR_s30" transform="translate(285.0,0) scale(-1,1)"/>
<path d="M142.5,62.0 C139.7,62.0 135.5,62.5 134.2,64.2 C132.9,65.9 133.9,69.4 134.5,72.0 C135.1,74.6 137.2,76.2 137.8,80.0 C138.4,83.8 137.8,90.0 137.8,95.0 C137.8,100.0 137.9,105.8 137.8,110.0 C137.7,114.2 138.0,117.2 137.0,120.0 C136.0,122.8 133.0,123.4 132.0,127.0 C131.0,130.6 130.7,136.9 130.8,141.6 C130.9,146.3 132.3,150.3 132.6,155.0 C132.9,159.7 130.9,167.5 132.6,170.0 C134.2,172.5 139.2,170.0 142.5,170.0 C145.8,170.0 150.8,172.5 152.4,170.0 C154.1,167.5 152.1,159.7 152.4,155.0 C152.7,150.3 154.1,146.3 154.2,141.6 C154.3,136.9 154.0,130.6 153.0,127.0 C152.0,123.4 149.0,122.8 148.0,120.0 C147.0,117.2 147.3,114.2 147.2,110.0 C147.1,105.8 147.2,100.0 147.2,95.0 C147.2,90.0 146.6,83.8 147.2,80.0 C147.8,76.2 149.9,74.6 150.5,72.0 C151.1,69.4 152.1,65.9 150.8,64.2 C149.5,62.5 145.3,62.0 142.5,62.0Z" fill="url(#rg_sliceR_31)"/>
<path d="M142.5,143.3 C141.7,143.3 140.7,148.9 140.0,152.0 C139.3,155.1 138.9,159.0 138.5,162.0 C138.1,165.0 137.1,168.7 137.8,170.0 C138.5,171.3 140.9,170.0 142.5,170.0 C144.1,170.0 146.5,171.3 147.2,170.0 C147.9,168.7 146.9,165.0 146.5,162.0 C146.1,159.0 145.7,155.1 145.0,152.0 C144.3,148.9 143.3,143.3 142.5,143.3Z" fill="url(#rg_sliceR_32)"/>
<path id="sliceR_s33" d="M113.3,152.0 C114.8,149.7 118.8,150.6 122.0,150.0 C125.2,149.4 130.6,146.9 132.6,148.6 C134.6,150.3 133.9,156.8 134.0,160.0 C134.1,163.2 135.3,166.7 133.0,168.0 C130.7,169.3 123.3,168.7 120.0,168.0 C116.7,167.3 114.4,166.7 113.3,164.0 C112.2,161.3 111.8,154.3 113.3,152.0Z" fill="url(#rg_sliceR_33)"/>
<use href="#sliceR_s33" transform="translate(285.0,0) scale(-1,1)"/>
<circle cx="117" cy="147.6" r="6.2" fill="#4f6e5d"/><circle cx="168.0" cy="147.6" r="6.2" fill="#4f6e5d"/>
<path id="sliceR_s35" d="M69.0,161.3 C71.7,157.6 76.5,161.0 80.0,161.3 C83.5,161.6 87.7,161.6 90.0,163.0 C92.3,164.4 93.3,165.3 94.0,170.0 C94.7,174.7 99.8,187.5 94.0,191.0 C88.2,194.5 64.2,192.2 59.2,191.0 C54.2,189.8 62.5,188.4 64.1,183.5 C65.7,178.6 66.3,165.0 69.0,161.3Z" fill="url(#rg_sliceR_35)"/>
<use href="#sliceR_s35" transform="translate(285.0,0) scale(-1,1)"/>
<path d="M142.5,165.0 C135.0,165.0 127.1,165.8 120.0,166.0 C112.9,166.2 105.0,165.7 100.0,166.0 C95.0,166.3 91.3,166.8 90.0,168.0 C88.7,169.2 88.7,172.3 92.0,173.0 C95.3,173.7 103.7,172.3 110.0,172.0 C116.3,171.7 124.6,171.2 130.0,171.0 C135.4,170.8 138.3,171.0 142.5,171.0 C146.7,171.0 149.6,170.8 155.0,171.0 C160.4,171.2 168.7,171.7 175.0,172.0 C181.3,172.3 189.7,173.7 193.0,173.0 C196.3,172.3 196.3,169.2 195.0,168.0 C193.7,166.8 190.0,166.3 185.0,166.0 C180.0,165.7 172.1,166.2 165.0,166.0 C157.9,165.8 150.0,165.0 142.5,165.0Z" fill="url(#rg_sliceR_36)"/>
<path d="M142.5,170.0 C128.3,170.0 108.1,171.0 100.0,172.0 C91.9,173.0 95.0,174.3 94.0,176.0 C93.0,177.7 91.3,181.0 94.0,182.0 C96.7,183.0 101.9,182.0 110.0,182.0 C118.1,182.0 131.7,182.0 142.5,182.0 C153.3,182.0 166.9,182.0 175.0,182.0 C183.1,182.0 188.3,183.0 191.0,182.0 C193.7,181.0 192.0,177.7 191.0,176.0 C190.0,174.3 193.1,173.0 185.0,172.0 C176.9,171.0 156.7,170.0 142.5,170.0Z" fill="url(#rg_sliceR_37)"/>
<path d="M142.5,184.0 C138.3,184.0 134.6,179.8 130.0,179.0 C125.4,178.2 120.0,178.5 115.0,179.0 C110.0,179.5 102.9,180.0 100.0,182.0 C97.1,184.0 90.4,189.5 97.5,191.0 C104.6,192.5 127.5,191.0 142.5,191.0 C157.5,191.0 180.4,192.5 187.5,191.0 C194.6,189.5 187.9,184.0 185.0,182.0 C182.1,180.0 175.0,179.5 170.0,179.0 C165.0,178.5 159.6,178.2 155.0,179.0 C150.4,179.8 146.7,184.0 142.5,184.0Z" fill="url(#rg_sliceR_38)"/>
<path d="M140.4,175.0 C141.1,172.3 144.1,172.3 144.8,175.0 C145.5,177.7 145.5,188.3 144.8,191.0 C144.1,193.7 141.1,193.7 140.4,191.0 C139.7,188.3 139.7,177.7 140.4,175.0Z" fill="#4a4560"/>
</g>
<radialGradient id="rg_sliceL_3" cx="0.5" cy="0.45" r="0.62"><stop offset="0" stop-color="#5c5068"/><stop offset="0.65" stop-color="#52455e"/><stop offset="1" stop-color="#4a3e55"/></radialGradient>
<radialGradient id="rg_sliceL_4" cx="0.5" cy="0.45" r="0.62"><stop offset="0" stop-color="#90aea1"/><stop offset="0.65" stop-color="#89a99b"/><stop offset="1" stop-color="#7b988c"/></radialGradient>
<radialGradient id="rg_sliceL_5" cx="0.5" cy="0.45" r="0.62"><stop offset="0" stop-color="#567b71"/><stop offset="0.65" stop-color="#4b7368"/><stop offset="1" stop-color="#44685e"/></radialGradient>
<radialGradient id="rg_sliceL_6" cx="0.5" cy="0.45" r="0.62"><stop offset="0" stop-color="#aaa56d"/><stop offset="0.65" stop-color="#a59f64"/><stop offset="1" stop-color="#948f5a"/></radialGradient>
<radialGradient id="rg_sliceL_8" cx="0.5" cy="0.45" r="0.62"><stop offset="0" stop-color="#b1aabf"/><stop offset="0.65" stop-color="#aca5bb"/><stop offset="1" stop-color="#9b94a8"/></radialGradient>
<radialGradient id="rg_sliceL_10" cx="0.5" cy="0.45" r="0.62"><stop offset="0" stop-color="#82a299"/><stop offset="0.65" stop-color="#7a9c92"/><stop offset="1" stop-color="#6e8c83"/></radialGradient>
<radialGradient id="rg_sliceL_11" cx="0.5" cy="0.45" r="0.62"><stop offset="0" stop-color="#e1daa8"/><stop offset="0.65" stop-color="#dfd8a2"/><stop offset="1" stop-color="#c9c292"/></radialGradient>
<radialGradient id="rg_sliceL_12" cx="0.5" cy="0.45" r="0.62"><stop offset="0" stop-color="#e1daa8"/><stop offset="0.65" stop-color="#dfd8a2"/><stop offset="1" stop-color="#c9c292"/></radialGradient>
<radialGradient id="rg_sliceL_13" cx="0.5" cy="0.45" r="0.62"><stop offset="0" stop-color="#e1daa8"/><stop offset="0.65" stop-color="#dfd8a2"/><stop offset="1" stop-color="#c9c292"/></radialGradient>
<radialGradient id="rg_sliceL_14" cx="0.5" cy="0.45" r="0.62"><stop offset="0" stop-color="#564b67"/><stop offset="0.65" stop-color="#4b3f5d"/><stop offset="1" stop-color="#443954"/></radialGradient>
<radialGradient id="rg_sliceL_15" cx="0.5" cy="0.45" r="0.62"><stop offset="0" stop-color="#789d96"/><stop offset="0.65" stop-color="#6f978f"/><stop offset="1" stop-color="#648881"/></radialGradient>
<radialGradient id="rg_sliceL_16" cx="0.5" cy="0.45" r="0.62"><stop offset="0" stop-color="#a29ab2"/><stop offset="0.65" stop-color="#9c94ad"/><stop offset="1" stop-color="#8c859c"/></radialGradient>
<radialGradient id="rg_sliceL_17" cx="0.5" cy="0.45" r="0.62"><stop offset="0" stop-color="#96b7a9"/><stop offset="0.65" stop-color="#8fb2a3"/><stop offset="1" stop-color="#81a093"/></radialGradient>
<radialGradient id="rg_sliceL_18" cx="0.5" cy="0.45" r="0.62"><stop offset="0" stop-color="#dad3a1"/><stop offset="0.65" stop-color="#d8d09b"/><stop offset="1" stop-color="#c2bb8c"/></radialGradient>
<radialGradient id="rg_sliceL_19" cx="0.5" cy="0.45" r="0.62"><stop offset="0" stop-color="#5a4d63"/><stop offset="0.65" stop-color="#4f4259"/><stop offset="1" stop-color="#473b50"/></radialGradient>
<radialGradient id="rg_sliceL_20" cx="0.5" cy="0.45" r="0.62"><stop offset="0" stop-color="#9ba4b6"/><stop offset="0.65" stop-color="#959eb1"/><stop offset="1" stop-color="#868e9f"/></radialGradient>
<radialGradient id="rg_sliceL_21" cx="0.5" cy="0.45" r="0.62"><stop offset="0" stop-color="#adcaba"/><stop offset="0.65" stop-color="#a8c7b6"/><stop offset="1" stop-color="#97b3a4"/></radialGradient>
<radialGradient id="rg_sliceL_22" cx="0.5" cy="0.45" r="0.62"><stop offset="0" stop-color="#a9a46f"/><stop offset="0.65" stop-color="#a49e66"/><stop offset="1" stop-color="#948e5c"/></radialGradient>
<radialGradient id="rg_sliceL_23" cx="0.5" cy="0.45" r="0.62"><stop offset="0" stop-color="#a9c9c0"/><stop offset="0.65" stop-color="#a3c6bc"/><stop offset="1" stop-color="#93b2a9"/></radialGradient>
<radialGradient id="rg_sliceL_24" cx="0.5" cy="0.45" r="0.62"><stop offset="0" stop-color="#97a3b7"/><stop offset="0.65" stop-color="#909db2"/><stop offset="1" stop-color="#828da0"/></radialGradient>
<radialGradient id="rg_sliceL_25" cx="0.5" cy="0.45" r="0.62"><stop offset="0" stop-color="#a8a26c"/><stop offset="0.65" stop-color="#a29c63"/><stop offset="1" stop-color="#928c59"/></radialGradient>
<radialGradient id="rg_sliceL_26" cx="0.5" cy="0.45" r="0.62"><stop offset="0" stop-color="#6f876a"/><stop offset="0.65" stop-color="#667f60"/><stop offset="1" stop-color="#5c7256"/></radialGradient>
<radialGradient id="rg_sliceL_27" cx="0.5" cy="0.45" r="0.62"><stop offset="0" stop-color="#a5c0b0"/><stop offset="0.65" stop-color="#9fbcab"/><stop offset="1" stop-color="#8fa99a"/></radialGradient>
<radialGradient id="rg_sliceL_28" cx="0.5" cy="0.45" r="0.62"><stop offset="0" stop-color="#918ea6"/><stop offset="0.65" stop-color="#8a87a0"/><stop offset="1" stop-color="#7c7a90"/></radialGradient>
<radialGradient id="rg_sliceL_29" cx="0.5" cy="0.45" r="0.62"><stop offset="0" stop-color="#aba1b9"/><stop offset="0.65" stop-color="#a69bb5"/><stop offset="1" stop-color="#958ca3"/></radialGradient>
<radialGradient id="rg_sliceL_31" cx="0.5" cy="0.45" r="0.62"><stop offset="0" stop-color="#aec8b0"/><stop offset="0.65" stop-color="#a9c5ab"/><stop offset="1" stop-color="#98b19a"/></radialGradient>
<radialGradient id="rg_sliceL_32" cx="0.5" cy="0.45" r="0.62"><stop offset="0" stop-color="#dcd5a3"/><stop offset="0.65" stop-color="#dad29d"/><stop offset="1" stop-color="#c4bd8d"/></radialGradient>
<radialGradient id="rg_sliceL_34" cx="0.5" cy="0.45" r="0.62"><stop offset="0" stop-color="#b7ccb8"/><stop offset="0.65" stop-color="#b2c9b4"/><stop offset="1" stop-color="#a0b5a2"/></radialGradient>
<radialGradient id="rg_sliceR_1" cx="0.5" cy="0.45" r="0.62"><stop offset="0" stop-color="#517274"/><stop offset="0.65" stop-color="#46696b"/><stop offset="1" stop-color="#3f5e60"/></radialGradient>
<radialGradient id="rg_sliceR_4" cx="0.5" cy="0.45" r="0.62"><stop offset="0" stop-color="#8fb0a5"/><stop offset="0.65" stop-color="#88ab9f"/><stop offset="1" stop-color="#7a9a8f"/></radialGradient>
<radialGradient id="rg_sliceR_5" cx="0.5" cy="0.45" r="0.62"><stop offset="0" stop-color="#62556c"/><stop offset="0.65" stop-color="#584a63"/><stop offset="1" stop-color="#4f4359"/></radialGradient>
<radialGradient id="rg_sliceR_6" cx="0.5" cy="0.45" r="0.62"><stop offset="0" stop-color="#567b71"/><stop offset="0.65" stop-color="#4b7368"/><stop offset="1" stop-color="#44685e"/></radialGradient>
<radialGradient id="rg_sliceR_7" cx="0.5" cy="0.45" r="0.62"><stop offset="0" stop-color="#aaa56d"/><stop offset="0.65" stop-color="#a59f64"/><stop offset="1" stop-color="#948f5a"/></radialGradient>
<radialGradient id="rg_sliceR_9" cx="0.5" cy="0.45" r="0.62"><stop offset="0" stop-color="#b1aabf"/><stop offset="0.65" stop-color="#aca5bb"/><stop offset="1" stop-color="#9b94a8"/></radialGradient>
<radialGradient id="rg_sliceR_10" cx="0.5" cy="0.45" r="0.62"><stop offset="0" stop-color="#7ba097"/><stop offset="0.65" stop-color="#739a90"/><stop offset="1" stop-color="#688b82"/></radialGradient>
<radialGradient id="rg_sliceR_12" cx="0.5" cy="0.45" r="0.62"><stop offset="0" stop-color="#e1daa8"/><stop offset="0.65" stop-color="#dfd8a2"/><stop offset="1" stop-color="#c9c292"/></radialGradient>
<radialGradient id="rg_sliceR_13" cx="0.5" cy="0.45" r="0.62"><stop offset="0" stop-color="#e1daa8"/><stop offset="0.65" stop-color="#dfd8a2"/><stop offset="1" stop-color="#c9c292"/></radialGradient>
<radialGradient id="rg_sliceR_14" cx="0.5" cy="0.45" r="0.62"><stop offset="0" stop-color="#584d6b"/><stop offset="0.65" stop-color="#4d4262"/><stop offset="1" stop-color="#453b58"/></radialGradient>
<radialGradient id="rg_sliceR_15" cx="0.5" cy="0.45" r="0.62"><stop offset="0" stop-color="#789c93"/><stop offset="0.65" stop-color="#6f968c"/><stop offset="1" stop-color="#64877e"/></radialGradient>
<radialGradient id="rg_sliceR_17" cx="0.5" cy="0.45" r="0.62"><stop offset="0" stop-color="#aba4ba"/><stop offset="0.65" stop-color="#a69eb6"/><stop offset="1" stop-color="#958ea4"/></radialGradient>
<radialGradient id="rg_sliceR_18" cx="0.5" cy="0.45" r="0.62"><stop offset="0" stop-color="#97b8aa"/><stop offset="0.65" stop-color="#90b3a5"/><stop offset="1" stop-color="#82a194"/></radialGradient>
<radialGradient id="rg_sliceR_19" cx="0.5" cy="0.45" r="0.62"><stop offset="0" stop-color="#584b62"/><stop offset="0.65" stop-color="#4d4058"/><stop offset="1" stop-color="#453a4f"/></radialGradient>
<radialGradient id="rg_sliceR_20" cx="0.5" cy="0.45" r="0.62"><stop offset="0" stop-color="#9ba4b6"/><stop offset="0.65" stop-color="#959eb1"/><stop offset="1" stop-color="#868e9f"/></radialGradient>
<radialGradient id="rg_sliceR_21" cx="0.5" cy="0.45" r="0.62"><stop offset="0" stop-color="#aecabb"/><stop offset="0.65" stop-color="#a9c7b7"/><stop offset="1" stop-color="#98b3a5"/></radialGradient>
<radialGradient id="rg_sliceR_22" cx="0.5" cy="0.45" r="0.62"><stop offset="0" stop-color="#d6d0a4"/><stop offset="0.65" stop-color="#d3cd9e"/><stop offset="1" stop-color="#beb88e"/></radialGradient>
<radialGradient id="rg_sliceR_23" cx="0.5" cy="0.45" r="0.62"><stop offset="0" stop-color="#aba670"/><stop offset="0.65" stop-color="#a6a067"/><stop offset="1" stop-color="#95905d"/></radialGradient>
<radialGradient id="rg_sliceR_24" cx="0.5" cy="0.45" r="0.62"><stop offset="0" stop-color="#a9cbc3"/><stop offset="0.65" stop-color="#a4c8bf"/><stop offset="1" stop-color="#94b4ac"/></radialGradient>
<radialGradient id="rg_sliceR_25" cx="0.5" cy="0.45" r="0.62"><stop offset="0" stop-color="#96a2b7"/><stop offset="0.65" stop-color="#8f9cb2"/><stop offset="1" stop-color="#818ca0"/></radialGradient>
<radialGradient id="rg_sliceR_26" cx="0.5" cy="0.45" r="0.62"><stop offset="0" stop-color="#a9a36d"/><stop offset="0.65" stop-color="#a39d64"/><stop offset="1" stop-color="#938d5a"/></radialGradient>
<radialGradient id="rg_sliceR_28" cx="0.5" cy="0.45" r="0.62"><stop offset="0" stop-color="#abc8b5"/><stop offset="0.65" stop-color="#a6c4b0"/><stop offset="1" stop-color="#95b09e"/></radialGradient>
<radialGradient id="rg_sliceR_29" cx="0.5" cy="0.45" r="0.62"><stop offset="0" stop-color="#a9b5c1"/><stop offset="0.65" stop-color="#a4b0bd"/><stop offset="1" stop-color="#949eaa"/></radialGradient>
<radialGradient id="rg_sliceR_30" cx="0.5" cy="0.45" r="0.62"><stop offset="0" stop-color="#9ab9aa"/><stop offset="0.65" stop-color="#94b5a5"/><stop offset="1" stop-color="#85a394"/></radialGradient>
<radialGradient id="rg_sliceR_31" cx="0.5" cy="0.45" r="0.62"><stop offset="0" stop-color="#aea3bb"/><stop offset="0.65" stop-color="#a99db7"/><stop offset="1" stop-color="#988da5"/></radialGradient>
<radialGradient id="rg_sliceR_32" cx="0.5" cy="0.45" r="0.62"><stop offset="0" stop-color="#dfd7a6"/><stop offset="0.65" stop-color="#ddd4a0"/><stop offset="1" stop-color="#c7bf90"/></radialGradient>
<radialGradient id="rg_sliceR_33" cx="0.5" cy="0.45" r="0.62"><stop offset="0" stop-color="#dbd4a1"/><stop offset="0.65" stop-color="#d9d19b"/><stop offset="1" stop-color="#c3bc8c"/></radialGradient>
<radialGradient id="rg_sliceR_35" cx="0.5" cy="0.45" r="0.62"><stop offset="0" stop-color="#9391a6"/><stop offset="0.65" stop-color="#8c8aa0"/><stop offset="1" stop-color="#7e7c90"/></radialGradient>
<radialGradient id="rg_sliceR_36" cx="0.5" cy="0.45" r="0.62"><stop offset="0" stop-color="#dbd4a1"/><stop offset="0.65" stop-color="#d9d19b"/><stop offset="1" stop-color="#c3bc8c"/></radialGradient>
<radialGradient id="rg_sliceR_37" cx="0.5" cy="0.45" r="0.62"><stop offset="0" stop-color="#ada2ba"/><stop offset="0.65" stop-color="#a89cb6"/><stop offset="1" stop-color="#978ca4"/></radialGradient>
<radialGradient id="rg_sliceR_38" cx="0.5" cy="0.45" r="0.62"><stop offset="0" stop-color="#dbd4a1"/><stop offset="0.65" stop-color="#d9d19b"/><stop offset="1" stop-color="#c3bc8c"/></radialGradient>
</defs>
<g transform="translate(44,235) scale(1.00000,1.00000)" clip-path="url(#clipImg)"><use href="#sliceL"/></g>
<g transform="translate(400,235) scale(1.00000,1.00000)" clip-path="url(#clipImg)"><use href="#sliceR"/></g>
<g transform="translate(50,460) scale(0.97895,0.97895)" clip-path="url(#clipImg)"><use href="#sliceL"/></g>
<g transform="translate(406.4,460) scale(0.97754,0.97895)" clip-path="url(#clipImg)"><use href="#sliceR"/></g>
<path d="M149.8 290.8h0M151.3 292.4h0M150.3 293.1h0M151.8 295.3h0M152.6 296.6h0M152.1 297.3h0M153.2 300.6h0M153.7 301.7h0M153.1 302.6h0M141.5 311.7h0M142.0 312.0h0M141.5 314.1h0M141.4 316.1h0M142.5 317.6h0M142.2 319.1h0M142.4 320.3h0M141.8 322.3h0M141.8 323.6h0M142.4 325.0h0M143.1 326.4h0M143.8 327.6h0M143.2 310.8h0M143.9 311.2h0M144.4 313.4h0M145.6 315.2h0M144.7 316.6h0M145.2 318.1h0M145.4 319.2h0M145.6 321.2h0M145.5 323.5h0M134.2 318.4h0M134.8 321.1h0M135.4 322.2h0M135.6 323.2h0M134.9 324.6h0M135.5 326.1h0M172.9 340.4h0M172.7 342.0h0M173.2 344.4h0M174.1 344.9h0M174.2 347.5h0M174.8 348.4h0M174.8 349.3h0M175.5 350.5h0M176.2 352.0h0M176.4 354.0h0M176.6 355.8h0M176.0 357.2h0M176.3 358.2h0M177.1 359.7h0M177.9 362.4h0M177.8 363.6h0M188.5 346.4h0M189.1 347.6h0M189.0 349.7h0M189.5 350.6h0M190.0 352.7h0M190.8 354.0h0M191.4 354.9h0M190.6 357.4h0M191.4 359.0h0M192.8 360.2h0M192.3 348.6h0M193.5 349.3h0M193.0 351.5h0M193.1 353.9h0M194.4 355.5h0M199.8 346.2h0M199.8 347.5h0M200.4 347.9h0M200.6 349.9h0M202.2 351.9h0M202.1 353.9h0M202.2 355.6h0M203.3 357.7h0M229.0 297.6h0M230.0 299.1h0M229.3 299.8h0M228.9 302.4h0M229.2 303.5h0M229.9 304.2h0M229.7 307.1h0M230.5 308.9h0M231.3 309.1h0M231.1 310.6h0M230.9 312.9h0M225.8 313.2h0M224.6 314.6h0M225.3 315.6h0M225.2 318.4h0M226.4 319.8h0M225.0 321.5h0M225.8 323.0h0M225.5 323.4h0M226.8 325.2h0M225.5 327.1h0M227.3 329.3h0M226.4 331.1h0M227.2 332.4h0M227.1 333.2h0M227.7 335.0h0M228.7 312.1h0M228.8 313.5h0M228.1 315.2h0M228.1 315.9h0M228.7 318.6h0M228.2 320.1h0M229.2 321.5h0M228.7 323.3h0M229.5 324.1h0M228.5 325.6h0M228.4 327.7h0M229.1 328.3h0M229.6 330.2h0M229.8 331.5h0M230.0 333.6h0M229.8 334.5h0M230.5 335.2h0M230.4 314.7h0M230.7 317.2h0M230.7 317.3h0M231.2 319.5h0M232.2 321.8h0M232.4 322.7h0M231.2 323.3h0M232.4 326.0h0M231.9 327.8h0M232.6 328.6h0M232.9 329.3h0M232.3 332.2h0M232.6 332.3h0" stroke="#8000ff" stroke-width="4.20" stroke-linecap="round" fill="none"/>
<path d="M138.6 330.4h0M139.5 330.7h0M140.5 332.3h0M142.3 333.2h0M143.4 335.6h0M144.3 335.2h0M144.4 337.9h0M146.3 337.7h0M146.5 339.3h0M148.0 339.9h0M148.2 342.3h0M150.1 342.3h0M150.6 344.6h0M152.0 345.3h0M153.1 346.2h0M152.6 347.2h0M154.4 348.4h0M154.8 349.7h0M155.4 352.2h0M156.8 353.4h0M158.4 353.3h0M159.7 354.2h0M143.8 328.2h0M143.5 330.3h0M144.0 331.9h0M145.0 333.2h0M145.9 333.9h0M147.1 334.7h0M148.5 336.1h0M149.2 337.8h0M149.8 338.2h0M151.5 339.6h0M152.9 341.0h0M153.0 341.6h0M153.1 342.9h0M155.1 345.1h0M156.6 345.9h0M157.0 347.0h0M156.9 348.3h0M158.9 350.2h0M160.2 351.5h0M160.5 352.2h0M161.3 353.3h0M162.5 354.7h0M163.7 355.7h0M164.0 357.6h0M147.3 332.0h0M147.9 333.8h0M148.9 334.1h0M149.2 335.9h0M149.6 336.9h0M151.9 337.7h0M151.9 339.8h0M153.6 341.0h0M153.9 341.7h0M154.5 343.4h0M155.2 344.9h0M155.4 346.1h0M157.5 346.6h0M157.1 347.8h0M158.9 349.8h0M160.2 350.1h0M159.7 351.2h0M162.1 353.3h0M161.5 354.6h0M163.7 355.7h0M163.3 357.6h0M165.0 357.5h0M165.9 359.3h0M166.4 360.3h0M166.8 361.6h0M168.0 362.9h0M141.6 334.3h0M141.3 337.1h0M142.8 337.8h0M143.6 338.5h0M144.0 339.8h0M144.4 342.4h0M146.2 343.5h0M145.7 344.6h0M147.0 345.5h0M148.4 346.0h0M148.7 348.2h0M150.3 349.5h0M150.2 351.0h0M151.4 351.8h0M152.1 353.0h0M152.0 354.4h0M152.9 356.0h0M154.4 358.0h0M155.6 359.1h0M156.8 359.6h0M208.6 345.0h0M208.4 347.1h0M209.3 348.0h0M210.2 351.0h0M209.0 351.0h0M209.2 353.8h0M210.8 354.2h0M209.6 356.6h0M210.4 357.3h0M210.0 359.2h0M210.6 360.9h0M211.4 362.4h0M211.1 363.9h0M212.5 365.6h0M221.1 329.9h0M220.8 331.4h0M220.4 332.5h0M221.6 335.0h0M221.0 335.6h0M222.3 337.0h0M222.2 339.8h0M221.2 341.3h0M221.3 341.5h0M221.7 343.5h0M222.3 345.2h0M222.8 347.1h0M221.8 347.8h0M222.9 349.2h0M223.4 351.9h0M222.3 352.6h0M222.5 354.3h0M222.6 355.2h0M224.6 330.5h0M225.0 332.5h0M226.1 334.4h0M225.8 336.3h0M225.7 337.2h0M225.6 339.4h0M226.9 341.1h0M226.7 341.3h0M226.0 344.1h0M227.6 345.2h0M227.9 347.4h0M227.8 348.1h0M227.5 349.6h0M227.6 351.4h0M227.2 352.4h0M228.4 333.1h0M229.7 334.9h0M228.6 336.0h0M229.5 337.0h0M228.7 339.4h0M229.1 341.0h0M229.1 342.9h0M229.5 343.8h0M230.0 346.1h0M230.7 347.6h0" stroke="#2adcdc" stroke-width="4.20" stroke-linecap="round" fill="none"/>
<path d="M135.8 361.5h0M140.2 370.3h0M137.3 361.3h0M127.5 368.6h0M122.3 377.0h0M150.7 363.4h0M151.1 364.6h0M150.7 366.2h0M150.9 367.8h0M151.7 370.1h0M151.3 371.1h0M151.4 372.1h0M152.0 374.1h0M152.4 376.4h0M152.0 377.4h0M153.7 379.1h0M153.3 380.1h0M153.3 382.6h0M154.4 383.7h0M154.7 385.7h0M154.6 360.8h0M154.2 363.1h0M154.4 364.6h0M154.8 365.4h0M155.1 366.6h0M155.2 368.7h0M154.9 369.9h0M155.6 372.6h0M156.4 373.2h0M157.4 374.7h0M156.9 377.1h0M157.5 378.2h0M157.9 379.8h0M158.1 381.4h0M158.8 383.4h0M156.3 364.4h0M158.0 366.1h0M156.6 367.8h0M157.6 370.6h0M157.6 371.8h0M158.6 372.3h0M158.4 375.4h0M158.5 376.3h0M158.3 378.6h0M159.6 378.7h0M159.1 380.9h0M199.3 364.4h0M198.8 366.2h0M199.4 368.6h0M200.3 370.1h0M200.2 370.5h0M200.0 373.0h0M200.0 374.2h0M201.3 375.1h0M201.4 376.6h0M200.9 379.5h0M200.8 380.4h0M201.4 382.6h0M202.6 383.1h0M202.0 385.7h0M203.1 365.5h0M203.7 367.3h0M203.4 368.2h0M204.5 370.9h0M204.6 373.0h0M203.8 373.8h0M204.3 375.7h0M205.2 376.3h0M204.5 378.7h0M204.9 379.2h0M204.8 381.5h0M205.7 383.7h0M205.8 384.6h0M205.4 385.9h0M206.6 365.3h0M206.9 366.1h0M207.3 368.1h0M207.5 369.9h0M207.5 372.0h0M208.6 373.0h0M207.7 374.2h0M209.1 376.3h0M209.5 378.3h0M208.9 379.2h0M209.2 380.2h0M209.1 382.0h0M209.3 384.1h0M210.3 367.1h0M210.6 368.2h0M210.0 370.4h0M211.4 371.7h0M210.2 372.7h0M210.9 375.3h0M210.8 376.3h0M212.1 379.2h0M211.7 380.2h0M218.0 362.2h0M217.8 363.9h0M217.8 366.5h0M218.6 366.7h0M217.7 369.4h0M217.9 370.2h0M218.3 371.2h0M218.0 372.9h0M218.7 375.7h0M219.2 376.1h0M219.4 377.6h0M219.2 379.2h0M220.1 380.7h0M220.0 382.7h0M220.1 384.2h0M220.3 385.3h0M220.1 387.2h0M219.9 388.6h0M220.1 389.8h0M222.7 364.2h0M222.3 364.8h0M222.3 366.6h0M222.0 368.6h0M222.7 369.8h0M222.4 371.8h0M223.0 373.2h0M222.5 374.7h0M223.6 376.5h0M223.6 378.6h0M224.0 379.9h0M223.0 380.8h0M224.3 382.1h0M224.9 383.6h0M225.0 385.3h0M225.1 387.9h0M224.4 389.5h0M224.3 391.0h0M224.8 391.9h0M225.4 365.2h0M225.8 366.9h0M226.9 368.3h0M225.8 370.5h0M227.6 371.5h0M226.9 373.0h0M227.9 374.4h0M228.0 376.2h0M227.6 378.3h0M227.8 379.3h0M227.4 380.7h0M227.6 382.6h0M227.7 383.1h0M228.1 384.8h0M229.0 386.8h0M231.6 362.8h0M232.5 364.8h0M232.1 367.6h0M231.0 370.2h0M230.8 372.3h0M230.8 374.1h0M231.4 378.0h0M230.4 380.5h0M230.3 382.6h0M231.2 385.4h0M229.4 387.3h0M229.8 389.6h0M236.5 362.9h0M236.1 365.9h0M235.6 367.6h0M235.6 371.7h0M234.6 373.9h0M234.9 376.1h0M235.0 379.8h0M233.6 382.3h0M234.0 384.9h0M233.4 387.4h0M239.3 367.7h0M240.6 371.7h0M240.1 374.7h0M239.4 378.2h0M239.7 382.0h0M238.5 384.9h0M244.1 371.1h0M244.7 375.6h0M243.4 378.8h0M243.3 382.2h0M247.3 374.5h0M248.5 380.3h0M248.5 384.6h0" stroke="#ff7f41" stroke-width="4.20" stroke-linecap="round" fill="none"/>
<path d="M81.0 310.6h0M82.2 311.1h0M82.0 312.9h0M82.4 315.0h0M81.7 315.1h0M83.1 317.3h0M83.2 318.1h0M82.9 320.8h0M82.7 322.7h0M84.0 322.6h0M82.7 324.9h0M84.5 326.2h0M83.4 327.7h0M83.3 328.9h0M84.2 330.8h0M84.0 331.8h0M84.2 333.7h0M84.5 334.5h0M85.6 336.9h0M85.5 337.7h0M86.3 340.3h0M85.0 340.9h0M86.2 343.1h0M86.8 344.1h0M86.8 346.0h0M86.1 347.3h0M87.2 349.2h0M86.8 350.3h0M86.2 351.2h0M87.7 353.0h0M86.8 354.7h0M87.9 356.4h0M87.5 357.5h0M88.0 359.5h0M88.2 360.4h0M88.3 361.2h0M87.7 363.9h0M89.5 365.2h0M88.7 365.9h0M93.0 304.8h0M93.5 305.6h0M93.7 306.6h0M93.2 309.3h0M93.3 310.0h0M92.8 311.7h0M94.1 312.2h0M93.8 315.1h0M94.0 316.5h0M94.0 317.7h0M93.6 319.0h0M92.8 321.3h0M93.7 321.7h0M93.6 323.7h0M93.4 324.9h0M93.8 326.9h0M94.0 328.2h0M93.0 329.3h0M93.3 331.4h0M94.5 333.3h0M94.5 334.8h0M93.6 336.4h0M94.3 336.6h0M93.3 338.0h0M94.6 339.9h0M93.5 342.1h0M94.0 342.6h0M93.7 344.9h0M93.8 346.0h0M94.7 347.8h0M94.1 349.4h0M93.7 350.8h0M94.4 351.9h0M93.9 354.7h0M94.6 355.0h0M94.8 357.5h0M93.9 357.7h0M94.2 360.4h0M94.2 361.9h0M95.2 363.1h0M94.4 365.4h0M95.5 366.1h0M94.5 367.9h0M109.0 312.0h0M108.3 318.5h0M105.8 327.1h0M105.8 328.7h0M105.5 329.7h0M107.2 332.1h0M106.2 333.6h0M106.3 335.2h0M107.2 335.9h0M106.5 336.7h0M107.6 338.2h0M108.0 345.6h0M114.0 337.0h0M112.9 356.0h0M122.8 358.8h0M122.5 359.1h0M123.1 362.1h0M122.9 362.9h0M122.4 364.3h0M122.2 366.5h0M122.7 367.3h0M122.2 369.8h0M122.6 371.2h0M122.7 373.4h0M144.7 352.2h0M144.2 354.2h0M146.2 356.5h0M145.7 357.0h0M147.0 359.6h0M148.1 360.2h0M148.7 362.3h0M151.5 353.8h0M151.5 354.9h0M151.8 355.4h0M153.7 357.0h0M153.9 359.2h0M154.6 360.3h0M154.2 361.6h0M155.6 363.7h0M156.3 365.7h0M155.4 366.6h0M153.3 354.2h0M154.1 357.0h0M156.1 358.2h0M156.1 359.2h0M157.7 360.1h0M158.1 361.2h0M158.1 362.6h0M169.7 364.5h0M170.0 366.0h0M169.1 368.2h0M170.3 368.6h0M170.3 370.4h0M169.6 373.5h0M199.2 351.6h0M201.1 353.4h0M199.8 354.5h0M200.2 357.1h0M200.2 358.9h0M200.9 360.6h0M202.0 361.0h0M201.1 362.8h0M201.1 364.7h0M201.2 365.2h0M204.8 350.7h0M204.5 352.4h0M204.4 353.3h0M205.8 356.3h0M206.3 356.3h0M205.4 358.7h0M207.1 360.1h0M206.9 361.8h0M206.6 363.1h0M207.7 352.6h0M207.7 354.2h0M209.6 356.1h0M209.5 358.0h0M210.3 359.2h0M209.7 360.7h0M211.5 349.0h0M215.4 349.5h0M217.3 351.4h0M220.6 352.9h0M223.0 353.4h0M218.6 356.3h0M219.5 357.8h0M219.1 360.2h0M219.9 362.0h0M220.7 363.6h0M220.6 364.4h0M222.1 365.2h0M222.8 366.8h0M215.5 349.2h0M218.5 349.6h0M220.2 351.4h0M224.5 352.4h0M239.8 348.4h0M262.7 314.4h0M262.8 315.7h0M261.9 318.7h0M262.8 320.3h0M263.0 321.5h0M262.8 322.1h0M262.5 323.6h0M263.0 326.0h0M262.3 326.4h0M263.6 329.2h0M263.0 330.3h0M263.6 331.7h0M263.0 333.0h0M262.8 334.0h0M263.6 336.2h0M263.5 337.1h0M263.3 338.8h0M263.0 340.5h0M264.3 342.3h0M263.6 344.1h0M263.5 344.6h0M264.0 347.0h0M266.3 313.9h0M266.4 315.9h0M265.8 317.0h0M266.3 318.0h0M266.4 320.1h0M267.3 322.2h0M266.4 323.2h0M266.1 323.8h0M267.0 326.6h0M266.5 328.0h0M267.9 328.7h0M267.7 331.1h0M267.3 332.3h0M268.0 333.7h0M268.4 335.7h0M268.7 336.6h0M267.4 337.6h0M267.6 339.6h0M268.7 340.2h0M268.7 342.9h0M268.2 344.0h0M268.1 345.9h0M268.0 347.8h0M269.4 348.7h0M268.6 350.7h0M270.8 315.4h0M270.6 318.1h0M270.6 319.4h0M270.3 321.3h0M271.4 321.9h0M271.2 323.5h0M270.3 324.8h0M270.4 327.4h0M271.9 327.5h0M271.5 329.6h0M270.8 330.9h0M271.1 333.2h0M270.9 333.8h0M271.8 335.0h0M272.2 337.5h0M272.7 338.4h0M271.9 340.5h0M272.0 342.1h0M272.1 343.7h0M273.2 345.5h0M273.7 346.6h0M273.0 348.6h0M274.5 319.1h0M273.9 320.2h0M273.5 322.6h0M273.5 324.0h0M274.3 325.9h0M274.7 327.5h0M273.7 328.2h0M274.5 329.4h0M274.5 331.0h0M274.6 331.9h0M274.5 334.2h0M274.3 335.7h0M275.2 337.7h0M274.8 339.1h0M274.6 339.9h0M274.0 341.6h0M275.1 344.1h0M275.6 345.0h0M278.8 316.9h0M278.6 318.4h0M278.5 320.9h0M277.9 321.0h0M278.5 323.2h0M278.1 323.8h0M278.2 326.1h0M278.3 328.3h0M278.7 329.7h0M279.3 331.2h0M278.7 332.8h0M279.0 334.1h0M279.0 335.2h0M279.1 337.2h0M279.7 338.9h0M279.6 340.5h0M279.6 341.7h0M278.9 342.7h0M279.6 345.2h0M279.3 345.5h0M279.9 347.6h0M279.3 348.4h0M279.5 351.1h0M279.4 352.0h0M279.9 353.0h0M279.7 356.1h0M280.1 356.7h0M280.1 358.6h0M279.4 359.4h0M280.6 361.1h0M279.3 363.6h0M282.0 315.8h0M282.1 317.9h0M281.6 319.3h0M282.6 321.1h0M281.9 322.3h0M281.9 323.8h0M281.8 325.7h0M283.1 326.4h0M282.0 329.0h0M282.9 330.4h0M281.8 332.0h0M282.9 332.5h0M282.6 334.8h0M283.3 335.4h0M283.1 336.9h0M283.7 338.9h0M283.7 340.9h0M283.2 341.6h0M283.2 342.9h0M282.6 345.5h0M283.0 347.1h0M282.9 348.5h0M283.7 349.4h0M282.8 351.0h0M283.5 352.1h0M283.0 353.5h0M283.8 356.5h0M283.2 356.6h0M284.1 359.4h0M284.6 360.6h0M283.6 362.5h0M283.3 363.8h0M283.3 364.8h0M286.0 318.8h0M285.5 320.0h0M286.7 321.9h0M286.4 323.0h0M286.7 324.7h0M286.6 327.2h0M287.3 327.2h0M287.1 330.1h0M286.4 330.8h0M286.9 333.2h0M286.7 334.6h0M287.4 334.9h0M287.7 336.2h0M286.5 338.8h0M286.4 339.8h0M286.6 341.4h0M287.9 343.7h0M286.6 343.8h0M288.1 345.2h0M287.2 346.8h0M287.0 348.2h0M288.0 350.9h0M288.2 352.6h0M288.2 353.3h0M288.2 355.8h0M290.2 317.6h0M289.3 320.3h0M290.3 320.8h0M290.3 322.7h0M290.2 323.4h0M290.0 325.5h0M289.8 327.8h0M290.2 329.0h0M290.8 330.6h0M290.8 332.2h0M290.1 334.1h0M290.0 335.5h0M291.2 336.9h0M289.9 337.1h0M291.3 339.3h0M290.6 341.7h0M290.1 342.5h0M290.8 343.3h0M290.8 345.8h0M291.6 346.2h0M247.0 329.3h0M247.6 330.8h0M246.5 332.8h0M247.8 334.2h0M246.9 336.5h0M248.1 338.1h0M247.4 338.9h0M247.4 340.6h0M247.7 341.7h0M248.6 344.3h0M248.4 344.3h0M248.6 346.4h0M249.3 348.4h0M249.2 349.8h0M248.8 351.7h0M249.4 352.1h0M248.4 353.8h0M249.2 354.8h0M249.0 357.1h0M248.6 359.0h0M249.8 359.7h0M249.3 361.2h0M249.5 363.4h0M249.9 364.5h0M249.4 366.7h0M250.7 332.7h0M250.4 335.3h0M251.2 336.8h0M252.1 338.4h0M252.0 339.8h0M252.3 341.2h0M251.1 342.2h0M252.0 344.5h0M252.4 345.6h0M252.5 346.5h0M252.9 348.5h0M252.1 349.8h0M253.2 351.4h0M252.0 352.3h0M253.0 354.5h0M253.5 355.4h0M252.7 357.9h0M252.2 358.3h0M255.1 328.6h0M254.5 330.1h0M255.5 332.0h0M254.7 332.8h0M256.1 335.2h0M255.1 337.1h0M254.9 337.8h0M256.5 339.9h0M255.6 341.7h0M256.3 343.1h0M256.9 343.9h0M256.7 345.6h0M257.3 347.5h0M257.0 349.0h0M257.6 349.6h0M256.4 351.9h0M257.5 353.0h0M258.0 334.8h0M258.8 337.2h0M258.5 337.6h0M259.1 339.9h0M258.1 341.3h0M259.2 342.5h0M258.4 344.7h0" stroke="#ff0000" stroke-width="4.20" stroke-linecap="round" fill="none"/>
<path d="M508.6 302.9h0M507.5 303.1h0M508.8 305.5h0M508.7 306.3h0M508.8 308.1h0M508.9 308.9h0M508.9 310.7h0M509.5 312.9h0M510.0 313.7h0M509.4 314.8h0M509.0 315.9h0M509.8 317.7h0M509.8 319.9h0M510.2 320.9h0M509.9 321.5h0M510.2 323.1h0M510.7 325.7h0M511.1 326.0h0M511.5 328.3h0M511.5 329.9h0M511.7 331.1h0M511.3 332.8h0M512.3 333.1h0M512.2 335.3h0M511.9 336.5h0M512.1 338.4h0M512.3 339.7h0M512.3 341.2h0M513.2 342.1h0M512.9 344.1h0M513.3 344.9h0M512.7 346.1h0M513.6 347.3h0M509.8 302.7h0M509.9 304.2h0M510.2 306.2h0M509.7 307.4h0M510.1 308.9h0M509.8 309.8h0M510.2 312.3h0M510.6 312.6h0M511.0 314.9h0M511.3 315.6h0M511.3 316.9h0M511.3 318.7h0M510.9 320.9h0M510.9 321.9h0M512.1 323.0h0M511.4 325.3h0M511.8 326.5h0M511.5 327.5h0M511.8 329.4h0M511.9 331.2h0M512.0 332.4h0M512.1 333.1h0M513.4 334.5h0M512.7 336.7h0M513.1 337.2h0M514.2 338.8h0M513.0 340.5h0M514.0 342.5h0M513.4 343.4h0M513.5 345.0h0M514.7 346.9h0M515.1 348.4h0M511.2 304.3h0M510.9 305.0h0M511.3 306.6h0M510.8 308.2h0M512.1 309.2h0M511.9 311.0h0M512.0 312.1h0M512.8 313.7h0M512.5 315.4h0M511.9 317.0h0M512.3 317.7h0M512.4 319.3h0M512.7 321.4h0M513.5 323.3h0M514.3 324.8h0M513.5 325.4h0M513.7 327.1h0M514.5 328.8h0M514.8 329.5h0M514.6 331.3h0M514.2 332.0h0M515.0 333.6h0M515.7 335.2h0M515.0 336.5h0M515.4 338.0h0M516.0 339.8h0M515.9 341.5h0M516.0 343.3h0M517.3 344.5h0M516.8 345.6h0M517.2 346.4h0M517.2 348.5h0M517.0 349.3h0M518.1 351.1h0M515.0 306.4h0M515.4 306.9h0M516.1 308.5h0M515.0 310.4h0M515.4 311.3h0M516.6 313.2h0M515.7 314.4h0M516.5 315.9h0M516.5 317.5h0M516.5 318.5h0M517.1 320.8h0M517.0 322.0h0M517.4 323.2h0M517.9 324.5h0M518.6 325.8h0M518.0 326.9h0M518.1 329.3h0M519.1 330.9h0M519.5 331.1h0M519.6 333.6h0M520.0 334.6h0M519.7 336.0h0M520.5 337.2h0M520.4 338.9h0M521.2 340.8h0M521.4 342.3h0M520.8 342.9h0M521.3 344.4h0M521.4 346.4h0M522.3 347.7h0M522.4 348.5h0M522.0 351.2h0M521.9 351.8h0M522.1 352.8h0M523.5 355.5h0M522.2 315.8h0M522.0 317.3h0M522.8 319.4h0M522.7 320.6h0M522.5 322.0h0M524.0 323.7h0M523.1 324.8h0M524.2 325.8h0M524.7 327.5h0M524.7 328.9h0M525.4 330.8h0M525.1 331.3h0M525.1 332.6h0M525.6 335.2h0M525.3 336.1h0M526.0 337.3h0M526.6 339.5h0M526.9 340.3h0M527.5 341.5h0M527.5 343.3h0M527.8 345.0h0M527.3 346.1h0M527.8 347.6h0M528.9 349.0h0M527.8 350.1h0M529.0 352.1h0M529.2 353.4h0M525.7 304.6h0M526.9 305.6h0M527.3 307.4h0M526.4 308.7h0M527.5 309.3h0M527.7 311.3h0M527.1 313.0h0M527.2 314.2h0M527.8 315.1h0M528.2 316.9h0M527.9 319.0h0M527.9 319.1h0M528.6 321.7h0M529.1 323.0h0M529.0 324.3h0M529.0 325.2h0M529.4 326.3h0M529.0 328.7h0M529.3 330.2h0M530.4 331.1h0M530.4 333.1h0M530.9 333.6h0M530.1 335.4h0M530.7 336.7h0M530.2 338.5h0M531.8 339.6h0M531.3 341.1h0M531.4 343.2h0M531.4 344.3h0M531.8 345.6h0M532.6 346.4h0M532.7 348.2h0M532.6 350.3h0M532.8 351.2h0M506.3 337.3h0M507.5 334.4h0M507.5 336.4h0M507.6 338.7h0M508.3 340.0h0M507.9 341.0h0M508.4 342.6h0M549.7 308.1h0M549.4 310.2h0M549.7 311.8h0M549.6 313.7h0M549.7 316.0h0M549.6 318.5h0M550.2 321.6h0M549.5 323.4h0M550.1 325.3h0M548.9 327.4h0M549.0 330.2h0M549.2 332.0h0M549.7 334.1h0M549.7 336.9h0M549.1 339.5h0M553.4 325.5h0M554.4 326.5h0M554.2 328.6h0M554.4 329.8h0M554.8 331.6h0M554.8 333.1h0M554.3 334.1h0M555.0 335.2h0M554.8 336.5h0M555.8 338.2h0M555.3 340.5h0M555.0 342.0h0M555.1 342.2h0M555.6 344.2h0M556.6 346.4h0M556.5 347.3h0M556.4 348.5h0M557.0 350.2h0M556.4 352.0h0M556.3 353.1h0M557.6 354.2h0M556.5 315.9h0M556.8 317.6h0M557.0 319.0h0M557.2 320.3h0M557.9 321.8h0M557.8 323.9h0M557.5 324.4h0M558.8 326.3h0M558.9 327.3h0M558.7 329.7h0M558.7 331.1h0M559.2 332.0h0M560.0 333.4h0M559.4 335.2h0M559.4 336.9h0M560.0 338.0h0M560.1 340.0h0M560.9 341.2h0M560.3 342.1h0M560.6 343.0h0M560.2 345.8h0M560.5 347.1h0M561.4 348.5h0M560.8 349.1h0M562.0 350.2h0M561.2 352.1h0M561.5 353.2h0M562.3 354.6h0M563.0 356.8h0M560.0 311.6h0M560.4 312.4h0M561.0 313.4h0M561.1 314.7h0M560.9 317.4h0M561.9 318.2h0M561.9 320.2h0M561.3 321.1h0M561.4 322.0h0M561.6 323.6h0M561.7 325.0h0M562.3 327.0h0M563.1 328.9h0M563.1 329.8h0M563.5 330.7h0M562.6 333.1h0M563.5 333.7h0M563.3 335.2h0M563.5 336.9h0M563.6 338.8h0M564.4 339.9h0M564.1 341.0h0M564.7 343.4h0M564.1 344.4h0M564.9 345.8h0M564.1 347.1h0M564.5 348.1h0M565.2 350.1h0M565.5 351.7h0M565.7 352.8h0M565.0 354.6h0M566.3 356.2h0M564.1 305.2h0M563.7 306.7h0M564.5 308.7h0M564.0 310.8h0M565.3 312.1h0M564.7 312.7h0M564.5 314.9h0M565.4 315.6h0M565.8 317.4h0M565.3 318.7h0M565.9 320.1h0M565.9 321.1h0M566.2 322.8h0M566.6 324.1h0M565.9 326.0h0M566.2 327.5h0M567.1 328.4h0M567.0 330.6h0M567.2 331.7h0M566.9 333.0h0M567.1 334.3h0M566.8 336.0h0M567.0 337.5h0M567.7 338.7h0M567.3 340.5h0M568.4 341.4h0M568.2 343.5h0M568.7 345.0h0M568.1 345.7h0M569.0 347.3h0M568.0 349.6h0M568.4 350.2h0M568.7 351.6h0M569.5 353.1h0M569.2 354.7h0M568.1 306.8h0M567.9 308.4h0M567.4 310.6h0M567.9 311.2h0M568.3 313.9h0M568.6 314.8h0M568.9 316.8h0M568.2 317.4h0M569.5 319.7h0M568.5 320.9h0M569.6 322.1h0M569.6 323.5h0M569.0 324.5h0M569.0 326.6h0M569.2 328.0h0M569.7 329.2h0M570.7 330.6h0M570.1 332.0h0M569.9 333.2h0M570.5 335.5h0M570.1 337.2h0M571.0 337.4h0M571.2 339.3h0M571.1 340.3h0M571.3 342.4h0M571.8 343.9h0M571.8 345.6h0M571.3 346.0h0M571.8 347.6h0M571.5 349.4h0M571.1 305.2h0M571.3 307.0h0M570.7 307.9h0M570.8 309.5h0M571.5 310.2h0M571.4 312.4h0M571.8 314.2h0M571.7 314.8h0M572.7 316.6h0M571.7 318.3h0M572.2 319.9h0M572.7 321.1h0M573.2 322.2h0M573.4 322.9h0M572.7 325.5h0M579.2 316.5h0M580.5 318.0h0M580.2 318.6h0M579.6 320.8h0M579.4 322.0h0M579.8 323.0h0M578.6 325.1h0M579.8 326.8h0M579.3 327.5h0M579.5 328.6h0M578.5 331.1h0M579.3 332.0h0M579.2 333.0h0M578.7 334.4h0M578.0 336.0h0M577.6 337.8h0M578.2 339.1h0M578.3 340.2h0M555.3 333.8h0M555.3 335.9h0M555.1 336.7h0M555.7 338.1h0M556.5 339.8h0M556.0 341.1h0M556.0 343.3h0M556.7 344.3h0M555.9 345.7h0M556.0 346.9h0M556.0 348.9h0M557.5 350.2h0M557.1 351.2h0M557.0 353.0h0M558.7 330.0h0M558.5 332.1h0M559.5 333.6h0M559.1 334.0h0M558.7 336.5h0M559.7 337.6h0M559.2 339.2h0M558.8 340.7h0M559.0 342.3h0M559.2 343.5h0M559.4 344.8h0M559.3 346.8h0M559.8 347.5h0M559.5 349.6h0M559.9 350.7h0M560.2 351.4h0M559.8 353.5h0M559.6 355.4h0M563.0 324.8h0M562.5 326.8h0M562.7 327.7h0M563.0 329.1h0M562.1 331.0h0M562.9 332.1h0M562.8 334.3h0M563.3 334.9h0M563.5 336.6h0M562.9 338.1h0M563.5 339.9h0M563.4 341.0h0M563.1 341.6h0M563.3 343.1h0M564.1 344.9h0M563.7 346.9h0M563.2 348.4h0M563.4 348.8h0M563.9 350.7h0M564.4 352.2h0M563.4 353.1h0M563.4 355.2h0M564.4 356.0h0M565.6 323.3h0M566.4 325.4h0M566.5 326.4h0M566.2 327.2h0M566.3 328.6h0M565.9 330.9h0M566.4 332.2h0M566.3 333.0h0M566.5 334.9h0M566.2 336.7h0M567.3 337.2h0M566.3 339.5h0M567.1 340.1h0M567.0 341.5h0M567.5 343.5h0M567.0 344.3h0M567.0 346.2h0M567.0 347.2h0M566.9 349.4h0M567.9 351.0h0M567.6 352.3h0M567.0 353.0h0M567.9 354.1h0M568.7 325.4h0M569.0 326.0h0M569.3 328.4h0M568.9 329.9h0M569.4 331.0h0M569.7 331.8h0M570.5 333.4h0M570.4 335.8h0M570.0 337.4h0M569.5 337.8h0M570.2 339.1h0M570.8 341.2h0M570.9 342.4h0M569.9 344.7h0M570.2 345.5h0M570.2 347.2h0M570.8 348.2h0M570.3 349.8h0M571.4 351.0h0M570.7 353.2h0" stroke="#2c7ff7" stroke-width="4.20" stroke-linecap="round" fill="none"/>
<path d="M449.0 303.0h0M464.2 304.4h0M464.2 305.9h0M463.6 307.5h0M463.4 307.8h0M463.6 310.2h0M464.1 311.8h0M464.8 313.3h0M464.4 313.9h0M464.9 315.9h0M463.8 317.1h0M463.6 317.8h0M464.5 320.2h0M464.8 321.7h0M463.9 323.1h0M465.1 324.5h0M464.4 325.4h0M463.8 327.3h0M465.1 328.0h0M464.9 330.6h0M469.8 312.5h0M469.6 313.2h0M470.2 315.5h0M470.2 315.8h0M470.8 318.0h0M470.7 319.0h0M470.1 320.2h0M470.0 322.2h0M470.3 324.0h0M471.0 325.0h0M471.2 326.9h0M470.4 327.7h0M471.3 329.9h0M470.1 331.4h0M470.7 332.5h0M471.3 333.7h0M470.6 335.6h0M471.6 336.4h0M487.1 312.3h0M486.2 313.7h0M486.9 315.3h0M486.9 316.2h0M486.9 317.6h0M486.9 319.4h0M486.5 320.6h0M486.9 322.4h0M487.3 324.3h0M487.0 325.6h0M487.2 326.6h0M487.0 329.1h0M488.1 330.5h0M487.2 331.0h0M487.1 332.7h0M599.6 306.9h0M600.4 308.6h0M600.3 310.9h0M599.6 311.4h0M600.1 313.8h0M600.8 315.4h0M600.0 316.4h0M601.0 317.5h0M600.7 318.7h0M601.1 320.5h0M600.7 322.2h0M600.6 323.9h0M600.8 324.8h0M601.3 326.6h0M601.4 328.3h0M601.6 329.1h0M601.5 331.2h0M600.7 332.3h0M601.5 333.4h0M601.0 334.7h0M602.0 337.0h0M602.4 338.3h0M602.4 339.8h0M601.4 341.1h0M602.5 342.6h0M601.8 344.0h0M606.6 301.6h0M607.2 303.4h0M606.4 304.8h0M606.4 305.6h0M607.5 308.1h0M606.7 309.3h0M606.7 310.4h0M607.0 311.3h0M607.2 313.4h0M607.8 314.2h0M607.1 315.5h0M607.0 317.3h0M608.0 319.7h0M607.2 320.5h0M607.7 322.0h0M608.3 324.1h0M607.1 324.7h0M607.8 326.5h0M607.9 328.2h0M607.4 329.2h0M608.4 330.2h0M607.6 332.3h0M607.6 333.6h0M607.6 334.6h0M608.0 336.9h0M608.4 338.1h0M608.5 339.2h0M609.0 340.9h0M608.6 341.6h0M608.1 343.8h0M609.6 303.3h0M608.4 304.9h0M608.7 306.0h0M608.8 306.7h0M609.7 308.8h0M609.5 310.6h0M609.5 311.6h0M609.2 313.2h0M609.2 314.3h0M610.0 315.9h0M610.0 317.8h0M609.7 319.4h0M609.6 319.8h0M610.4 322.3h0M610.3 324.0h0M609.9 324.7h0M610.2 326.8h0M609.9 328.1h0M610.9 328.8h0M609.6 330.2h0M610.6 331.7h0M611.1 333.0h0M611.1 334.8h0M620.2 302.6h0M619.1 304.5h0M619.4 306.3h0M620.2 306.8h0M619.8 308.6h0M620.2 309.7h0M620.0 311.5h0M620.0 312.9h0M619.9 314.1h0M619.9 316.4h0M620.1 316.6h0M620.0 319.0h0M620.4 319.5h0M620.1 321.4h0M622.5 306.7h0M622.7 309.0h0M621.5 310.1h0M622.4 311.9h0M623.0 312.8h0M623.0 314.1h0M623.1 316.0h0M622.1 318.3h0M623.5 319.7h0M623.4 320.9h0M624.9 312.2h0M613.4 318.2h0M614.3 319.1h0M613.8 320.6h0M613.7 322.9h0M613.4 323.2h0M613.7 325.7h0M614.3 327.1h0M614.6 328.8h0M614.5 329.0h0M592.2 322.6h0M592.4 323.9h0M592.7 326.3h0M593.8 327.4h0M593.2 328.5h0M592.8 330.0h0M593.0 331.6h0M594.1 332.9h0M594.1 334.9h0M594.5 335.9h0M593.6 338.0h0M594.1 338.6h0M594.5 340.9h0M595.1 341.7h0M594.2 343.0h0M594.3 344.4h0M595.3 346.5h0M594.2 347.2h0M594.5 349.9h0M594.9 351.1h0M587.7 336.3h0M588.6 337.6h0M588.0 339.7h0M587.6 341.4h0M588.3 342.1h0M587.4 344.0h0M587.6 345.6h0M588.0 346.7h0M588.1 348.3h0M586.8 349.7h0M587.4 350.8h0M587.8 352.9h0M587.2 353.9h0M586.6 355.3h0M587.2 357.3h0M587.2 357.9h0M587.3 360.3h0M577.0 357.7h0M580.5 353.7h0" stroke="#80ffb4" stroke-width="4.20" stroke-linecap="round" fill="none"/>
<path d="M478.2 313.6h0M478.3 316.0h0M479.1 316.8h0M478.1 319.1h0M478.8 319.9h0M478.6 321.2h0M478.9 322.7h0M479.0 324.5h0M480.0 325.7h0M479.6 327.4h0M480.4 329.2h0M480.7 329.8h0M480.6 331.5h0M480.5 333.2h0M480.6 334.4h0M480.1 335.4h0M481.4 338.1h0M480.9 338.5h0M481.6 340.5h0M481.3 342.1h0M481.0 343.0h0M482.0 345.2h0M482.4 346.2h0M482.6 348.3h0M482.1 349.8h0M481.8 350.1h0M482.8 351.6h0M482.6 353.9h0M483.0 354.6h0M483.3 355.8h0M483.1 358.5h0M483.2 359.1h0M484.0 361.2h0M483.9 362.9h0M486.2 322.8h0M486.2 324.1h0M485.5 325.3h0M485.6 326.4h0M486.2 328.3h0M486.8 329.3h0M486.7 330.9h0M486.2 332.5h0M487.2 334.5h0M486.6 335.3h0M486.2 337.0h0M487.6 338.5h0M487.3 340.6h0M486.5 341.2h0M487.2 342.6h0M487.2 344.6h0M487.0 346.1h0M487.3 347.5h0M487.3 349.1h0M487.8 350.6h0M488.6 351.7h0M487.4 352.9h0M488.9 354.7h0M488.7 355.9h0M489.1 358.0h0M488.7 359.0h0M488.1 359.6h0M491.6 325.3h0M492.7 326.8h0M493.0 327.2h0M492.0 329.0h0M492.2 330.9h0M493.8 332.7h0M492.8 333.8h0M493.9 335.3h0M493.7 336.1h0M494.6 338.5h0M494.6 339.4h0M493.9 340.5h0M494.4 341.9h0M494.6 343.9h0M495.5 344.6h0M496.0 345.8h0M496.3 348.1h0M496.1 349.1h0M496.4 351.4h0M496.0 351.7h0M497.0 353.3h0M496.3 355.1h0M496.6 356.2h0M497.0 357.4h0M498.0 359.5h0M498.0 360.6h0M498.4 362.9h0M500.7 334.4h0M500.1 335.9h0M500.6 338.1h0M501.2 339.1h0M502.0 340.9h0M502.4 342.1h0M502.3 343.1h0M502.4 345.3h0M502.4 346.7h0M502.6 347.9h0M503.6 349.3h0M503.3 350.4h0M503.9 352.5h0M504.4 353.3h0M504.6 354.8h0M504.6 356.7h0M505.4 357.7h0M505.1 360.0h0M505.5 360.3h0M506.2 362.7h0M495.6 330.4h0M494.9 331.9h0M494.9 332.3h0M495.2 334.4h0M496.2 335.9h0M496.9 337.5h0M496.9 338.1h0M497.4 340.5h0M497.6 340.8h0M497.7 342.8h0M497.7 343.9h0M498.3 346.1h0M498.5 346.8h0M498.8 347.9h0M498.9 349.2h0M498.3 350.8h0M499.4 353.4h0M499.4 354.4h0M499.9 356.1h0M500.7 357.4h0M600.1 326.2h0M600.4 328.3h0M600.0 329.0h0M600.1 330.9h0M600.3 332.3h0M599.9 333.5h0M599.8 334.9h0M599.6 336.3h0M600.6 338.3h0M600.4 339.7h0M600.0 339.9h0M600.6 341.8h0M600.4 343.6h0M601.0 345.4h0M600.5 346.5h0M601.0 348.0h0M601.0 349.2h0M601.3 350.0h0M601.4 351.6h0M600.6 353.8h0M601.0 354.7h0M600.6 355.8h0M600.9 357.3h0M601.6 358.9h0M601.2 360.6h0M601.7 362.6h0M601.7 363.2h0M605.7 317.0h0M606.1 318.6h0M606.1 320.0h0M606.4 320.9h0M606.3 323.0h0M606.9 324.1h0M607.5 324.8h0M607.2 326.7h0M606.9 328.8h0M607.0 329.7h0M607.5 330.7h0M607.4 332.0h0M607.8 334.3h0M608.6 336.2h0M607.8 337.6h0M607.7 337.9h0M608.4 340.1h0M608.6 340.6h0M608.5 342.7h0M608.6 344.5h0M609.2 345.0h0M609.0 347.3h0M609.6 348.7h0M610.0 350.2h0M609.3 351.8h0M609.7 352.9h0M609.8 354.5h0M610.1 355.6h0M610.4 356.9h0M610.4 359.1h0M610.3 359.4h0M610.9 361.0h0M610.1 362.2h0M610.5 364.1h0M611.2 365.2h0M610.7 367.5h0M590.9 344.8h0M591.3 346.8h0M591.8 347.4h0M591.8 348.9h0M592.8 350.3h0M592.1 351.9h0M592.4 354.1h0M593.6 355.3h0M593.2 356.1h0M594.0 357.9h0M594.0 360.4h0M593.8 361.4h0M594.3 362.7h0M594.5 364.4h0M594.9 365.0h0M595.5 366.7h0M579.8 354.2h0M580.1 356.2h0M579.5 357.3h0M580.2 359.1h0M579.6 361.2h0M580.6 362.6h0M588.1 363.6h0M604.5 373.5h0" stroke="#d4dd80" stroke-width="4.20" stroke-linecap="round" fill="none"/>
<path d="M89.3 547.9h0M94.0 585.3h0M98.2 533.1h0M99.5 564.9h0M99.7 589.3h0M209.3 582.0h0M265.9 570.1h0M269.1 560.5h0M287.1 542.3h0M287.7 547.7h0M288.6 575.0h0M290.6 546.8h0M292.1 566.7h0M248.7 556.2h0M254.9 578.4h0M158.6 586.3h0M159.7 596.1h0M210.4 590.5h0M210.7 596.1h0M221.4 602.9h0M222.2 605.7h0M236.1 602.4h0M156.8 523.4h0M180.6 581.7h0M233.5 544.1h0M155.2 568.5h0M158.8 572.7h0M161.2 574.7h0M212.3 573.5h0" stroke="#7bb7d9" stroke-width="3.90" stroke-linecap="round" fill="none"/>
<path d="M98.9 545.1h0M98.7 567.5h0M99.9 581.1h0M127.1 586.3h0M127.1 589.2h0M158.8 585.3h0M241.7 571.0h0M268.5 555.4h0M271.0 541.9h0M272.0 547.8h0M272.4 555.9h0M273.4 564.7h0M280.0 571.3h0M291.3 555.6h0M251.2 585.1h0M251.8 588.4h0M256.3 552.2h0M257.0 555.3h0M126.7 599.0h0M205.8 588.5h0M226.0 607.1h0M228.1 587.2h0M228.9 593.3h0M229.5 599.1h0M230.2 602.3h0M230.7 608.3h0M235.5 609.0h0M146.4 544.5h0M228.2 548.2h0M229.4 555.1h0M229.6 558.5h0M231.4 547.0h0M224.5 575.4h0" stroke="#084489" stroke-width="3.90" stroke-linecap="round" fill="none"/>
<path d="M89.6 553.4h0M156.5 578.3h0M157.6 582.1h0M267.4 543.0h0M268.3 546.2h0M280.3 579.2h0M281.4 582.1h0M285.3 581.5h0M287.0 545.3h0M158.1 606.3h0M213.5 592.7h0M228.8 589.8h0M249.5 597.5h0M178.8 575.5h0M193.8 576.5h0M147.1 557.9h0M158.4 568.1h0M171.4 585.2h0M213.1 576.4h0M223.2 556.4h0M223.6 561.0h0" stroke="#4594c7" stroke-width="3.90" stroke-linecap="round" fill="none"/>
<path d="M87.0 536.5h0M90.0 557.1h0M90.2 559.9h0M98.4 539.3h0M98.6 542.2h0M99.8 587.6h0M151.7 584.4h0M162.5 585.1h0M207.2 576.3h0M208.5 579.4h0M272.1 553.1h0M276.2 559.3h0M279.2 543.3h0M282.5 539.7h0M291.6 564.2h0M253.6 566.8h0M154.9 594.8h0M213.8 595.4h0M220.3 590.8h0M157.6 526.4h0M231.9 526.9h0M232.6 536.4h0M233.9 547.4h0M157.7 571.2h0M167.6 579.6h0M155.6 562.3h0M167.8 580.3h0M146.8 560.3h0M156.7 577.2h0M211.2 568.2h0M212.9 580.0h0" stroke="#9ac8e0" stroke-width="3.90" stroke-linecap="round" fill="none"/>
<path d="M87.7 538.7h0M98.1 536.1h0M98.8 561.0h0M110.6 552.9h0M111.3 555.5h0M154.7 575.7h0M159.5 580.6h0M160.5 582.6h0M204.5 584.5h0M204.3 588.2h0M226.0 576.9h0M224.1 589.5h0M264.0 541.7h0M263.7 544.5h0M275.0 550.3h0M275.4 553.7h0M279.4 549.2h0M280.1 551.4h0M280.2 563.2h0M281.0 576.3h0M283.8 545.0h0M283.7 547.2h0M284.0 556.7h0M283.3 558.8h0M284.0 562.3h0M285.2 587.6h0M249.9 561.5h0M249.3 564.5h0M252.8 558.7h0M252.7 561.7h0M253.5 573.4h0M258.3 569.9h0M258.3 572.2h0M258.7 575.7h0M259.1 558.4h0M260.0 560.7h0M260.7 564.0h0M153.9 585.4h0M154.5 588.3h0M160.6 601.4h0M161.9 605.2h0M162.1 599.4h0M203.5 595.5h0M221.4 597.1h0M221.3 600.2h0M224.1 586.3h0M225.6 595.0h0M226.7 613.1h0M232.6 600.5h0M242.3 589.8h0M249.3 606.7h0M155.4 516.6h0M145.7 537.7h0M148.3 536.9h0M195.3 581.9h0M203.6 571.2h0M205.6 579.0h0M231.4 544.2h0M234.7 549.8h0M234.2 552.8h0M147.0 551.6h0M150.7 556.5h0M149.1 565.3h0M150.7 568.1h0M152.7 570.6h0M214.1 588.1h0M227.3 557.6h0M228.1 563.8h0M229.1 566.5h0M231.8 569.2h0" stroke="#f7fbff" stroke-width="3.90" stroke-linecap="round" fill="none"/>
<path d="M89.5 550.9h0M99.2 553.1h0M99.1 555.5h0M112.7 568.3h0M214.6 571.4h0M269.6 564.1h0M273.7 567.9h0M280.2 554.7h0M283.3 542.5h0M283.8 552.9h0M286.9 551.3h0M249.4 559.4h0M250.6 571.1h0M253.5 570.3h0M254.6 575.3h0M257.8 566.5h0M139.9 583.8h0M204.0 601.8h0M220.6 585.3h0M224.7 589.0h0M226.5 610.6h0M241.6 601.8h0M245.6 593.3h0M155.9 520.5h0M231.1 541.7h0M142.6 553.3h0M154.3 560.6h0M166.5 578.3h0M159.2 582.6h0M212.2 571.6h0M227.2 553.4h0M228.9 568.8h0M231.9 559.4h0" stroke="#d8e7f5" stroke-width="3.90" stroke-linecap="round" fill="none"/>
<path d="M92.7 580.4h0M211.0 575.5h0M264.4 550.1h0M268.2 549.6h0M269.0 558.2h0M274.8 542.0h0M274.8 545.1h0M279.0 540.0h0M284.3 575.9h0M284.1 578.8h0M285.1 584.0h0M287.5 559.6h0M290.5 540.7h0M292.1 570.2h0M250.2 574.0h0M252.1 555.7h0M254.9 581.7h0M211.6 600.2h0M214.9 601.9h0M222.6 611.6h0M231.9 611.3h0M246.3 604.4h0M232.8 541.5h0M151.9 564.2h0M144.8 557.8h0M225.2 578.2h0M229.8 575.9h0" stroke="#1d6cb1" stroke-width="3.90" stroke-linecap="round" fill="none"/>
<path d="M99.7 578.0h0M118.5 559.9h0M117.4 578.5h0M211.2 579.0h0M264.4 546.5h0M267.8 537.4h0M270.5 570.0h0M276.0 567.9h0M287.7 562.9h0M291.4 558.7h0M291.9 561.2h0M250.7 582.8h0M156.3 597.7h0M212.7 605.4h0M221.7 609.3h0M226.1 604.2h0M234.3 584.1h0M232.8 606.4h0M242.1 595.7h0M148.1 532.9h0M191.6 568.7h0M192.4 571.7h0M196.0 574.5h0M232.5 533.2h0M228.3 551.3h0M234.9 555.4h0M145.0 555.8h0M148.2 559.3h0M151.3 555.3h0M148.4 562.4h0M223.0 552.6h0M224.8 567.3h0M225.0 569.4h0" stroke="#0e58a2" stroke-width="3.90" stroke-linecap="round" fill="none"/>
<path d="M91.2 565.5h0M93.5 588.4h0M113.6 535.4h0M111.5 562.3h0M150.6 580.8h0M221.7 579.2h0M221.9 582.6h0M265.4 563.4h0M270.6 572.0h0M271.4 539.7h0M272.6 550.1h0M280.0 573.6h0M290.9 544.0h0M290.9 550.1h0M141.3 583.6h0M131.7 590.8h0M157.7 583.1h0M158.6 589.4h0M202.5 589.5h0M206.9 596.6h0M207.2 602.2h0M208.3 605.0h0M210.0 586.8h0M210.0 593.3h0M225.5 598.1h0M149.1 543.4h0M150.0 546.6h0M138.9 542.2h0M177.9 573.2h0M196.4 577.4h0M232.5 529.6h0M227.6 539.6h0M165.2 577.1h0M152.1 556.9h0" stroke="#5ea5d1" stroke-width="3.90" stroke-linecap="round" fill="none"/>
<path d="M90.8 562.0h0M98.8 547.0h0M127.1 580.3h0M126.7 583.3h0M127.7 592.0h0M159.9 589.0h0M172.2 586.5h0M172.9 590.9h0M173.4 594.8h0M264.5 552.6h0M280.5 585.7h0M287.7 557.2h0M288.0 565.4h0M201.4 587.0h0M206.7 593.8h0M212.9 589.3h0M237.6 590.6h0M144.9 534.1h0M145.5 540.7h0M179.4 579.3h0M180.9 585.9h0M193.9 579.1h0M204.5 574.2h0M233.1 538.5h0M149.9 561.9h0M162.1 577.5h0M165.4 576.1h0M223.2 558.3h0M224.2 564.6h0M230.0 572.1h0" stroke="#3080bd" stroke-width="3.90" stroke-linecap="round" fill="none"/>
<path d="M86.5 533.5h0M98.5 527.5h0M99.1 550.7h0M110.9 559.3h0M147.6 575.3h0M149.8 578.5h0M157.1 577.0h0M203.0 574.0h0M203.3 578.2h0M206.9 573.1h0M217.3 570.9h0M274.3 570.5h0M275.8 561.9h0M280.5 565.8h0M280.6 568.5h0M288.0 554.0h0M288.6 569.2h0M249.6 567.9h0M257.8 561.0h0M144.2 592.5h0M160.0 598.5h0M202.9 593.3h0M203.5 598.5h0M205.1 606.8h0M205.5 591.4h0M207.0 599.5h0M211.8 603.2h0M220.1 587.7h0M220.6 594.1h0M225.5 601.1h0M233.8 595.1h0M154.0 514.1h0M149.1 539.3h0M177.8 569.5h0M193.2 574.5h0M202.4 568.6h0M231.9 523.5h0M230.4 538.2h0M231.5 555.5h0M148.1 554.0h0M155.1 562.9h0M157.2 564.0h0M170.0 583.5h0M158.4 580.4h0M213.2 582.2h0M231.5 555.4h0" stroke="#caddf0" stroke-width="3.90" stroke-linecap="round" fill="none"/>
<path d="M87.4 542.6h0M88.0 544.8h0M98.2 530.1h0M99.3 558.8h0M100.2 584.7h0M112.9 541.7h0M262.8 538.8h0M265.7 567.0h0M275.6 547.7h0M276.0 556.2h0M279.5 557.1h0M288.3 571.8h0M289.0 577.2h0M248.7 552.7h0M257.6 563.3h0M154.7 591.1h0M159.4 592.9h0M204.5 603.8h0M208.7 608.4h0M214.3 599.3h0M234.0 589.8h0M238.2 585.9h0M236.4 596.6h0M204.7 576.7h0M231.5 520.8h0M227.5 536.3h0M230.3 535.9h0M153.5 566.8h0M157.1 565.5h0M164.0 574.6h0M154.3 560.0h0M158.3 566.1h0M162.4 571.3h0M153.9 572.0h0" stroke="#b4d3e9" stroke-width="3.90" stroke-linecap="round" fill="none"/>
<path d="M91.1 567.8h0M92.1 571.2h0M92.3 574.6h0M92.7 577.6h0M99.2 569.6h0M99.2 573.1h0M99.9 575.1h0M127.3 595.2h0M212.5 583.0h0M264.2 555.2h0M264.3 557.7h0M264.9 560.8h0M267.0 540.6h0M268.7 551.8h0M271.5 545.0h0M273.7 559.6h0M272.9 562.1h0M283.7 564.3h0M283.8 567.6h0M284.6 570.2h0M284.2 573.0h0M290.8 553.2h0M250.5 576.4h0M251.2 578.9h0M256.8 558.2h0M260.3 567.9h0M156.8 600.5h0M156.8 603.6h0M228.9 597.0h0M230.8 605.5h0M241.4 606.3h0M146.8 547.6h0M146.9 550.6h0M139.6 546.2h0M227.4 542.3h0M228.6 545.4h0M231.9 550.6h0M231.4 553.5h0M163.7 574.1h0M224.5 573.3h0" stroke="#08306b" stroke-width="3.90" stroke-linecap="round" fill="none"/>
<path d="M93.1 583.4h0M110.8 549.5h0M203.5 581.1h0M209.4 585.5h0M219.6 573.6h0M223.6 586.0h0M226.5 574.9h0M269.4 567.0h0M276.0 565.1h0M278.8 545.8h0M279.5 560.3h0M283.8 550.6h0M253.8 564.3h0M160.3 586.9h0M160.9 590.7h0M161.8 593.8h0M161.9 596.2h0M162.6 603.0h0M224.3 592.0h0M139.7 549.4h0M175.8 563.7h0M177.5 566.4h0M195.3 571.2h0M232.3 558.6h0M152.6 559.2h0M160.1 570.1h0M162.0 572.9h0M160.5 569.4h0M155.3 575.1h0M214.4 585.9h0M227.6 560.6h0M231.5 562.3h0M231.7 566.8h0" stroke="#e8f1fa" stroke-width="3.90" stroke-linecap="round" fill="none"/>
<path d="M515.5 545.4h0M516.7 540.0h0M520.0 565.1h0M526.0 577.2h0M532.9 545.6h0M533.3 549.7h0M512.1 562.1h0M552.7 561.9h0M558.7 564.1h0M559.7 570.3h0M562.7 560.6h0M564.3 544.3h0M569.2 551.7h0M558.9 568.9h0M562.1 553.1h0M561.4 564.1h0M572.2 548.6h0M572.3 551.1h0M490.7 534.9h0M488.2 581.7h0M498.2 559.9h0M498.6 563.3h0M621.2 530.1h0M601.6 548.9h0M603.8 586.0h0M611.2 570.9h0M611.4 573.7h0M611.0 576.9h0" stroke="#e8f1fa" stroke-width="3.90" stroke-linecap="round" fill="none"/>
<path d="M516.5 551.2h0M515.9 555.0h0M514.9 530.7h0M515.5 536.5h0M520.8 570.4h0M519.1 531.9h0M524.0 564.5h0M528.4 555.4h0M529.9 559.3h0M531.5 536.8h0M531.8 540.1h0M535.3 570.2h0M553.2 541.6h0M560.3 577.3h0M560.6 542.1h0M563.1 564.3h0M563.7 566.3h0M564.8 547.4h0M568.2 571.8h0M568.2 574.9h0M568.6 577.7h0M570.7 564.8h0M571.0 568.1h0M571.0 571.4h0M570.0 530.7h0M570.4 534.3h0M572.7 556.9h0M573.8 534.7h0M574.3 538.8h0M574.4 541.9h0M575.3 544.9h0M576.0 547.8h0M559.8 575.7h0M572.9 555.3h0M573.5 568.1h0M573.4 571.7h0M469.7 546.9h0M469.3 549.4h0M475.3 554.2h0M491.6 542.7h0M483.9 550.4h0M487.5 575.4h0M488.2 585.0h0M489.6 545.5h0M603.2 563.2h0M604.4 566.8h0M610.2 526.9h0M623.4 533.7h0M589.8 566.3h0M589.2 569.2h0M601.6 555.9h0M602.4 559.6h0M602.7 566.4h0M602.5 569.7h0M602.3 573.1h0M603.4 576.5h0M603.5 579.5h0M608.0 543.1h0M612.8 586.6h0M595.9 579.7h0M596.3 582.7h0M596.6 589.9h0" stroke="#f7fbff" stroke-width="3.90" stroke-linecap="round" fill="none"/>
<path d="M516.9 563.6h0M516.9 567.4h0M513.9 532.6h0M515.0 542.2h0M518.6 558.2h0M520.2 561.8h0M520.6 541.6h0M522.0 545.2h0M527.2 549.0h0M527.8 553.1h0M530.4 528.0h0M531.1 533.9h0M553.1 535.9h0M571.9 543.4h0M571.8 546.3h0M571.9 550.0h0M572.8 553.3h0M574.1 571.9h0M581.0 550.4h0M581.0 553.8h0M580.9 560.7h0M580.9 563.8h0M566.2 560.6h0M565.5 563.7h0M566.6 566.4h0M569.2 568.3h0M502.8 584.7h0M505.1 561.4h0M506.0 564.0h0M506.5 568.3h0M506.9 570.7h0M510.3 584.8h0M500.3 559.7h0M501.2 562.8h0M502.1 565.9h0M502.3 569.1h0M503.4 572.9h0M602.4 533.7h0M602.6 537.8h0M602.4 540.7h0M602.3 543.3h0M602.7 547.5h0M602.6 550.3h0M602.9 553.7h0M603.9 557.2h0M603.3 559.9h0M609.9 543.7h0M610.0 557.1h0M595.7 557.7h0M596.1 561.4h0M597.7 573.2h0M609.0 549.6h0M608.8 552.1h0" stroke="#08306b" stroke-width="3.90" stroke-linecap="round" fill="none"/>
<path d="M517.2 570.0h0M515.1 539.6h0M518.7 552.8h0M519.3 535.3h0M532.2 576.0h0M531.7 543.5h0M561.4 552.1h0M565.9 553.3h0M569.3 548.1h0M574.3 568.8h0M581.2 557.0h0M558.3 556.9h0M561.7 566.6h0M565.9 554.8h0M566.5 570.2h0M569.5 556.1h0M485.5 563.3h0M486.1 565.7h0M492.2 570.2h0M507.8 574.3h0M499.3 553.5h0M504.1 575.7h0M608.2 528.4h0M609.4 537.6h0M609.7 541.6h0M609.6 550.5h0M610.7 536.1h0M582.8 576.2h0M608.0 546.8h0M594.2 567.9h0M594.0 570.7h0M595.0 574.1h0" stroke="#0e58a2" stroke-width="3.90" stroke-linecap="round" fill="none"/>
<path d="M517.2 561.0h0M525.3 567.6h0M525.7 574.0h0M533.4 551.7h0M511.4 557.4h0M552.6 546.4h0M552.0 551.0h0M558.5 567.5h0M561.9 557.4h0M564.3 540.8h0M566.5 565.2h0M570.1 558.6h0M571.4 574.2h0M559.5 566.1h0M560.1 572.1h0M569.5 561.9h0M569.9 571.2h0M569.9 576.8h0M573.2 562.0h0M469.2 533.4h0M469.0 537.6h0M475.0 544.7h0M483.8 544.4h0M484.1 553.6h0M484.6 556.1h0M484.8 559.4h0M486.3 572.6h0M490.6 552.0h0M492.2 573.7h0M493.1 576.2h0M492.8 582.1h0M610.1 566.0h0M610.7 532.9h0M621.0 526.6h0M602.8 562.4h0M609.5 558.5h0M595.6 577.2h0M582.7 584.3h0" stroke="#b4d3e9" stroke-width="3.90" stroke-linecap="round" fill="none"/>
<path d="M515.5 557.8h0M521.6 548.0h0M526.1 570.9h0M535.0 564.7h0M536.5 573.3h0M564.8 579.4h0M563.2 534.7h0M566.6 529.8h0M566.7 532.7h0M562.5 577.5h0M570.1 564.8h0M573.5 576.0h0M468.8 530.6h0M475.3 535.1h0M475.3 560.4h0M491.6 549.0h0M486.9 568.6h0M490.8 560.8h0M492.7 580.2h0M497.6 557.5h0M609.3 531.4h0M611.0 542.5h0M624.6 544.0h0M597.0 566.7h0M609.8 565.2h0" stroke="#5ea5d1" stroke-width="3.90" stroke-linecap="round" fill="none"/>
<path d="M531.1 565.9h0M534.1 554.9h0M533.9 561.1h0M556.1 547.9h0M564.2 573.2h0M564.6 575.5h0M567.2 538.3h0M568.6 542.5h0M571.5 537.8h0M568.8 549.3h0M572.6 557.8h0M573.1 564.7h0M475.0 547.6h0M474.9 550.4h0M475.3 557.1h0M492.5 552.1h0M496.0 548.5h0M499.3 568.9h0M612.2 551.7h0M621.8 541.6h0M621.6 544.5h0M615.4 545.5h0M615.4 548.4h0M595.3 555.5h0M608.1 540.7h0M609.9 562.1h0M612.9 589.9h0M590.3 585.9h0" stroke="#9ac8e0" stroke-width="3.90" stroke-linecap="round" fill="none"/>
<path d="M516.3 561.3h0M513.1 526.1h0M518.5 570.4h0M517.3 549.4h0M525.4 540.0h0M526.4 545.8h0M531.6 569.3h0M535.5 568.2h0M565.0 550.5h0M573.4 559.1h0M581.5 542.5h0M567.2 579.2h0M475.2 541.9h0M491.8 556.3h0M491.3 564.0h0M508.8 577.7h0M500.4 556.0h0M609.3 535.3h0M623.9 540.6h0M606.3 595.6h0" stroke="#3080bd" stroke-width="3.90" stroke-linecap="round" fill="none"/>
<path d="M515.3 551.7h0M516.6 558.1h0M518.2 564.0h0M517.9 567.1h0M521.9 551.3h0M558.1 560.9h0M561.6 556.6h0M569.4 559.0h0M570.2 573.9h0M468.9 553.5h0M475.3 538.3h0M483.0 540.8h0M491.5 558.4h0M491.9 567.0h0M497.1 551.7h0M509.9 580.9h0M504.4 579.5h0M608.1 525.2h0M621.4 533.3h0" stroke="#7bb7d9" stroke-width="3.90" stroke-linecap="round" fill="none"/>
<path d="M511.7 525.4h0M513.6 535.8h0M513.8 544.5h0M514.2 548.7h0M515.7 554.2h0M523.1 554.5h0M557.2 551.4h0M558.0 557.3h0M565.9 555.9h0M566.6 559.2h0M567.8 568.4h0M573.0 563.2h0M558.8 559.9h0M499.1 566.3h0M501.0 578.6h0M608.9 547.2h0M610.8 539.6h0M611.6 545.3h0M611.5 548.3h0M594.3 546.3h0M594.5 549.1h0M596.3 569.6h0M590.7 562.6h0M589.0 581.9h0" stroke="#4594c7" stroke-width="3.90" stroke-linecap="round" fill="none"/>
<path d="M516.6 542.8h0M517.0 546.0h0M519.0 555.9h0M530.2 530.8h0M553.5 530.6h0M556.7 555.0h0M560.8 549.1h0M561.5 555.2h0M567.2 535.5h0M571.1 540.4h0M574.4 566.3h0M562.7 570.8h0M562.1 573.9h0M565.4 557.8h0M566.6 572.3h0M566.8 575.7h0M482.5 538.2h0M500.6 575.0h0M601.2 531.3h0M609.2 553.9h0M612.1 554.5h0M612.3 557.5h0M615.8 541.6h0M616.6 552.2h0M595.4 551.6h0M579.4 580.1h0M582.8 576.5h0" stroke="#1d6cb1" stroke-width="3.90" stroke-linecap="round" fill="none"/>
<path d="M512.2 528.7h0M512.2 532.1h0M515.3 548.4h0M516.0 533.3h0M520.7 568.1h0M518.7 529.9h0M522.9 558.1h0M523.7 561.9h0M552.5 556.7h0M559.1 574.2h0M564.3 537.7h0M569.7 561.5h0M573.2 529.0h0M574.3 532.1h0M582.3 539.2h0M558.8 562.6h0M568.3 546.9h0M454.3 526.6h0M469.5 540.7h0M490.9 539.3h0M483.5 547.4h0M490.7 555.3h0M497.3 553.7h0M622.0 537.6h0M623.2 530.3h0M623.6 537.3h0M601.3 552.4h0M603.1 582.8h0M596.8 585.8h0" stroke="#d8e7f5" stroke-width="3.90" stroke-linecap="round" fill="none"/>
<path d="M513.9 541.5h0M514.4 527.8h0M521.4 573.4h0M530.6 562.3h0M534.6 558.6h0M510.3 560.1h0M512.9 565.8h0M559.8 540.0h0M561.1 545.3h0M563.6 570.0h0M566.9 562.1h0M568.8 545.7h0M572.4 577.5h0M561.3 560.6h0M564.7 548.5h0M565.8 551.4h0M469.3 527.9h0M469.0 543.7h0M487.9 577.8h0M489.9 548.9h0M500.6 572.7h0M610.3 562.7h0M610.6 529.5h0M626.2 535.6h0M589.9 572.7h0M589.4 576.4h0M589.2 579.4h0M609.4 556.0h0M610.0 568.1h0M611.4 580.4h0M612.1 583.4h0" stroke="#caddf0" stroke-width="3.90" stroke-linecap="round" fill="none"/>
<path d="M513.8 538.3h0M514.0 530.1h0M514.7 536.1h0M520.7 538.7h0M526.7 542.9h0M531.9 571.8h0M569.6 555.4h0M581.5 546.0h0M569.2 553.1h0M491.6 545.2h0M502.2 581.6h0M503.8 558.0h0M610.0 560.1h0M596.1 563.6h0M590.6 559.6h0M581.8 581.1h0" stroke="#084489" stroke-width="3.90" stroke-linecap="round" fill="none"/>
<line x1="44.4" y1="235" x2="44.4" y2="425" stroke="#888" stroke-width="0.9"/>
<line x1="44" y1="424.6" x2="329" y2="424.6" stroke="#888" stroke-width="0.9"/>
<line x1="400.4" y1="235" x2="400.4" y2="425" stroke="#888" stroke-width="0.9"/>
<line x1="400" y1="424.6" x2="685" y2="424.6" stroke="#888" stroke-width="0.9"/>
<line x1="50.4" y1="460" x2="50.4" y2="646" stroke="#5a5a5a" stroke-width="0.9"/>
<line x1="50" y1="645.6" x2="329" y2="645.6" stroke="#5a5a5a" stroke-width="0.9"/>
<line x1="406.79999999999995" y1="460" x2="406.79999999999995" y2="646" stroke="#5a5a5a" stroke-width="0.9"/>
<line x1="406.4" y1="645.6" x2="685.0" y2="645.6" stroke="#5a5a5a" stroke-width="0.9"/>
<rect x="52.8" y="413.9" width="50.5" height="3.1" fill="#fff"/>
<rect x="408.8" y="413.9" width="50.5" height="3.1" fill="#fff"/>
<rect x="58.5" y="634.5" width="49.4" height="3.0" fill="#fff"/>
<rect x="414.5" y="634.5" width="49.4" height="3.0" fill="#fff"/>
<text transform="translate(37.10,366.30) rotate(-90)" font-size="11.1" text-anchor="start" font-weight="normal" fill="#231f20" textLength="72.9" lengthAdjust="spacingAndGlyphs">Dorsal–Ventral</text>
<text transform="translate(149.90,438.70)" font-size="11.1" text-anchor="start" font-weight="normal" fill="#231f20" textLength="74.5" lengthAdjust="spacingAndGlyphs">Medial–Lateral</text>
<text transform="translate(393.60,367.00) rotate(-90)" font-size="11.1" text-anchor="start" font-weight="normal" fill="#231f20" textLength="72.9" lengthAdjust="spacingAndGlyphs">Dorsal–Ventral</text>
<text transform="translate(505.50,439.20)" font-size="11.1" text-anchor="start" font-weight="normal" fill="#231f20" textLength="74.5" lengthAdjust="spacingAndGlyphs">Medial–Lateral</text>
<text transform="translate(43.00,590.00) rotate(-90)" font-size="11.1" text-anchor="start" font-weight="normal" fill="#231f20" textLength="72.9" lengthAdjust="spacingAndGlyphs">Dorsal–Ventral</text>
<text transform="translate(152.60,659.80)" font-size="11.1" text-anchor="start" font-weight="normal" fill="#231f20" textLength="74.5" lengthAdjust="spacingAndGlyphs">Medial–Lateral</text>
<text transform="translate(400.20,590.00) rotate(-90)" font-size="11.1" text-anchor="start" font-weight="normal" fill="#231f20" textLength="72.9" lengthAdjust="spacingAndGlyphs">Dorsal–Ventral</text>
<text transform="translate(508.00,660.20)" font-size="11.1" text-anchor="start" font-weight="normal" fill="#231f20" textLength="74.5" lengthAdjust="spacingAndGlyphs">Medial–Lateral</text>
<rect x="77.2" y="492.6" width="4.5" height="100.8" fill="url(#blues)" stroke="#2a2a2a" stroke-width="0.6"/>
<line x1="71.2" y1="492.6" x2="77.2" y2="492.6" stroke="#2a2a2a" stroke-width="0.8"/>
<line x1="71.2" y1="593.4" x2="77.2" y2="593.4" stroke="#2a2a2a" stroke-width="0.8"/>
<text transform="translate(72.30,490.00) scale(1.02,1.0)" font-size="11.0" text-anchor="middle" font-weight="normal" fill="#ffffff">0.06</text>
<text transform="translate(72.50,605.20) scale(1.02,1.0)" font-size="11.0" text-anchor="middle" font-weight="normal" fill="#ffffff">0</text>
<text transform="translate(65.20,591.60) rotate(-90)" font-size="10.6" text-anchor="start" font-weight="normal" fill="#ffffff" textLength="96.4" lengthAdjust="spacingAndGlyphs">Explained variance</text>
<rect x="433.2" y="492.6" width="4.5" height="100.8" fill="url(#blues)" stroke="#2a2a2a" stroke-width="0.6"/>
<line x1="427.2" y1="492.6" x2="433.2" y2="492.6" stroke="#2a2a2a" stroke-width="0.8"/>
<line x1="427.2" y1="593.4" x2="433.2" y2="593.4" stroke="#2a2a2a" stroke-width="0.8"/>
<text transform="translate(428.30,490.00) scale(1.02,1.0)" font-size="11.0" text-anchor="middle" font-weight="normal" fill="#ffffff">0.06</text>
<text transform="translate(428.50,605.20) scale(1.02,1.0)" font-size="11.0" text-anchor="middle" font-weight="normal" fill="#ffffff">0</text>
<text transform="translate(421.20,591.60) rotate(-90)" font-size="10.6" text-anchor="start" font-weight="normal" fill="#ffffff" textLength="96.4" lengthAdjust="spacingAndGlyphs">Explained variance</text>
<line x1="44.5" y1="694.8" x2="44.5" y2="897.4" stroke="#6e6e6e" stroke-width="1"/>
<line x1="39.5" y1="897.4" x2="328.8" y2="897.4" stroke="#6e6e6e" stroke-width="1"/>
<line x1="39.4" y1="897.40" x2="44.5" y2="897.40" stroke="#6e6e6e" stroke-width="1"/>
<text transform="translate(34.40,901.60) scale(1.04,1.0)" font-size="10.2" text-anchor="end" font-weight="normal" fill="#231f20">0</text>
<line x1="39.4" y1="860.48" x2="44.5" y2="860.48" stroke="#6e6e6e" stroke-width="1"/>
<text transform="translate(34.40,864.68) scale(1.04,1.0)" font-size="10.2" text-anchor="end" font-weight="normal" fill="#231f20">0.2</text>
<line x1="39.4" y1="823.56" x2="44.5" y2="823.56" stroke="#6e6e6e" stroke-width="1"/>
<text transform="translate(34.40,827.76) scale(1.04,1.0)" font-size="10.2" text-anchor="end" font-weight="normal" fill="#231f20">0.4</text>
<line x1="39.4" y1="786.64" x2="44.5" y2="786.64" stroke="#6e6e6e" stroke-width="1"/>
<text transform="translate(34.40,790.84) scale(1.04,1.0)" font-size="10.2" text-anchor="end" font-weight="normal" fill="#231f20">0.6</text>
<line x1="39.4" y1="749.72" x2="44.5" y2="749.72" stroke="#6e6e6e" stroke-width="1"/>
<text transform="translate(34.40,753.92) scale(1.04,1.0)" font-size="10.2" text-anchor="end" font-weight="normal" fill="#231f20">0.8</text>
<line x1="39.4" y1="712.80" x2="44.5" y2="712.80" stroke="#6e6e6e" stroke-width="1"/>
<text transform="translate(34.40,717.00) scale(1.04,1.0)" font-size="10.2" text-anchor="end" font-weight="normal" fill="#231f20">1.0</text>
<line x1="44.50" y1="897.4" x2="44.50" y2="902.6" stroke="#6e6e6e" stroke-width="1"/>
<text transform="translate(44.50,915.00) scale(1.04,1.0)" font-size="10.2" text-anchor="middle" font-weight="normal" fill="#231f20">0</text>
<line x1="101.36" y1="897.4" x2="101.36" y2="902.6" stroke="#6e6e6e" stroke-width="1"/>
<text transform="translate(101.36,915.00) scale(1.04,1.0)" font-size="10.2" text-anchor="middle" font-weight="normal" fill="#231f20">0.1</text>
<line x1="158.22" y1="897.4" x2="158.22" y2="902.6" stroke="#6e6e6e" stroke-width="1"/>
<text transform="translate(158.22,915.00) scale(1.04,1.0)" font-size="10.2" text-anchor="middle" font-weight="normal" fill="#231f20">0.2</text>
<line x1="215.08" y1="897.4" x2="215.08" y2="902.6" stroke="#6e6e6e" stroke-width="1"/>
<text transform="translate(215.08,915.00) scale(1.04,1.0)" font-size="10.2" text-anchor="middle" font-weight="normal" fill="#231f20">0.3</text>
<line x1="271.94" y1="897.4" x2="271.94" y2="902.6" stroke="#6e6e6e" stroke-width="1"/>
<text transform="translate(271.94,915.00) scale(1.04,1.0)" font-size="10.2" text-anchor="middle" font-weight="normal" fill="#231f20">0.4</text>
<line x1="328.80" y1="897.4" x2="328.80" y2="902.6" stroke="#6e6e6e" stroke-width="1"/>
<text transform="translate(328.80,915.00) scale(1.04,1.0)" font-size="10.2" text-anchor="middle" font-weight="normal" fill="#231f20">0.5</text>
<text transform="translate(105.70,930.40)" font-size="11.1" text-anchor="start" font-weight="normal" fill="#231f20" textLength="162.6" lengthAdjust="spacingAndGlyphs">Difference in explained variance</text>
<text transform="translate(10.20,893.60) rotate(-90)" font-size="11.1" text-anchor="start" font-weight="normal" fill="#231f20" textLength="196.3" lengthAdjust="spacingAndGlyphs">Cumulative distribution function value</text>
<polyline points="44.7,896.0 46.5,870.0 48.6,845.7 51.8,820.0 56.1,796.4 61.4,777.1 67.9,762.1 76.4,748.2 87.1,737.5 100.0,728.9 115.0,723.6 136.4,719.3 160.0,716.1 190.0,714.6 230.0,713.9 294.7,713.3" fill="none" stroke="#8c8c8c" stroke-width="2.2" stroke-linejoin="round"/>
<polyline points="44.7,896.0 45.8,872.0 47.5,850.0 49.0,835.0 50.7,822.1 53.9,798.6 57.1,781.4 61.4,764.3 67.9,751.4 79.6,736.4 85.0,732.1 98.9,724.6 115.0,720.4 136.4,717.6 160.0,715.4 190.0,714.4 230.0,713.8 294.7,713.3" fill="none" stroke="#2828e6" stroke-width="1.1" stroke-linejoin="round"/>
<line x1="233.7" y1="868.8" x2="243.9" y2="868.8" stroke="#2828e6" stroke-width="1.1"/>
<line x1="233.7" y1="883.5" x2="243.9" y2="883.5" stroke="#8c8c8c" stroke-width="2.2"/>
<text transform="translate(251.50,872.90)" font-size="9.9" text-anchor="start" font-weight="normal" fill="#231f20" textLength="19.3" lengthAdjust="spacingAndGlyphs">Data</text>
<text transform="translate(251.50,887.20)" font-size="9.9" text-anchor="start" font-weight="normal" fill="#231f20" textLength="65" lengthAdjust="spacingAndGlyphs">Shuffle control</text>
<line x1="401.0" y1="695" x2="401.0" y2="896.8" stroke="#6e6e6e" stroke-width="1"/>
<line x1="401.0" y1="896.8" x2="685" y2="896.8" stroke="#6e6e6e" stroke-width="1"/>
<line x1="395.2" y1="896.80" x2="401.0" y2="896.80" stroke="#6e6e6e" stroke-width="1"/>
<text transform="translate(390.70,900.40) scale(1.06,1.0)" font-size="10.2" text-anchor="end" font-weight="normal" fill="#231f20">0</text>
<line x1="395.2" y1="863.20" x2="401.0" y2="863.20" stroke="#6e6e6e" stroke-width="1"/>
<text transform="translate(390.70,866.80) scale(1.06,1.0)" font-size="10.2" text-anchor="end" font-weight="normal" fill="#231f20">0.01</text>
<line x1="395.2" y1="829.60" x2="401.0" y2="829.60" stroke="#6e6e6e" stroke-width="1"/>
<text transform="translate(390.70,833.20) scale(1.06,1.0)" font-size="10.2" text-anchor="end" font-weight="normal" fill="#231f20">0.02</text>
<line x1="395.2" y1="796.00" x2="401.0" y2="796.00" stroke="#6e6e6e" stroke-width="1"/>
<text transform="translate(390.70,799.60) scale(1.06,1.0)" font-size="10.2" text-anchor="end" font-weight="normal" fill="#231f20">0.03</text>
<line x1="395.2" y1="762.40" x2="401.0" y2="762.40" stroke="#6e6e6e" stroke-width="1"/>
<text transform="translate(390.70,766.00) scale(1.06,1.0)" font-size="10.2" text-anchor="end" font-weight="normal" fill="#231f20">0.04</text>
<line x1="395.2" y1="728.80" x2="401.0" y2="728.80" stroke="#6e6e6e" stroke-width="1"/>
<text transform="translate(390.70,732.40) scale(1.06,1.0)" font-size="10.2" text-anchor="end" font-weight="normal" fill="#231f20">0.05</text>
<line x1="395.2" y1="695.20" x2="401.0" y2="695.20" stroke="#6e6e6e" stroke-width="1"/>
<text transform="translate(390.70,698.80) scale(1.06,1.0)" font-size="10.2" text-anchor="end" font-weight="normal" fill="#231f20">0.06</text>
<rect x="414.10" y="753.90" width="30.3" height="142.90" fill="#8000ff"/>
<line x1="429.25" y1="744.5" x2="429.25" y2="763.2" stroke="#3a3a3a" stroke-width="0.9"/>
<line x1="424.45" y1="744.5" x2="434.05" y2="744.5" stroke="#3a3a3a" stroke-width="0.9"/>
<line x1="424.45" y1="763.2" x2="434.05" y2="763.2" stroke="#3a3a3a" stroke-width="0.9"/>
<line x1="429.25" y1="896.8" x2="429.25" y2="901.8" stroke="#6e6e6e" stroke-width="1"/>
<text transform="translate(429.25,916.10)" font-size="10.4" text-anchor="middle" font-weight="normal" fill="#231f20">CN</text>
<rect x="452.08" y="781.38" width="30.3" height="115.42" fill="#2c7ff7"/>
<line x1="467.23" y1="777.3" x2="467.23" y2="784.4" stroke="#3a3a3a" stroke-width="0.9"/>
<line x1="462.43" y1="777.3" x2="472.03" y2="777.3" stroke="#3a3a3a" stroke-width="0.9"/>
<line x1="462.43" y1="784.4" x2="472.03" y2="784.4" stroke="#3a3a3a" stroke-width="0.9"/>
<line x1="467.23" y1="896.8" x2="467.23" y2="901.8" stroke="#6e6e6e" stroke-width="1"/>
<text transform="translate(467.23,916.10)" font-size="10.4" text-anchor="middle" font-weight="normal" fill="#231f20">MD</text>
<rect x="490.06" y="772.11" width="30.3" height="124.69" fill="#2adcdc"/>
<line x1="505.21" y1="763.3" x2="505.21" y2="779.4" stroke="#3a3a3a" stroke-width="0.9"/>
<line x1="500.41" y1="763.3" x2="510.01" y2="763.3" stroke="#3a3a3a" stroke-width="0.9"/>
<line x1="500.41" y1="779.4" x2="510.01" y2="779.4" stroke="#3a3a3a" stroke-width="0.9"/>
<line x1="505.21" y1="896.8" x2="505.21" y2="901.8" stroke="#6e6e6e" stroke-width="1"/>
<text transform="translate(505.21,916.10)" font-size="10.4" text-anchor="middle" font-weight="normal" fill="#231f20">PCN</text>
<rect x="528.04" y="712.40" width="30.3" height="184.40" fill="#80ffb4"/>
<line x1="543.19" y1="704.3" x2="543.19" y2="720.4" stroke="#3a3a3a" stroke-width="0.9"/>
<line x1="538.39" y1="704.3" x2="547.99" y2="704.3" stroke="#3a3a3a" stroke-width="0.9"/>
<line x1="538.39" y1="720.4" x2="547.99" y2="720.4" stroke="#3a3a3a" stroke-width="0.9"/>
<line x1="543.19" y1="896.8" x2="543.19" y2="901.8" stroke="#6e6e6e" stroke-width="1"/>
<text transform="translate(543.19,916.10)" font-size="10.4" text-anchor="middle" font-weight="normal" fill="#231f20">PO</text>
<rect x="566.02" y="776.11" width="30.3" height="120.69" fill="#d4dd80"/>
<line x1="581.17" y1="769.8" x2="581.17" y2="781.9" stroke="#3a3a3a" stroke-width="0.9"/>
<line x1="576.37" y1="769.8" x2="585.97" y2="769.8" stroke="#3a3a3a" stroke-width="0.9"/>
<line x1="576.37" y1="781.9" x2="585.97" y2="781.9" stroke="#3a3a3a" stroke-width="0.9"/>
<line x1="581.17" y1="896.8" x2="581.17" y2="901.8" stroke="#6e6e6e" stroke-width="1"/>
<text transform="translate(581.17,916.10)" font-size="10.4" text-anchor="middle" font-weight="normal" fill="#231f20">VAL</text>
<rect x="604.00" y="756.39" width="30.3" height="140.41" fill="#ff7f41"/>
<line x1="619.15" y1="747.2" x2="619.15" y2="765.5" stroke="#3a3a3a" stroke-width="0.9"/>
<line x1="614.35" y1="747.2" x2="623.95" y2="747.2" stroke="#3a3a3a" stroke-width="0.9"/>
<line x1="614.35" y1="765.5" x2="623.95" y2="765.5" stroke="#3a3a3a" stroke-width="0.9"/>
<line x1="619.15" y1="896.8" x2="619.15" y2="901.8" stroke="#6e6e6e" stroke-width="1"/>
<text transform="translate(619.15,916.10)" font-size="10.4" text-anchor="middle" font-weight="normal" fill="#231f20">VM</text>
<rect x="641.98" y="729.20" width="30.3" height="167.60" fill="#ff0000"/>
<line x1="657.13" y1="721.5" x2="657.13" y2="736.5" stroke="#3a3a3a" stroke-width="0.9"/>
<line x1="652.33" y1="721.5" x2="661.93" y2="721.5" stroke="#3a3a3a" stroke-width="0.9"/>
<line x1="652.33" y1="736.5" x2="661.93" y2="736.5" stroke="#3a3a3a" stroke-width="0.9"/>
<line x1="657.13" y1="896.8" x2="657.13" y2="901.8" stroke="#6e6e6e" stroke-width="1"/>
<text transform="translate(657.13,916.10)" font-size="10.4" text-anchor="middle" font-weight="normal" fill="#231f20">VP</text>
<text transform="translate(360.80,858.70) rotate(-90)" font-size="11.1" text-anchor="start" font-weight="normal" fill="#231f20" textLength="125.8" lengthAdjust="spacingAndGlyphs">Mean explained variance</text>
</svg></body></html>
